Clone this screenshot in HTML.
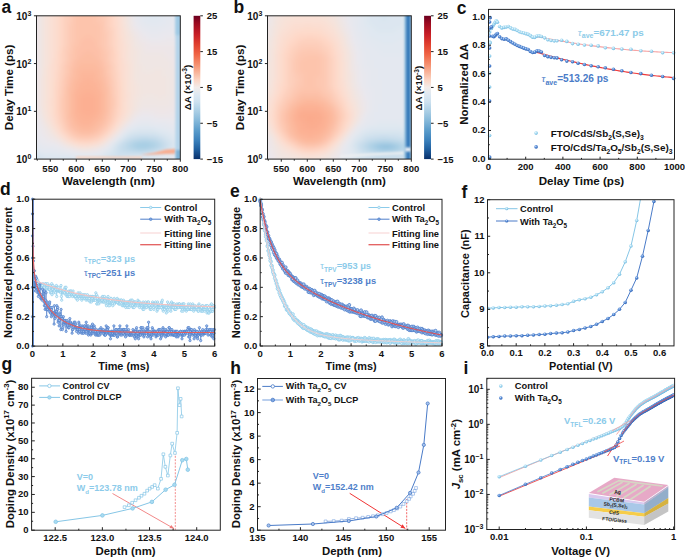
<!DOCTYPE html><html><head><meta charset="utf-8"><style>html,body{margin:0;padding:0;background:#fff;width:685px;height:557px;overflow:hidden}text{font-family:"Liberation Sans",sans-serif}</style></head><body><svg width="685" height="557" viewBox="0 0 685 557" style="display:block;font-family:'Liberation Sans',sans-serif">
<rect width="685" height="557" fill="#fff"/>
<defs>
<radialGradient id="gL" cx="0.4" cy="0.35" r="0.65"><stop offset="0" stop-color="#eef9ff"/><stop offset="0.45" stop-color="#a9dcf2"/><stop offset="1" stop-color="#6fb8df"/></radialGradient>
<radialGradient id="gD" cx="0.4" cy="0.35" r="0.65"><stop offset="0" stop-color="#c8dcf6"/><stop offset="0.45" stop-color="#5b8fd8"/><stop offset="1" stop-color="#2f62b4"/></radialGradient>
</defs>
<defs><filter id="bl4" x="-50%" y="-50%" width="200%" height="200%"><feGaussianBlur stdDeviation="4"/></filter><filter id="bl2" x="-50%" y="-50%" width="200%" height="200%"><feGaussianBlur stdDeviation="1.8"/></filter><filter id="bl1" x="-50%" y="-50%" width="200%" height="200%"><feGaussianBlur stdDeviation="0.9"/></filter></defs>
<defs><clipPath id="clipA"><rect x="36.5" y="15.8" width="143.80" height="143.30"/></clipPath><filter id="clipAf" x="-10%" y="-10%" width="120%" height="120%"><feGaussianBlur stdDeviation="2.4"/></filter></defs>
<g clip-path="url(#clipA)"><g filter="url(#clipAf)" shape-rendering="crispEdges">
<path d="M28 8h8.6v4.6H28z" fill="#ebe7eb"/>
<path d="M36 8h4.6v4.6H36z" fill="#ede6e8"/>
<path d="M40 8h4.6v4.6H40z" fill="#f1e5e1"/>
<path d="M44 8h4.6v4.6H44z" fill="#f5e3dc"/>
<path d="M48 8h4.6v4.6H48z" fill="#f9e1d7"/>
<path d="M52 8h4.6v4.6H52z" fill="#fbded2"/>
<path d="M56 8h4.6v4.6H56z" fill="#fddbcc"/>
<path d="M60 8h4.6v4.6H60z" fill="#fed6c5"/>
<path d="M64 8h4.6v4.6H64z" fill="#fdd0bd"/>
<path d="M68 8h4.6v4.6H68z" fill="#fdcdb9"/>
<path d="M72 8h8.6v4.6H72z" fill="#fdc7b1"/>
<path d="M80 8h16.6v4.6H80z" fill="#fdc4ac"/>
<path d="M96 8h4.6v4.6H96z" fill="#fdc7b1"/>
<path d="M100 8h4.6v4.6H100z" fill="#fdcab5"/>
<path d="M104 8h4.6v4.6H104z" fill="#fdcdb9"/>
<path d="M108 8h4.6v4.6H108z" fill="#fed3c1"/>
<path d="M112 8h4.6v4.6H112z" fill="#fed9c9"/>
<path d="M116 8h4.6v4.6H116z" fill="#fbded2"/>
<path d="M120 8h4.6v4.6H120z" fill="#f9e1d7"/>
<path d="M124 8h4.6v4.6H124z" fill="#f3e4df"/>
<path d="M128 8h4.6v4.6H128z" fill="#ede6e8"/>
<path d="M132 8h4.6v4.6H132z" fill="#e9e8ee"/>
<path d="M136 8h4.6v4.6H136z" fill="#e5e8ef"/>
<path d="M140 8h4.6v4.6H140z" fill="#e4e8f0"/>
<path d="M144 8h4.6v4.6H144z" fill="#e2e8f0"/>
<path d="M148 8h12.6v4.6H148z" fill="#e0e8f1"/>
<path d="M160 8h8.6v4.6H160z" fill="#e2e8f0"/>
<path d="M168 8h4.6v4.6H168z" fill="#e4e8f0"/>
<path d="M172 8h4.6v4.6H172z" fill="#e5e8ef"/>
<path d="M176 8h12.6v4.6H176z" fill="#e7e8ef"/>
<path d="M28 12h8.6v4.6H28z" fill="#ebe7eb"/>
<path d="M36 12h4.6v4.6H36z" fill="#ede6e8"/>
<path d="M40 12h4.6v4.6H40z" fill="#f1e5e1"/>
<path d="M44 12h4.6v4.6H44z" fill="#f5e3dc"/>
<path d="M48 12h4.6v4.6H48z" fill="#f9e1d7"/>
<path d="M52 12h4.6v4.6H52z" fill="#fbded2"/>
<path d="M56 12h4.6v4.6H56z" fill="#fddbcc"/>
<path d="M60 12h4.6v4.6H60z" fill="#fed6c5"/>
<path d="M64 12h4.6v4.6H64z" fill="#fdd0bd"/>
<path d="M68 12h4.6v4.6H68z" fill="#fdcdb9"/>
<path d="M72 12h8.6v4.6H72z" fill="#fdc7b1"/>
<path d="M80 12h16.6v4.6H80z" fill="#fdc4ac"/>
<path d="M96 12h4.6v4.6H96z" fill="#fdc7b1"/>
<path d="M100 12h4.6v4.6H100z" fill="#fdcab5"/>
<path d="M104 12h4.6v4.6H104z" fill="#fdcdb9"/>
<path d="M108 12h4.6v4.6H108z" fill="#fed3c1"/>
<path d="M112 12h4.6v4.6H112z" fill="#fed9c9"/>
<path d="M116 12h4.6v4.6H116z" fill="#fbded2"/>
<path d="M120 12h4.6v4.6H120z" fill="#f9e1d7"/>
<path d="M124 12h4.6v4.6H124z" fill="#f3e4df"/>
<path d="M128 12h4.6v4.6H128z" fill="#ede6e8"/>
<path d="M132 12h4.6v4.6H132z" fill="#e9e8ee"/>
<path d="M136 12h4.6v4.6H136z" fill="#e5e8ef"/>
<path d="M140 12h4.6v4.6H140z" fill="#e4e8f0"/>
<path d="M144 12h4.6v4.6H144z" fill="#e2e8f0"/>
<path d="M148 12h12.6v4.6H148z" fill="#e0e8f1"/>
<path d="M160 12h8.6v4.6H160z" fill="#e2e8f0"/>
<path d="M168 12h4.6v4.6H168z" fill="#e4e8f0"/>
<path d="M172 12h4.6v4.6H172z" fill="#e5e8ef"/>
<path d="M176 12h12.6v4.6H176z" fill="#e7e8ef"/>
<path d="M28 16h8.6v4.6H28z" fill="#ebe7eb"/>
<path d="M36 16h4.6v4.6H36z" fill="#ede6e8"/>
<path d="M40 16h4.6v4.6H40z" fill="#f1e5e1"/>
<path d="M44 16h4.6v4.6H44z" fill="#f5e3dc"/>
<path d="M48 16h4.6v4.6H48z" fill="#f9e1d7"/>
<path d="M52 16h4.6v4.6H52z" fill="#fbded2"/>
<path d="M56 16h4.6v4.6H56z" fill="#fddbcc"/>
<path d="M60 16h4.6v4.6H60z" fill="#fed6c5"/>
<path d="M64 16h4.6v4.6H64z" fill="#fdd0bd"/>
<path d="M68 16h4.6v4.6H68z" fill="#fdcdb9"/>
<path d="M72 16h4.6v4.6H72z" fill="#fdc7b1"/>
<path d="M76 16h20.6v4.6H76z" fill="#fdc4ac"/>
<path d="M96 16h4.6v4.6H96z" fill="#fdc7b1"/>
<path d="M100 16h4.6v4.6H100z" fill="#fdcab5"/>
<path d="M104 16h4.6v4.6H104z" fill="#fdcdb9"/>
<path d="M108 16h4.6v4.6H108z" fill="#fed3c1"/>
<path d="M112 16h4.6v4.6H112z" fill="#fed9c9"/>
<path d="M116 16h4.6v4.6H116z" fill="#fbded2"/>
<path d="M120 16h4.6v4.6H120z" fill="#f9e1d7"/>
<path d="M124 16h4.6v4.6H124z" fill="#f3e4df"/>
<path d="M128 16h4.6v4.6H128z" fill="#efe6e4"/>
<path d="M132 16h4.6v4.6H132z" fill="#e9e8ee"/>
<path d="M136 16h4.6v4.6H136z" fill="#e5e8ef"/>
<path d="M140 16h4.6v4.6H140z" fill="#e4e8f0"/>
<path d="M144 16h4.6v4.6H144z" fill="#e2e8f0"/>
<path d="M148 16h12.6v4.6H148z" fill="#e0e8f1"/>
<path d="M160 16h4.6v4.6H160z" fill="#e2e8f0"/>
<path d="M164 16h8.6v4.6H164z" fill="#e4e8f0"/>
<path d="M172 16h4.6v4.6H172z" fill="#e5e8ef"/>
<path d="M176 16h12.6v4.6H176z" fill="#e7e8ef"/>
<path d="M28 20h8.6v4.6H28z" fill="#ebe7eb"/>
<path d="M36 20h4.6v4.6H36z" fill="#ede6e8"/>
<path d="M40 20h4.6v4.6H40z" fill="#f1e5e1"/>
<path d="M44 20h4.6v4.6H44z" fill="#f5e3dc"/>
<path d="M48 20h4.6v4.6H48z" fill="#f9e1d7"/>
<path d="M52 20h4.6v4.6H52z" fill="#fbded2"/>
<path d="M56 20h4.6v4.6H56z" fill="#fddbcc"/>
<path d="M60 20h4.6v4.6H60z" fill="#fed6c5"/>
<path d="M64 20h4.6v4.6H64z" fill="#fdd0bd"/>
<path d="M68 20h4.6v4.6H68z" fill="#fdcdb9"/>
<path d="M72 20h4.6v4.6H72z" fill="#fdc7b1"/>
<path d="M76 20h20.6v4.6H76z" fill="#fdc4ac"/>
<path d="M96 20h8.6v4.6H96z" fill="#fdc7b1"/>
<path d="M104 20h4.6v4.6H104z" fill="#fdcdb9"/>
<path d="M108 20h4.6v4.6H108z" fill="#fed3c1"/>
<path d="M112 20h4.6v4.6H112z" fill="#fed9c9"/>
<path d="M116 20h4.6v4.6H116z" fill="#fcdccf"/>
<path d="M120 20h4.6v4.6H120z" fill="#f9e1d7"/>
<path d="M124 20h4.6v4.6H124z" fill="#f3e4df"/>
<path d="M128 20h4.6v4.6H128z" fill="#efe6e4"/>
<path d="M132 20h4.6v4.6H132z" fill="#ebe7eb"/>
<path d="M136 20h4.6v4.6H136z" fill="#e7e8ef"/>
<path d="M140 20h4.6v4.6H140z" fill="#e4e8f0"/>
<path d="M144 20h16.6v4.6H144z" fill="#e2e8f0"/>
<path d="M160 20h8.6v4.6H160z" fill="#e4e8f0"/>
<path d="M168 20h4.6v4.6H168z" fill="#e5e8ef"/>
<path d="M172 20h8.6v4.6H172z" fill="#e7e8ef"/>
<path d="M180 20h8.6v4.6H180z" fill="#e9e8ee"/>
<path d="M28 24h8.6v4.6H28z" fill="#ebe7eb"/>
<path d="M36 24h4.6v4.6H36z" fill="#ede6e8"/>
<path d="M40 24h4.6v4.6H40z" fill="#f1e5e1"/>
<path d="M44 24h4.6v4.6H44z" fill="#f5e3dc"/>
<path d="M48 24h4.6v4.6H48z" fill="#f9e1d7"/>
<path d="M52 24h4.6v4.6H52z" fill="#fbded2"/>
<path d="M56 24h4.6v4.6H56z" fill="#fddbcc"/>
<path d="M60 24h4.6v4.6H60z" fill="#fed6c5"/>
<path d="M64 24h4.6v4.6H64z" fill="#fdd0bd"/>
<path d="M68 24h4.6v4.6H68z" fill="#fdcab5"/>
<path d="M72 24h4.6v4.6H72z" fill="#fdc7b1"/>
<path d="M76 24h24.6v4.6H76z" fill="#fdc4ac"/>
<path d="M100 24h4.6v4.6H100z" fill="#fdc7b1"/>
<path d="M104 24h4.6v4.6H104z" fill="#fdcdb9"/>
<path d="M108 24h4.6v4.6H108z" fill="#fed3c1"/>
<path d="M112 24h4.6v4.6H112z" fill="#fed9c9"/>
<path d="M116 24h4.6v4.6H116z" fill="#fcdccf"/>
<path d="M120 24h4.6v4.6H120z" fill="#f9e1d7"/>
<path d="M124 24h4.6v4.6H124z" fill="#f5e3dc"/>
<path d="M128 24h4.6v4.6H128z" fill="#efe6e4"/>
<path d="M132 24h4.6v4.6H132z" fill="#ebe7eb"/>
<path d="M136 24h4.6v4.6H136z" fill="#e9e8ee"/>
<path d="M140 24h8.6v4.6H140z" fill="#e5e8ef"/>
<path d="M148 24h16.6v4.6H148z" fill="#e4e8f0"/>
<path d="M164 24h4.6v4.6H164z" fill="#e5e8ef"/>
<path d="M168 24h8.6v4.6H168z" fill="#e7e8ef"/>
<path d="M176 24h12.6v4.6H176z" fill="#e9e8ee"/>
<path d="M28 28h8.6v4.6H28z" fill="#ebe7eb"/>
<path d="M36 28h4.6v4.6H36z" fill="#ede6e8"/>
<path d="M40 28h4.6v4.6H40z" fill="#f1e5e1"/>
<path d="M44 28h4.6v4.6H44z" fill="#f5e3dc"/>
<path d="M48 28h4.6v4.6H48z" fill="#f9e1d7"/>
<path d="M52 28h4.6v4.6H52z" fill="#fbded2"/>
<path d="M56 28h4.6v4.6H56z" fill="#fddbcc"/>
<path d="M60 28h4.6v4.6H60z" fill="#fed6c5"/>
<path d="M64 28h4.6v4.6H64z" fill="#fdd0bd"/>
<path d="M68 28h4.6v4.6H68z" fill="#fdcab5"/>
<path d="M72 28h4.6v4.6H72z" fill="#fdc7b1"/>
<path d="M76 28h24.6v4.6H76z" fill="#fdc4ac"/>
<path d="M100 28h4.6v4.6H100z" fill="#fdc7b1"/>
<path d="M104 28h4.6v4.6H104z" fill="#fdcdb9"/>
<path d="M108 28h4.6v4.6H108z" fill="#fdd0bd"/>
<path d="M112 28h4.6v4.6H112z" fill="#fed6c5"/>
<path d="M116 28h4.6v4.6H116z" fill="#fcdccf"/>
<path d="M120 28h4.6v4.6H120z" fill="#fae0d4"/>
<path d="M124 28h4.6v4.6H124z" fill="#f5e3dc"/>
<path d="M128 28h4.6v4.6H128z" fill="#f1e5e1"/>
<path d="M132 28h4.6v4.6H132z" fill="#ede6e8"/>
<path d="M136 28h4.6v4.6H136z" fill="#ebe7eb"/>
<path d="M140 28h8.6v4.6H140z" fill="#e7e8ef"/>
<path d="M148 28h12.6v4.6H148z" fill="#e5e8ef"/>
<path d="M160 28h12.6v4.6H160z" fill="#e7e8ef"/>
<path d="M172 28h16.6v4.6H172z" fill="#e9e8ee"/>
<path d="M28 32h8.6v4.6H28z" fill="#ebe7eb"/>
<path d="M36 32h4.6v4.6H36z" fill="#ede6e8"/>
<path d="M40 32h4.6v4.6H40z" fill="#f1e5e1"/>
<path d="M44 32h4.6v4.6H44z" fill="#f5e3dc"/>
<path d="M48 32h4.6v4.6H48z" fill="#f9e1d7"/>
<path d="M52 32h4.6v4.6H52z" fill="#fbded2"/>
<path d="M56 32h4.6v4.6H56z" fill="#fddbcc"/>
<path d="M60 32h4.6v4.6H60z" fill="#fed6c5"/>
<path d="M64 32h4.6v4.6H64z" fill="#fdd0bd"/>
<path d="M68 32h4.6v4.6H68z" fill="#fdcab5"/>
<path d="M72 32h4.6v4.6H72z" fill="#fdc7b1"/>
<path d="M76 32h24.6v4.6H76z" fill="#fdc4ac"/>
<path d="M100 32h4.6v4.6H100z" fill="#fdc7b1"/>
<path d="M104 32h4.6v4.6H104z" fill="#fdcab5"/>
<path d="M108 32h4.6v4.6H108z" fill="#fdd0bd"/>
<path d="M112 32h4.6v4.6H112z" fill="#fed6c5"/>
<path d="M116 32h4.6v4.6H116z" fill="#fcdccf"/>
<path d="M120 32h4.6v4.6H120z" fill="#fae0d4"/>
<path d="M124 32h4.6v4.6H124z" fill="#f7e2d9"/>
<path d="M128 32h4.6v4.6H128z" fill="#f3e4df"/>
<path d="M132 32h4.6v4.6H132z" fill="#efe6e4"/>
<path d="M136 32h4.6v4.6H136z" fill="#ede6e8"/>
<path d="M140 32h4.6v4.6H140z" fill="#ebe7eb"/>
<path d="M144 32h4.6v4.6H144z" fill="#e9e8ee"/>
<path d="M148 32h12.6v4.6H148z" fill="#e7e8ef"/>
<path d="M160 32h16.6v4.6H160z" fill="#e9e8ee"/>
<path d="M176 32h12.6v4.6H176z" fill="#ebe7eb"/>
<path d="M28 36h8.6v4.6H28z" fill="#ebe7eb"/>
<path d="M36 36h4.6v4.6H36z" fill="#ede6e8"/>
<path d="M40 36h4.6v4.6H40z" fill="#f1e5e1"/>
<path d="M44 36h4.6v4.6H44z" fill="#f5e3dc"/>
<path d="M48 36h4.6v4.6H48z" fill="#f9e1d7"/>
<path d="M52 36h4.6v4.6H52z" fill="#fbded2"/>
<path d="M56 36h4.6v4.6H56z" fill="#fddbcc"/>
<path d="M60 36h4.6v4.6H60z" fill="#fed6c5"/>
<path d="M64 36h4.6v4.6H64z" fill="#fdd0bd"/>
<path d="M68 36h4.6v4.6H68z" fill="#fdcab5"/>
<path d="M72 36h4.6v4.6H72z" fill="#fdc7b1"/>
<path d="M76 36h8.6v4.6H76z" fill="#fdc4ac"/>
<path d="M84 36h8.6v4.6H84z" fill="#fdc0a8"/>
<path d="M92 36h8.6v4.6H92z" fill="#fdc4ac"/>
<path d="M100 36h4.6v4.6H100z" fill="#fdc7b1"/>
<path d="M104 36h4.6v4.6H104z" fill="#fdcab5"/>
<path d="M108 36h4.6v4.6H108z" fill="#fdd0bd"/>
<path d="M112 36h4.6v4.6H112z" fill="#fed6c5"/>
<path d="M116 36h4.6v4.6H116z" fill="#fddbcc"/>
<path d="M120 36h4.6v4.6H120z" fill="#fae0d4"/>
<path d="M124 36h4.6v4.6H124z" fill="#f7e2d9"/>
<path d="M128 36h4.6v4.6H128z" fill="#f3e4df"/>
<path d="M132 36h4.6v4.6H132z" fill="#f1e5e1"/>
<path d="M136 36h4.6v4.6H136z" fill="#ede6e8"/>
<path d="M140 36h8.6v4.6H140z" fill="#ebe7eb"/>
<path d="M148 36h16.6v4.6H148z" fill="#e9e8ee"/>
<path d="M164 36h24.6v4.6H164z" fill="#ebe7eb"/>
<path d="M28 40h8.6v4.6H28z" fill="#ebe7eb"/>
<path d="M36 40h4.6v4.6H36z" fill="#ede6e8"/>
<path d="M40 40h4.6v4.6H40z" fill="#f1e5e1"/>
<path d="M44 40h4.6v4.6H44z" fill="#f5e3dc"/>
<path d="M48 40h4.6v4.6H48z" fill="#f9e1d7"/>
<path d="M52 40h4.6v4.6H52z" fill="#fbded2"/>
<path d="M56 40h4.6v4.6H56z" fill="#fddbcc"/>
<path d="M60 40h4.6v4.6H60z" fill="#fed6c5"/>
<path d="M64 40h4.6v4.6H64z" fill="#fdd0bd"/>
<path d="M68 40h4.6v4.6H68z" fill="#fdcab5"/>
<path d="M72 40h4.6v4.6H72z" fill="#fdc7b1"/>
<path d="M76 40h4.6v4.6H76z" fill="#fdc4ac"/>
<path d="M80 40h16.6v4.6H80z" fill="#fdc0a8"/>
<path d="M96 40h4.6v4.6H96z" fill="#fdc4ac"/>
<path d="M100 40h4.6v4.6H100z" fill="#fdc7b1"/>
<path d="M104 40h4.6v4.6H104z" fill="#fdcab5"/>
<path d="M108 40h4.6v4.6H108z" fill="#fdd0bd"/>
<path d="M112 40h4.6v4.6H112z" fill="#fed6c5"/>
<path d="M116 40h4.6v4.6H116z" fill="#fddbcc"/>
<path d="M120 40h4.6v4.6H120z" fill="#fbded2"/>
<path d="M124 40h4.6v4.6H124z" fill="#f7e2d9"/>
<path d="M128 40h4.6v4.6H128z" fill="#f5e3dc"/>
<path d="M132 40h4.6v4.6H132z" fill="#f1e5e1"/>
<path d="M136 40h4.6v4.6H136z" fill="#efe6e4"/>
<path d="M140 40h8.6v4.6H140z" fill="#ede6e8"/>
<path d="M148 40h40.6v4.6H148z" fill="#ebe7eb"/>
<path d="M28 44h8.6v4.6H28z" fill="#ebe7eb"/>
<path d="M36 44h4.6v4.6H36z" fill="#ede6e8"/>
<path d="M40 44h4.6v4.6H40z" fill="#f1e5e1"/>
<path d="M44 44h4.6v4.6H44z" fill="#f5e3dc"/>
<path d="M48 44h4.6v4.6H48z" fill="#f9e1d7"/>
<path d="M52 44h4.6v4.6H52z" fill="#fbded2"/>
<path d="M56 44h4.6v4.6H56z" fill="#fddbcc"/>
<path d="M60 44h4.6v4.6H60z" fill="#fed6c5"/>
<path d="M64 44h4.6v4.6H64z" fill="#fdd0bd"/>
<path d="M68 44h4.6v4.6H68z" fill="#fdcab5"/>
<path d="M72 44h8.6v4.6H72z" fill="#fdc4ac"/>
<path d="M80 44h16.6v4.6H80z" fill="#fdc0a8"/>
<path d="M96 44h4.6v4.6H96z" fill="#fdc4ac"/>
<path d="M100 44h4.6v4.6H100z" fill="#fdc7b1"/>
<path d="M104 44h4.6v4.6H104z" fill="#fdcab5"/>
<path d="M108 44h4.6v4.6H108z" fill="#fdd0bd"/>
<path d="M112 44h4.6v4.6H112z" fill="#fed6c5"/>
<path d="M116 44h4.6v4.6H116z" fill="#fddbcc"/>
<path d="M120 44h4.6v4.6H120z" fill="#fbded2"/>
<path d="M124 44h4.6v4.6H124z" fill="#f9e1d7"/>
<path d="M128 44h4.6v4.6H128z" fill="#f5e3dc"/>
<path d="M132 44h4.6v4.6H132z" fill="#f1e5e1"/>
<path d="M136 44h8.6v4.6H136z" fill="#efe6e4"/>
<path d="M144 44h44.6v4.6H144z" fill="#ede6e8"/>
<path d="M28 48h8.6v4.6H28z" fill="#ebe7eb"/>
<path d="M36 48h4.6v4.6H36z" fill="#ede6e8"/>
<path d="M40 48h4.6v4.6H40z" fill="#f1e5e1"/>
<path d="M44 48h4.6v4.6H44z" fill="#f5e3dc"/>
<path d="M48 48h4.6v4.6H48z" fill="#f9e1d7"/>
<path d="M52 48h4.6v4.6H52z" fill="#fbded2"/>
<path d="M56 48h4.6v4.6H56z" fill="#fddbcc"/>
<path d="M60 48h4.6v4.6H60z" fill="#fed3c1"/>
<path d="M64 48h4.6v4.6H64z" fill="#fdcdb9"/>
<path d="M68 48h4.6v4.6H68z" fill="#fdcab5"/>
<path d="M72 48h4.6v4.6H72z" fill="#fdc4ac"/>
<path d="M76 48h24.6v4.6H76z" fill="#fdc0a8"/>
<path d="M100 48h4.6v4.6H100z" fill="#fdc4ac"/>
<path d="M104 48h4.6v4.6H104z" fill="#fdcab5"/>
<path d="M108 48h4.6v4.6H108z" fill="#fdcdb9"/>
<path d="M112 48h4.6v4.6H112z" fill="#fed3c1"/>
<path d="M116 48h4.6v4.6H116z" fill="#fddbcc"/>
<path d="M120 48h4.6v4.6H120z" fill="#fbded2"/>
<path d="M124 48h4.6v4.6H124z" fill="#f9e1d7"/>
<path d="M128 48h4.6v4.6H128z" fill="#f5e3dc"/>
<path d="M132 48h4.6v4.6H132z" fill="#f3e4df"/>
<path d="M136 48h4.6v4.6H136z" fill="#f1e5e1"/>
<path d="M140 48h4.6v4.6H140z" fill="#efe6e4"/>
<path d="M144 48h44.6v4.6H144z" fill="#ede6e8"/>
<path d="M28 52h8.6v4.6H28z" fill="#ebe7eb"/>
<path d="M36 52h4.6v4.6H36z" fill="#ede6e8"/>
<path d="M40 52h4.6v4.6H40z" fill="#f1e5e1"/>
<path d="M44 52h4.6v4.6H44z" fill="#f5e3dc"/>
<path d="M48 52h4.6v4.6H48z" fill="#f9e1d7"/>
<path d="M52 52h4.6v4.6H52z" fill="#fbded2"/>
<path d="M56 52h4.6v4.6H56z" fill="#fed9c9"/>
<path d="M60 52h4.6v4.6H60z" fill="#fed3c1"/>
<path d="M64 52h4.6v4.6H64z" fill="#fdcdb9"/>
<path d="M68 52h4.6v4.6H68z" fill="#fdc7b1"/>
<path d="M72 52h4.6v4.6H72z" fill="#fdc4ac"/>
<path d="M76 52h8.6v4.6H76z" fill="#fdc0a8"/>
<path d="M84 52h8.6v4.6H84z" fill="#fcbda3"/>
<path d="M92 52h8.6v4.6H92z" fill="#fdc0a8"/>
<path d="M100 52h4.6v4.6H100z" fill="#fdc4ac"/>
<path d="M104 52h4.6v4.6H104z" fill="#fdc7b1"/>
<path d="M108 52h4.6v4.6H108z" fill="#fdcdb9"/>
<path d="M112 52h4.6v4.6H112z" fill="#fed3c1"/>
<path d="M116 52h4.6v4.6H116z" fill="#fed9c9"/>
<path d="M120 52h4.6v4.6H120z" fill="#fbded2"/>
<path d="M124 52h4.6v4.6H124z" fill="#f9e1d7"/>
<path d="M128 52h4.6v4.6H128z" fill="#f5e3dc"/>
<path d="M132 52h4.6v4.6H132z" fill="#f3e4df"/>
<path d="M136 52h4.6v4.6H136z" fill="#f1e5e1"/>
<path d="M140 52h24.6v4.6H140z" fill="#efe6e4"/>
<path d="M164 52h24.6v4.6H164z" fill="#ede6e8"/>
<path d="M28 56h8.6v4.6H28z" fill="#ebe7eb"/>
<path d="M36 56h4.6v4.6H36z" fill="#ede6e8"/>
<path d="M40 56h4.6v4.6H40z" fill="#f1e5e1"/>
<path d="M44 56h4.6v4.6H44z" fill="#f5e3dc"/>
<path d="M48 56h4.6v4.6H48z" fill="#f9e1d7"/>
<path d="M52 56h4.6v4.6H52z" fill="#fbded2"/>
<path d="M56 56h4.6v4.6H56z" fill="#fed9c9"/>
<path d="M60 56h4.6v4.6H60z" fill="#fed3c1"/>
<path d="M64 56h4.6v4.6H64z" fill="#fdcdb9"/>
<path d="M68 56h4.6v4.6H68z" fill="#fdc7b1"/>
<path d="M72 56h4.6v4.6H72z" fill="#fdc4ac"/>
<path d="M76 56h4.6v4.6H76z" fill="#fdc0a8"/>
<path d="M80 56h16.6v4.6H80z" fill="#fcbda3"/>
<path d="M96 56h4.6v4.6H96z" fill="#fdc0a8"/>
<path d="M100 56h4.6v4.6H100z" fill="#fdc4ac"/>
<path d="M104 56h4.6v4.6H104z" fill="#fdc7b1"/>
<path d="M108 56h4.6v4.6H108z" fill="#fdcdb9"/>
<path d="M112 56h4.6v4.6H112z" fill="#fed3c1"/>
<path d="M116 56h4.6v4.6H116z" fill="#fed9c9"/>
<path d="M120 56h4.6v4.6H120z" fill="#fbded2"/>
<path d="M124 56h4.6v4.6H124z" fill="#f9e1d7"/>
<path d="M128 56h4.6v4.6H128z" fill="#f5e3dc"/>
<path d="M132 56h4.6v4.6H132z" fill="#f3e4df"/>
<path d="M136 56h4.6v4.6H136z" fill="#f1e5e1"/>
<path d="M140 56h28.6v4.6H140z" fill="#efe6e4"/>
<path d="M168 56h20.6v4.6H168z" fill="#ede6e8"/>
<path d="M28 60h8.6v4.6H28z" fill="#ebe7eb"/>
<path d="M36 60h4.6v4.6H36z" fill="#ede6e8"/>
<path d="M40 60h4.6v4.6H40z" fill="#f1e5e1"/>
<path d="M44 60h4.6v4.6H44z" fill="#f5e3dc"/>
<path d="M48 60h4.6v4.6H48z" fill="#f9e1d7"/>
<path d="M52 60h4.6v4.6H52z" fill="#fcdccf"/>
<path d="M56 60h4.6v4.6H56z" fill="#fed9c9"/>
<path d="M60 60h4.6v4.6H60z" fill="#fed3c1"/>
<path d="M64 60h4.6v4.6H64z" fill="#fdcdb9"/>
<path d="M68 60h4.6v4.6H68z" fill="#fdc7b1"/>
<path d="M72 60h4.6v4.6H72z" fill="#fdc0a8"/>
<path d="M76 60h24.6v4.6H76z" fill="#fcbda3"/>
<path d="M100 60h4.6v4.6H100z" fill="#fdc0a8"/>
<path d="M104 60h4.6v4.6H104z" fill="#fdc7b1"/>
<path d="M108 60h4.6v4.6H108z" fill="#fdcdb9"/>
<path d="M112 60h4.6v4.6H112z" fill="#fed3c1"/>
<path d="M116 60h4.6v4.6H116z" fill="#fed9c9"/>
<path d="M120 60h4.6v4.6H120z" fill="#fcdccf"/>
<path d="M124 60h4.6v4.6H124z" fill="#f9e1d7"/>
<path d="M128 60h4.6v4.6H128z" fill="#f7e2d9"/>
<path d="M132 60h4.6v4.6H132z" fill="#f3e4df"/>
<path d="M136 60h4.6v4.6H136z" fill="#f1e5e1"/>
<path d="M140 60h32.6v4.6H140z" fill="#efe6e4"/>
<path d="M172 60h16.6v4.6H172z" fill="#ede6e8"/>
<path d="M28 64h8.6v4.6H28z" fill="#ebe7eb"/>
<path d="M36 64h4.6v4.6H36z" fill="#ede6e8"/>
<path d="M40 64h4.6v4.6H40z" fill="#f1e5e1"/>
<path d="M44 64h4.6v4.6H44z" fill="#f5e3dc"/>
<path d="M48 64h4.6v4.6H48z" fill="#fae0d4"/>
<path d="M52 64h4.6v4.6H52z" fill="#fcdccf"/>
<path d="M56 64h4.6v4.6H56z" fill="#fed9c9"/>
<path d="M60 64h4.6v4.6H60z" fill="#fdd0bd"/>
<path d="M64 64h4.6v4.6H64z" fill="#fdcab5"/>
<path d="M68 64h4.6v4.6H68z" fill="#fdc4ac"/>
<path d="M72 64h4.6v4.6H72z" fill="#fdc0a8"/>
<path d="M76 64h4.6v4.6H76z" fill="#fcbda3"/>
<path d="M80 64h16.6v4.6H80z" fill="#fcba9f"/>
<path d="M96 64h4.6v4.6H96z" fill="#fcbda3"/>
<path d="M100 64h4.6v4.6H100z" fill="#fdc0a8"/>
<path d="M104 64h4.6v4.6H104z" fill="#fdc4ac"/>
<path d="M108 64h4.6v4.6H108z" fill="#fdcab5"/>
<path d="M112 64h4.6v4.6H112z" fill="#fdd0bd"/>
<path d="M116 64h4.6v4.6H116z" fill="#fed9c9"/>
<path d="M120 64h4.6v4.6H120z" fill="#fcdccf"/>
<path d="M124 64h4.6v4.6H124z" fill="#fae0d4"/>
<path d="M128 64h4.6v4.6H128z" fill="#f7e2d9"/>
<path d="M132 64h4.6v4.6H132z" fill="#f3e4df"/>
<path d="M136 64h8.6v4.6H136z" fill="#f1e5e1"/>
<path d="M144 64h28.6v4.6H144z" fill="#efe6e4"/>
<path d="M172 64h16.6v4.6H172z" fill="#ede6e8"/>
<path d="M28 68h8.6v4.6H28z" fill="#ebe7eb"/>
<path d="M36 68h4.6v4.6H36z" fill="#ede6e8"/>
<path d="M40 68h4.6v4.6H40z" fill="#f1e5e1"/>
<path d="M44 68h4.6v4.6H44z" fill="#f7e2d9"/>
<path d="M48 68h4.6v4.6H48z" fill="#fae0d4"/>
<path d="M52 68h4.6v4.6H52z" fill="#fcdccf"/>
<path d="M56 68h4.6v4.6H56z" fill="#fed9c9"/>
<path d="M60 68h4.6v4.6H60z" fill="#fdd0bd"/>
<path d="M64 68h4.6v4.6H64z" fill="#fdcab5"/>
<path d="M68 68h4.6v4.6H68z" fill="#fdc4ac"/>
<path d="M72 68h4.6v4.6H72z" fill="#fcbda3"/>
<path d="M76 68h24.6v4.6H76z" fill="#fcba9f"/>
<path d="M100 68h4.6v4.6H100z" fill="#fcbda3"/>
<path d="M104 68h4.6v4.6H104z" fill="#fdc4ac"/>
<path d="M108 68h4.6v4.6H108z" fill="#fdcab5"/>
<path d="M112 68h4.6v4.6H112z" fill="#fdd0bd"/>
<path d="M116 68h4.6v4.6H116z" fill="#fed9c9"/>
<path d="M120 68h4.6v4.6H120z" fill="#fcdccf"/>
<path d="M124 68h4.6v4.6H124z" fill="#fae0d4"/>
<path d="M128 68h4.6v4.6H128z" fill="#f7e2d9"/>
<path d="M132 68h4.6v4.6H132z" fill="#f3e4df"/>
<path d="M136 68h8.6v4.6H136z" fill="#f1e5e1"/>
<path d="M144 68h8.6v4.6H144z" fill="#efe6e4"/>
<path d="M152 68h12.6v4.6H152z" fill="#f1e5e1"/>
<path d="M164 68h12.6v4.6H164z" fill="#efe6e4"/>
<path d="M176 68h12.6v4.6H176z" fill="#ede6e8"/>
<path d="M28 72h8.6v4.6H28z" fill="#ebe7eb"/>
<path d="M36 72h4.6v4.6H36z" fill="#ede6e8"/>
<path d="M40 72h4.6v4.6H40z" fill="#f1e5e1"/>
<path d="M44 72h4.6v4.6H44z" fill="#f7e2d9"/>
<path d="M48 72h4.6v4.6H48z" fill="#fae0d4"/>
<path d="M52 72h4.6v4.6H52z" fill="#fcdccf"/>
<path d="M56 72h4.6v4.6H56z" fill="#fed6c5"/>
<path d="M60 72h4.6v4.6H60z" fill="#fdd0bd"/>
<path d="M64 72h4.6v4.6H64z" fill="#fdcab5"/>
<path d="M68 72h4.6v4.6H68z" fill="#fdc4ac"/>
<path d="M72 72h4.6v4.6H72z" fill="#fcbda3"/>
<path d="M76 72h4.6v4.6H76z" fill="#fcba9f"/>
<path d="M80 72h16.6v4.6H80z" fill="#fcb69a"/>
<path d="M96 72h4.6v4.6H96z" fill="#fcba9f"/>
<path d="M100 72h4.6v4.6H100z" fill="#fcbda3"/>
<path d="M104 72h4.6v4.6H104z" fill="#fdc4ac"/>
<path d="M108 72h4.6v4.6H108z" fill="#fdcab5"/>
<path d="M112 72h4.6v4.6H112z" fill="#fdd0bd"/>
<path d="M116 72h4.6v4.6H116z" fill="#fed6c5"/>
<path d="M120 72h4.6v4.6H120z" fill="#fcdccf"/>
<path d="M124 72h4.6v4.6H124z" fill="#fae0d4"/>
<path d="M128 72h4.6v4.6H128z" fill="#f7e2d9"/>
<path d="M132 72h4.6v4.6H132z" fill="#f3e4df"/>
<path d="M136 72h28.6v4.6H136z" fill="#f1e5e1"/>
<path d="M164 72h12.6v4.6H164z" fill="#efe6e4"/>
<path d="M176 72h12.6v4.6H176z" fill="#ede6e8"/>
<path d="M28 76h12.6v4.6H28z" fill="#ede6e8"/>
<path d="M40 76h4.6v4.6H40z" fill="#f3e4df"/>
<path d="M44 76h4.6v4.6H44z" fill="#f7e2d9"/>
<path d="M48 76h4.6v4.6H48z" fill="#fae0d4"/>
<path d="M52 76h4.6v4.6H52z" fill="#fcdccf"/>
<path d="M56 76h4.6v4.6H56z" fill="#fed6c5"/>
<path d="M60 76h4.6v4.6H60z" fill="#fdd0bd"/>
<path d="M64 76h4.6v4.6H64z" fill="#fdc7b1"/>
<path d="M68 76h4.6v4.6H68z" fill="#fdc0a8"/>
<path d="M72 76h4.6v4.6H72z" fill="#fcbda3"/>
<path d="M76 76h4.6v4.6H76z" fill="#fcba9f"/>
<path d="M80 76h16.6v4.6H80z" fill="#fcb69a"/>
<path d="M96 76h4.6v4.6H96z" fill="#fcba9f"/>
<path d="M100 76h4.6v4.6H100z" fill="#fcbda3"/>
<path d="M104 76h4.6v4.6H104z" fill="#fdc0a8"/>
<path d="M108 76h4.6v4.6H108z" fill="#fdc7b1"/>
<path d="M112 76h4.6v4.6H112z" fill="#fdd0bd"/>
<path d="M116 76h4.6v4.6H116z" fill="#fed6c5"/>
<path d="M120 76h4.6v4.6H120z" fill="#fcdccf"/>
<path d="M124 76h4.6v4.6H124z" fill="#fae0d4"/>
<path d="M128 76h4.6v4.6H128z" fill="#f7e2d9"/>
<path d="M132 76h4.6v4.6H132z" fill="#f3e4df"/>
<path d="M136 76h32.6v4.6H136z" fill="#f1e5e1"/>
<path d="M168 76h8.6v4.6H168z" fill="#efe6e4"/>
<path d="M176 76h12.6v4.6H176z" fill="#ede6e8"/>
<path d="M28 80h12.6v4.6H28z" fill="#ede6e8"/>
<path d="M40 80h4.6v4.6H40z" fill="#f3e4df"/>
<path d="M44 80h4.6v4.6H44z" fill="#f7e2d9"/>
<path d="M48 80h4.6v4.6H48z" fill="#fae0d4"/>
<path d="M52 80h4.6v4.6H52z" fill="#fddbcc"/>
<path d="M56 80h4.6v4.6H56z" fill="#fed6c5"/>
<path d="M60 80h4.6v4.6H60z" fill="#fdcdb9"/>
<path d="M64 80h4.6v4.6H64z" fill="#fdc7b1"/>
<path d="M68 80h4.6v4.6H68z" fill="#fdc0a8"/>
<path d="M72 80h4.6v4.6H72z" fill="#fcba9f"/>
<path d="M76 80h8.6v4.6H76z" fill="#fcb69a"/>
<path d="M84 80h8.6v4.6H84z" fill="#fcb396"/>
<path d="M92 80h8.6v4.6H92z" fill="#fcb69a"/>
<path d="M100 80h4.6v4.6H100z" fill="#fcba9f"/>
<path d="M104 80h4.6v4.6H104z" fill="#fdc0a8"/>
<path d="M108 80h4.6v4.6H108z" fill="#fdc7b1"/>
<path d="M112 80h4.6v4.6H112z" fill="#fdcdb9"/>
<path d="M116 80h4.6v4.6H116z" fill="#fed6c5"/>
<path d="M120 80h4.6v4.6H120z" fill="#fddbcc"/>
<path d="M124 80h4.6v4.6H124z" fill="#fae0d4"/>
<path d="M128 80h4.6v4.6H128z" fill="#f7e2d9"/>
<path d="M132 80h4.6v4.6H132z" fill="#f5e3dc"/>
<path d="M136 80h32.6v4.6H136z" fill="#f1e5e1"/>
<path d="M168 80h8.6v4.6H168z" fill="#efe6e4"/>
<path d="M176 80h12.6v4.6H176z" fill="#ede6e8"/>
<path d="M28 84h12.6v4.6H28z" fill="#ede6e8"/>
<path d="M40 84h4.6v4.6H40z" fill="#f3e4df"/>
<path d="M44 84h4.6v4.6H44z" fill="#f7e2d9"/>
<path d="M48 84h4.6v4.6H48z" fill="#fae0d4"/>
<path d="M52 84h4.6v4.6H52z" fill="#fddbcc"/>
<path d="M56 84h4.6v4.6H56z" fill="#fed6c5"/>
<path d="M60 84h4.6v4.6H60z" fill="#fdcdb9"/>
<path d="M64 84h4.6v4.6H64z" fill="#fdc7b1"/>
<path d="M68 84h4.6v4.6H68z" fill="#fcbda3"/>
<path d="M72 84h4.6v4.6H72z" fill="#fcba9f"/>
<path d="M76 84h4.6v4.6H76z" fill="#fcb69a"/>
<path d="M80 84h16.6v4.6H80z" fill="#fcb396"/>
<path d="M96 84h4.6v4.6H96z" fill="#fcb69a"/>
<path d="M100 84h4.6v4.6H100z" fill="#fcba9f"/>
<path d="M104 84h4.6v4.6H104z" fill="#fcbda3"/>
<path d="M108 84h4.6v4.6H108z" fill="#fdc7b1"/>
<path d="M112 84h4.6v4.6H112z" fill="#fdcdb9"/>
<path d="M116 84h4.6v4.6H116z" fill="#fed6c5"/>
<path d="M120 84h4.6v4.6H120z" fill="#fddbcc"/>
<path d="M124 84h4.6v4.6H124z" fill="#fae0d4"/>
<path d="M128 84h4.6v4.6H128z" fill="#f7e2d9"/>
<path d="M132 84h4.6v4.6H132z" fill="#f5e3dc"/>
<path d="M136 84h4.6v4.6H136z" fill="#f3e4df"/>
<path d="M140 84h28.6v4.6H140z" fill="#f1e5e1"/>
<path d="M168 84h8.6v4.6H168z" fill="#efe6e4"/>
<path d="M176 84h12.6v4.6H176z" fill="#ede6e8"/>
<path d="M28 88h12.6v4.6H28z" fill="#ede6e8"/>
<path d="M40 88h4.6v4.6H40z" fill="#f3e4df"/>
<path d="M44 88h4.6v4.6H44z" fill="#f7e2d9"/>
<path d="M48 88h4.6v4.6H48z" fill="#fae0d4"/>
<path d="M52 88h4.6v4.6H52z" fill="#fddbcc"/>
<path d="M56 88h4.6v4.6H56z" fill="#fed3c1"/>
<path d="M60 88h4.6v4.6H60z" fill="#fdcdb9"/>
<path d="M64 88h4.6v4.6H64z" fill="#fdc4ac"/>
<path d="M68 88h4.6v4.6H68z" fill="#fcbda3"/>
<path d="M72 88h4.6v4.6H72z" fill="#fcba9f"/>
<path d="M76 88h24.6v4.6H76z" fill="#fcb396"/>
<path d="M100 88h4.6v4.6H100z" fill="#fcba9f"/>
<path d="M104 88h4.6v4.6H104z" fill="#fcbda3"/>
<path d="M108 88h4.6v4.6H108z" fill="#fdc4ac"/>
<path d="M112 88h4.6v4.6H112z" fill="#fdcdb9"/>
<path d="M116 88h4.6v4.6H116z" fill="#fed3c1"/>
<path d="M120 88h4.6v4.6H120z" fill="#fddbcc"/>
<path d="M124 88h4.6v4.6H124z" fill="#fae0d4"/>
<path d="M128 88h4.6v4.6H128z" fill="#f7e2d9"/>
<path d="M132 88h4.6v4.6H132z" fill="#f5e3dc"/>
<path d="M136 88h4.6v4.6H136z" fill="#f3e4df"/>
<path d="M140 88h28.6v4.6H140z" fill="#f1e5e1"/>
<path d="M168 88h8.6v4.6H168z" fill="#efe6e4"/>
<path d="M176 88h12.6v4.6H176z" fill="#ede6e8"/>
<path d="M28 92h12.6v4.6H28z" fill="#ede6e8"/>
<path d="M40 92h4.6v4.6H40z" fill="#f3e4df"/>
<path d="M44 92h4.6v4.6H44z" fill="#f7e2d9"/>
<path d="M48 92h4.6v4.6H48z" fill="#fae0d4"/>
<path d="M52 92h4.6v4.6H52z" fill="#fddbcc"/>
<path d="M56 92h4.6v4.6H56z" fill="#fed3c1"/>
<path d="M60 92h4.6v4.6H60z" fill="#fdcdb9"/>
<path d="M64 92h4.6v4.6H64z" fill="#fdc4ac"/>
<path d="M68 92h4.6v4.6H68z" fill="#fcbda3"/>
<path d="M72 92h4.6v4.6H72z" fill="#fcb69a"/>
<path d="M76 92h8.6v4.6H76z" fill="#fcb396"/>
<path d="M84 92h8.6v4.6H84z" fill="#fcaf92"/>
<path d="M92 92h8.6v4.6H92z" fill="#fcb396"/>
<path d="M100 92h4.6v4.6H100z" fill="#fcb69a"/>
<path d="M104 92h4.6v4.6H104z" fill="#fcbda3"/>
<path d="M108 92h4.6v4.6H108z" fill="#fdc4ac"/>
<path d="M112 92h4.6v4.6H112z" fill="#fdcdb9"/>
<path d="M116 92h4.6v4.6H116z" fill="#fed3c1"/>
<path d="M120 92h4.6v4.6H120z" fill="#fddbcc"/>
<path d="M124 92h4.6v4.6H124z" fill="#fbded2"/>
<path d="M128 92h4.6v4.6H128z" fill="#f7e2d9"/>
<path d="M132 92h4.6v4.6H132z" fill="#f5e3dc"/>
<path d="M136 92h4.6v4.6H136z" fill="#f3e4df"/>
<path d="M140 92h28.6v4.6H140z" fill="#f1e5e1"/>
<path d="M168 92h8.6v4.6H168z" fill="#efe6e4"/>
<path d="M176 92h12.6v4.6H176z" fill="#ede6e8"/>
<path d="M28 96h12.6v4.6H28z" fill="#ede6e8"/>
<path d="M40 96h4.6v4.6H40z" fill="#f3e4df"/>
<path d="M44 96h4.6v4.6H44z" fill="#f7e2d9"/>
<path d="M48 96h4.6v4.6H48z" fill="#fae0d4"/>
<path d="M52 96h4.6v4.6H52z" fill="#fddbcc"/>
<path d="M56 96h4.6v4.6H56z" fill="#fed3c1"/>
<path d="M60 96h4.6v4.6H60z" fill="#fdcab5"/>
<path d="M64 96h4.6v4.6H64z" fill="#fdc4ac"/>
<path d="M68 96h4.6v4.6H68z" fill="#fcbda3"/>
<path d="M72 96h4.6v4.6H72z" fill="#fcb69a"/>
<path d="M76 96h4.6v4.6H76z" fill="#fcb396"/>
<path d="M80 96h16.6v4.6H80z" fill="#fcaf92"/>
<path d="M96 96h4.6v4.6H96z" fill="#fcb396"/>
<path d="M100 96h4.6v4.6H100z" fill="#fcb69a"/>
<path d="M104 96h4.6v4.6H104z" fill="#fcbda3"/>
<path d="M108 96h4.6v4.6H108z" fill="#fdc4ac"/>
<path d="M112 96h4.6v4.6H112z" fill="#fdcab5"/>
<path d="M116 96h4.6v4.6H116z" fill="#fed3c1"/>
<path d="M120 96h4.6v4.6H120z" fill="#fddbcc"/>
<path d="M124 96h4.6v4.6H124z" fill="#fbded2"/>
<path d="M128 96h4.6v4.6H128z" fill="#f7e2d9"/>
<path d="M132 96h4.6v4.6H132z" fill="#f5e3dc"/>
<path d="M136 96h8.6v4.6H136z" fill="#f1e5e1"/>
<path d="M144 96h12.6v4.6H144z" fill="#efe6e4"/>
<path d="M156 96h8.6v4.6H156z" fill="#f1e5e1"/>
<path d="M164 96h12.6v4.6H164z" fill="#efe6e4"/>
<path d="M176 96h12.6v4.6H176z" fill="#ede6e8"/>
<path d="M28 100h8.6v4.6H28z" fill="#ebe7eb"/>
<path d="M36 100h4.6v4.6H36z" fill="#ede6e8"/>
<path d="M40 100h4.6v4.6H40z" fill="#f3e4df"/>
<path d="M44 100h4.6v4.6H44z" fill="#f7e2d9"/>
<path d="M48 100h4.6v4.6H48z" fill="#fbded2"/>
<path d="M52 100h4.6v4.6H52z" fill="#fddbcc"/>
<path d="M56 100h4.6v4.6H56z" fill="#fed3c1"/>
<path d="M60 100h4.6v4.6H60z" fill="#fdcab5"/>
<path d="M64 100h4.6v4.6H64z" fill="#fdc4ac"/>
<path d="M68 100h4.6v4.6H68z" fill="#fcbda3"/>
<path d="M72 100h4.6v4.6H72z" fill="#fcb69a"/>
<path d="M76 100h4.6v4.6H76z" fill="#fcb396"/>
<path d="M80 100h16.6v4.6H80z" fill="#fcaf92"/>
<path d="M96 100h4.6v4.6H96z" fill="#fcb396"/>
<path d="M100 100h4.6v4.6H100z" fill="#fcb69a"/>
<path d="M104 100h4.6v4.6H104z" fill="#fcbda3"/>
<path d="M108 100h4.6v4.6H108z" fill="#fdc4ac"/>
<path d="M112 100h4.6v4.6H112z" fill="#fdcab5"/>
<path d="M116 100h4.6v4.6H116z" fill="#fed3c1"/>
<path d="M120 100h4.6v4.6H120z" fill="#fddbcc"/>
<path d="M124 100h4.6v4.6H124z" fill="#fae0d4"/>
<path d="M128 100h4.6v4.6H128z" fill="#f7e2d9"/>
<path d="M132 100h4.6v4.6H132z" fill="#f3e4df"/>
<path d="M136 100h4.6v4.6H136z" fill="#f1e5e1"/>
<path d="M140 100h32.6v4.6H140z" fill="#efe6e4"/>
<path d="M172 100h16.6v4.6H172z" fill="#ede6e8"/>
<path d="M28 104h8.6v4.6H28z" fill="#ebe7eb"/>
<path d="M36 104h4.6v4.6H36z" fill="#ede6e8"/>
<path d="M40 104h4.6v4.6H40z" fill="#f3e4df"/>
<path d="M44 104h4.6v4.6H44z" fill="#f7e2d9"/>
<path d="M48 104h4.6v4.6H48z" fill="#fae0d4"/>
<path d="M52 104h4.6v4.6H52z" fill="#fddbcc"/>
<path d="M56 104h4.6v4.6H56z" fill="#fed3c1"/>
<path d="M60 104h4.6v4.6H60z" fill="#fdcab5"/>
<path d="M64 104h4.6v4.6H64z" fill="#fdc4ac"/>
<path d="M68 104h4.6v4.6H68z" fill="#fcbda3"/>
<path d="M72 104h4.6v4.6H72z" fill="#fcb69a"/>
<path d="M76 104h4.6v4.6H76z" fill="#fcb396"/>
<path d="M80 104h16.6v4.6H80z" fill="#fcaf92"/>
<path d="M96 104h4.6v4.6H96z" fill="#fcb396"/>
<path d="M100 104h4.6v4.6H100z" fill="#fcb69a"/>
<path d="M104 104h4.6v4.6H104z" fill="#fcbda3"/>
<path d="M108 104h4.6v4.6H108z" fill="#fdc4ac"/>
<path d="M112 104h4.6v4.6H112z" fill="#fdcab5"/>
<path d="M116 104h4.6v4.6H116z" fill="#fed3c1"/>
<path d="M120 104h4.6v4.6H120z" fill="#fddbcc"/>
<path d="M124 104h4.6v4.6H124z" fill="#fae0d4"/>
<path d="M128 104h4.6v4.6H128z" fill="#f7e2d9"/>
<path d="M132 104h4.6v4.6H132z" fill="#f3e4df"/>
<path d="M136 104h4.6v4.6H136z" fill="#f1e5e1"/>
<path d="M140 104h32.6v4.6H140z" fill="#efe6e4"/>
<path d="M172 104h16.6v4.6H172z" fill="#ede6e8"/>
<path d="M28 108h8.6v4.6H28z" fill="#ebe7eb"/>
<path d="M36 108h4.6v4.6H36z" fill="#ede6e8"/>
<path d="M40 108h4.6v4.6H40z" fill="#f1e5e1"/>
<path d="M44 108h4.6v4.6H44z" fill="#f7e2d9"/>
<path d="M48 108h4.6v4.6H48z" fill="#fae0d4"/>
<path d="M52 108h4.6v4.6H52z" fill="#fddbcc"/>
<path d="M56 108h4.6v4.6H56z" fill="#fed3c1"/>
<path d="M60 108h4.6v4.6H60z" fill="#fdcab5"/>
<path d="M64 108h4.6v4.6H64z" fill="#fdc4ac"/>
<path d="M68 108h4.6v4.6H68z" fill="#fcbda3"/>
<path d="M72 108h4.6v4.6H72z" fill="#fcb69a"/>
<path d="M76 108h4.6v4.6H76z" fill="#fcb396"/>
<path d="M80 108h16.6v4.6H80z" fill="#fcaf92"/>
<path d="M96 108h4.6v4.6H96z" fill="#fcb396"/>
<path d="M100 108h4.6v4.6H100z" fill="#fcb69a"/>
<path d="M104 108h4.6v4.6H104z" fill="#fcbda3"/>
<path d="M108 108h4.6v4.6H108z" fill="#fdc4ac"/>
<path d="M112 108h4.6v4.6H112z" fill="#fdcdb9"/>
<path d="M116 108h4.6v4.6H116z" fill="#fed6c5"/>
<path d="M120 108h4.6v4.6H120z" fill="#fddbcc"/>
<path d="M124 108h4.6v4.6H124z" fill="#fae0d4"/>
<path d="M128 108h4.6v4.6H128z" fill="#f7e2d9"/>
<path d="M132 108h4.6v4.6H132z" fill="#f3e4df"/>
<path d="M136 108h4.6v4.6H136z" fill="#efe6e4"/>
<path d="M140 108h20.6v4.6H140z" fill="#ede6e8"/>
<path d="M160 108h4.6v4.6H160z" fill="#efe6e4"/>
<path d="M164 108h24.6v4.6H164z" fill="#ede6e8"/>
<path d="M28 112h8.6v4.6H28z" fill="#e9e8ee"/>
<path d="M36 112h4.6v4.6H36z" fill="#ebe7eb"/>
<path d="M40 112h4.6v4.6H40z" fill="#f1e5e1"/>
<path d="M44 112h4.6v4.6H44z" fill="#f5e3dc"/>
<path d="M48 112h4.6v4.6H48z" fill="#fae0d4"/>
<path d="M52 112h4.6v4.6H52z" fill="#fddbcc"/>
<path d="M56 112h4.6v4.6H56z" fill="#fed3c1"/>
<path d="M60 112h4.6v4.6H60z" fill="#fdcdb9"/>
<path d="M64 112h4.6v4.6H64z" fill="#fdc4ac"/>
<path d="M68 112h4.6v4.6H68z" fill="#fcbda3"/>
<path d="M72 112h4.6v4.6H72z" fill="#fcb69a"/>
<path d="M76 112h8.6v4.6H76z" fill="#fcb396"/>
<path d="M84 112h8.6v4.6H84z" fill="#fcaf92"/>
<path d="M92 112h8.6v4.6H92z" fill="#fcb396"/>
<path d="M100 112h4.6v4.6H100z" fill="#fcba9f"/>
<path d="M104 112h4.6v4.6H104z" fill="#fcbda3"/>
<path d="M108 112h4.6v4.6H108z" fill="#fdc7b1"/>
<path d="M112 112h4.6v4.6H112z" fill="#fdcdb9"/>
<path d="M116 112h4.6v4.6H116z" fill="#fed6c5"/>
<path d="M120 112h4.6v4.6H120z" fill="#fcdccf"/>
<path d="M124 112h4.6v4.6H124z" fill="#f9e1d7"/>
<path d="M128 112h4.6v4.6H128z" fill="#f5e3dc"/>
<path d="M132 112h4.6v4.6H132z" fill="#efe6e4"/>
<path d="M136 112h4.6v4.6H136z" fill="#ede6e8"/>
<path d="M140 112h12.6v4.6H140z" fill="#ebe7eb"/>
<path d="M152 112h20.6v4.6H152z" fill="#ede6e8"/>
<path d="M172 112h16.6v4.6H172z" fill="#ebe7eb"/>
<path d="M28 116h8.6v4.6H28z" fill="#e9e8ee"/>
<path d="M36 116h4.6v4.6H36z" fill="#ebe7eb"/>
<path d="M40 116h4.6v4.6H40z" fill="#efe6e4"/>
<path d="M44 116h4.6v4.6H44z" fill="#f5e3dc"/>
<path d="M48 116h4.6v4.6H48z" fill="#f9e1d7"/>
<path d="M52 116h4.6v4.6H52z" fill="#fcdccf"/>
<path d="M56 116h4.6v4.6H56z" fill="#fed6c5"/>
<path d="M60 116h4.6v4.6H60z" fill="#fdcdb9"/>
<path d="M64 116h4.6v4.6H64z" fill="#fdc4ac"/>
<path d="M68 116h4.6v4.6H68z" fill="#fcbda3"/>
<path d="M72 116h4.6v4.6H72z" fill="#fcba9f"/>
<path d="M76 116h20.6v4.6H76z" fill="#fcb396"/>
<path d="M96 116h4.6v4.6H96z" fill="#fcb69a"/>
<path d="M100 116h4.6v4.6H100z" fill="#fcba9f"/>
<path d="M104 116h4.6v4.6H104z" fill="#fdc0a8"/>
<path d="M108 116h4.6v4.6H108z" fill="#fdc7b1"/>
<path d="M112 116h4.6v4.6H112z" fill="#fdd0bd"/>
<path d="M116 116h4.6v4.6H116z" fill="#fed9c9"/>
<path d="M120 116h4.6v4.6H120z" fill="#fbded2"/>
<path d="M124 116h4.6v4.6H124z" fill="#f7e2d9"/>
<path d="M128 116h4.6v4.6H128z" fill="#f1e5e1"/>
<path d="M132 116h4.6v4.6H132z" fill="#ede6e8"/>
<path d="M136 116h20.6v4.6H136z" fill="#e9e8ee"/>
<path d="M156 116h32.6v4.6H156z" fill="#ebe7eb"/>
<path d="M28 120h12.6v4.6H28z" fill="#e9e8ee"/>
<path d="M40 120h4.6v4.6H40z" fill="#ede6e8"/>
<path d="M44 120h4.6v4.6H44z" fill="#f3e4df"/>
<path d="M48 120h4.6v4.6H48z" fill="#f7e2d9"/>
<path d="M52 120h4.6v4.6H52z" fill="#fbded2"/>
<path d="M56 120h4.6v4.6H56z" fill="#fed6c5"/>
<path d="M60 120h4.6v4.6H60z" fill="#fdd0bd"/>
<path d="M64 120h4.6v4.6H64z" fill="#fdc7b1"/>
<path d="M68 120h4.6v4.6H68z" fill="#fdc0a8"/>
<path d="M72 120h4.6v4.6H72z" fill="#fcba9f"/>
<path d="M76 120h4.6v4.6H76z" fill="#fcb69a"/>
<path d="M80 120h12.6v4.6H80z" fill="#fcb396"/>
<path d="M92 120h4.6v4.6H92z" fill="#fcb69a"/>
<path d="M96 120h4.6v4.6H96z" fill="#fcba9f"/>
<path d="M100 120h4.6v4.6H100z" fill="#fcbda3"/>
<path d="M104 120h4.6v4.6H104z" fill="#fdc4ac"/>
<path d="M108 120h4.6v4.6H108z" fill="#fdcab5"/>
<path d="M112 120h4.6v4.6H112z" fill="#fed3c1"/>
<path d="M116 120h4.6v4.6H116z" fill="#fcdccf"/>
<path d="M120 120h4.6v4.6H120z" fill="#f9e1d7"/>
<path d="M124 120h4.6v4.6H124z" fill="#f3e4df"/>
<path d="M128 120h4.6v4.6H128z" fill="#ede6e8"/>
<path d="M132 120h4.6v4.6H132z" fill="#e9e8ee"/>
<path d="M136 120h4.6v4.6H136z" fill="#e7e8ef"/>
<path d="M140 120h12.6v4.6H140z" fill="#e5e8ef"/>
<path d="M152 120h16.6v4.6H152z" fill="#e7e8ef"/>
<path d="M168 120h20.6v4.6H168z" fill="#e9e8ee"/>
<path d="M28 124h12.6v4.6H28z" fill="#e9e8ee"/>
<path d="M40 124h4.6v4.6H40z" fill="#ede6e8"/>
<path d="M44 124h4.6v4.6H44z" fill="#efe6e4"/>
<path d="M48 124h4.6v4.6H48z" fill="#f5e3dc"/>
<path d="M52 124h4.6v4.6H52z" fill="#fae0d4"/>
<path d="M56 124h4.6v4.6H56z" fill="#fddbcc"/>
<path d="M60 124h4.6v4.6H60z" fill="#fed3c1"/>
<path d="M64 124h4.6v4.6H64z" fill="#fdcab5"/>
<path d="M68 124h4.6v4.6H68z" fill="#fdc0a8"/>
<path d="M72 124h4.6v4.6H72z" fill="#fcbda3"/>
<path d="M76 124h4.6v4.6H76z" fill="#fcba9f"/>
<path d="M80 124h12.6v4.6H80z" fill="#fcb69a"/>
<path d="M92 124h4.6v4.6H92z" fill="#fcba9f"/>
<path d="M96 124h4.6v4.6H96z" fill="#fcbda3"/>
<path d="M100 124h4.6v4.6H100z" fill="#fdc0a8"/>
<path d="M104 124h4.6v4.6H104z" fill="#fdc7b1"/>
<path d="M108 124h4.6v4.6H108z" fill="#fdd0bd"/>
<path d="M112 124h4.6v4.6H112z" fill="#fed9c9"/>
<path d="M116 124h4.6v4.6H116z" fill="#fae0d4"/>
<path d="M120 124h4.6v4.6H120z" fill="#f3e4df"/>
<path d="M124 124h4.6v4.6H124z" fill="#ede6e8"/>
<path d="M128 124h4.6v4.6H128z" fill="#e7e8ef"/>
<path d="M132 124h4.6v4.6H132z" fill="#e4e8f0"/>
<path d="M136 124h16.6v4.6H136z" fill="#e2e8f0"/>
<path d="M152 124h12.6v4.6H152z" fill="#e4e8f0"/>
<path d="M164 124h8.6v4.6H164z" fill="#e5e8ef"/>
<path d="M172 124h16.6v4.6H172z" fill="#e7e8ef"/>
<path d="M28 128h12.6v4.6H28z" fill="#e9e8ee"/>
<path d="M40 128h4.6v4.6H40z" fill="#ebe7eb"/>
<path d="M44 128h4.6v4.6H44z" fill="#ede6e8"/>
<path d="M48 128h4.6v4.6H48z" fill="#f1e5e1"/>
<path d="M52 128h4.6v4.6H52z" fill="#f7e2d9"/>
<path d="M56 128h4.6v4.6H56z" fill="#fbded2"/>
<path d="M60 128h4.6v4.6H60z" fill="#fed6c5"/>
<path d="M64 128h4.6v4.6H64z" fill="#fdcdb9"/>
<path d="M68 128h4.6v4.6H68z" fill="#fdc7b1"/>
<path d="M72 128h4.6v4.6H72z" fill="#fdc0a8"/>
<path d="M76 128h4.6v4.6H76z" fill="#fcbda3"/>
<path d="M80 128h12.6v4.6H80z" fill="#fcba9f"/>
<path d="M92 128h4.6v4.6H92z" fill="#fcbda3"/>
<path d="M96 128h4.6v4.6H96z" fill="#fdc0a8"/>
<path d="M100 128h4.6v4.6H100z" fill="#fdc7b1"/>
<path d="M104 128h4.6v4.6H104z" fill="#fdcdb9"/>
<path d="M108 128h4.6v4.6H108z" fill="#fed6c5"/>
<path d="M112 128h4.6v4.6H112z" fill="#fbded2"/>
<path d="M116 128h4.6v4.6H116z" fill="#f5e3dc"/>
<path d="M120 128h4.6v4.6H120z" fill="#ede6e8"/>
<path d="M124 128h4.6v4.6H124z" fill="#e5e8ef"/>
<path d="M128 128h4.6v4.6H128z" fill="#e2e8f0"/>
<path d="M132 128h4.6v4.6H132z" fill="#e0e8f1"/>
<path d="M136 128h20.6v4.6H136z" fill="#dce6f0"/>
<path d="M156 128h8.6v4.6H156z" fill="#e0e8f1"/>
<path d="M164 128h4.6v4.6H164z" fill="#e2e8f0"/>
<path d="M168 128h8.6v4.6H168z" fill="#e4e8f0"/>
<path d="M176 128h12.6v4.6H176z" fill="#e5e8ef"/>
<path d="M28 132h8.6v4.6H28z" fill="#e7e8ef"/>
<path d="M36 132h4.6v4.6H36z" fill="#e9e8ee"/>
<path d="M40 132h4.6v4.6H40z" fill="#ebe7eb"/>
<path d="M44 132h4.6v4.6H44z" fill="#ede6e8"/>
<path d="M48 132h4.6v4.6H48z" fill="#efe6e4"/>
<path d="M52 132h4.6v4.6H52z" fill="#f3e4df"/>
<path d="M56 132h4.6v4.6H56z" fill="#f9e1d7"/>
<path d="M60 132h4.6v4.6H60z" fill="#fcdccf"/>
<path d="M64 132h4.6v4.6H64z" fill="#fed6c5"/>
<path d="M68 132h4.6v4.6H68z" fill="#fdcdb9"/>
<path d="M72 132h4.6v4.6H72z" fill="#fdc7b1"/>
<path d="M76 132h4.6v4.6H76z" fill="#fdc4ac"/>
<path d="M80 132h12.6v4.6H80z" fill="#fdc0a8"/>
<path d="M92 132h4.6v4.6H92z" fill="#fdc4ac"/>
<path d="M96 132h4.6v4.6H96z" fill="#fdc7b1"/>
<path d="M100 132h4.6v4.6H100z" fill="#fdcdb9"/>
<path d="M104 132h4.6v4.6H104z" fill="#fed6c5"/>
<path d="M108 132h4.6v4.6H108z" fill="#fbded2"/>
<path d="M112 132h4.6v4.6H112z" fill="#f5e3dc"/>
<path d="M116 132h4.6v4.6H116z" fill="#ede6e8"/>
<path d="M120 132h4.6v4.6H120z" fill="#e5e8ef"/>
<path d="M124 132h4.6v4.6H124z" fill="#e0e8f1"/>
<path d="M128 132h4.6v4.6H128z" fill="#d7e4ef"/>
<path d="M132 132h24.6v4.6H132z" fill="#d3e2ee"/>
<path d="M156 132h4.6v4.6H156z" fill="#d7e4ef"/>
<path d="M160 132h8.6v4.6H160z" fill="#dce6f0"/>
<path d="M168 132h4.6v4.6H168z" fill="#e0e8f1"/>
<path d="M172 132h4.6v4.6H172z" fill="#e2e8f0"/>
<path d="M176 132h12.6v4.6H176z" fill="#e4e8f0"/>
<path d="M28 136h12.6v4.6H28z" fill="#e7e8ef"/>
<path d="M40 136h4.6v4.6H40z" fill="#e9e8ee"/>
<path d="M44 136h4.6v4.6H44z" fill="#ebe7eb"/>
<path d="M48 136h4.6v4.6H48z" fill="#ede6e8"/>
<path d="M52 136h4.6v4.6H52z" fill="#efe6e4"/>
<path d="M56 136h4.6v4.6H56z" fill="#f3e4df"/>
<path d="M60 136h4.6v4.6H60z" fill="#f9e1d7"/>
<path d="M64 136h4.6v4.6H64z" fill="#fcdccf"/>
<path d="M68 136h4.6v4.6H68z" fill="#fed6c5"/>
<path d="M72 136h4.6v4.6H72z" fill="#fdd0bd"/>
<path d="M76 136h16.6v4.6H76z" fill="#fdcab5"/>
<path d="M92 136h4.6v4.6H92z" fill="#fdcdb9"/>
<path d="M96 136h4.6v4.6H96z" fill="#fdd0bd"/>
<path d="M100 136h4.6v4.6H100z" fill="#fed9c9"/>
<path d="M104 136h4.6v4.6H104z" fill="#fbded2"/>
<path d="M108 136h4.6v4.6H108z" fill="#f5e3dc"/>
<path d="M112 136h4.6v4.6H112z" fill="#ede6e8"/>
<path d="M116 136h4.6v4.6H116z" fill="#e5e8ef"/>
<path d="M120 136h4.6v4.6H120z" fill="#e0e8f1"/>
<path d="M124 136h4.6v4.6H124z" fill="#d3e2ee"/>
<path d="M128 136h4.6v4.6H128z" fill="#cee0ed"/>
<path d="M132 136h4.6v4.6H132z" fill="#cadeec"/>
<path d="M136 136h4.6v4.6H136z" fill="#c6dceb"/>
<path d="M140 136h8.6v4.6H140z" fill="#c1daea"/>
<path d="M148 136h8.6v4.6H148z" fill="#c6dceb"/>
<path d="M156 136h4.6v4.6H156z" fill="#cadeec"/>
<path d="M160 136h4.6v4.6H160z" fill="#cee0ed"/>
<path d="M164 136h4.6v4.6H164z" fill="#d7e4ef"/>
<path d="M168 136h4.6v4.6H168z" fill="#dce6f0"/>
<path d="M172 136h4.6v4.6H172z" fill="#e0e8f1"/>
<path d="M176 136h12.6v4.6H176z" fill="#e2e8f0"/>
<path d="M28 140h8.6v4.6H28z" fill="#e5e8ef"/>
<path d="M36 140h4.6v4.6H36z" fill="#e7e8ef"/>
<path d="M40 140h8.6v4.6H40z" fill="#e9e8ee"/>
<path d="M48 140h8.6v4.6H48z" fill="#ebe7eb"/>
<path d="M56 140h4.6v4.6H56z" fill="#ede6e8"/>
<path d="M60 140h4.6v4.6H60z" fill="#f1e5e1"/>
<path d="M64 140h4.6v4.6H64z" fill="#f7e2d9"/>
<path d="M68 140h4.6v4.6H68z" fill="#fae0d4"/>
<path d="M72 140h4.6v4.6H72z" fill="#fddbcc"/>
<path d="M76 140h4.6v4.6H76z" fill="#fed9c9"/>
<path d="M80 140h12.6v4.6H80z" fill="#fed6c5"/>
<path d="M92 140h4.6v4.6H92z" fill="#fed9c9"/>
<path d="M96 140h4.6v4.6H96z" fill="#fcdccf"/>
<path d="M100 140h4.6v4.6H100z" fill="#fae0d4"/>
<path d="M104 140h4.6v4.6H104z" fill="#f3e4df"/>
<path d="M108 140h4.6v4.6H108z" fill="#ebe7eb"/>
<path d="M112 140h4.6v4.6H112z" fill="#e5e8ef"/>
<path d="M116 140h4.6v4.6H116z" fill="#dce6f0"/>
<path d="M120 140h4.6v4.6H120z" fill="#cee0ed"/>
<path d="M124 140h4.6v4.6H124z" fill="#c6dceb"/>
<path d="M128 140h4.6v4.6H128z" fill="#bdd8e9"/>
<path d="M132 140h4.6v4.6H132z" fill="#b4d4e7"/>
<path d="M136 140h8.6v4.6H136z" fill="#b0d2e6"/>
<path d="M144 140h4.6v4.6H144z" fill="#acd0e5"/>
<path d="M148 140h4.6v4.6H148z" fill="#b0d2e6"/>
<path d="M152 140h4.6v4.6H152z" fill="#b4d4e7"/>
<path d="M156 140h4.6v4.6H156z" fill="#bdd8e9"/>
<path d="M160 140h4.6v4.6H160z" fill="#c6dceb"/>
<path d="M164 140h4.6v4.6H164z" fill="#cee0ed"/>
<path d="M168 140h4.6v4.6H168z" fill="#d3e2ee"/>
<path d="M172 140h4.6v4.6H172z" fill="#dce6f0"/>
<path d="M176 140h4.6v4.6H176z" fill="#e0e8f1"/>
<path d="M180 140h8.6v4.6H180z" fill="#e2e8f0"/>
<path d="M28 144h12.6v4.6H28z" fill="#e4e8f0"/>
<path d="M40 144h4.6v4.6H40z" fill="#e5e8ef"/>
<path d="M44 144h12.6v4.6H44z" fill="#e7e8ef"/>
<path d="M56 144h4.6v4.6H56z" fill="#e9e8ee"/>
<path d="M60 144h4.6v4.6H60z" fill="#ebe7eb"/>
<path d="M64 144h4.6v4.6H64z" fill="#efe6e4"/>
<path d="M68 144h4.6v4.6H68z" fill="#f1e5e1"/>
<path d="M72 144h4.6v4.6H72z" fill="#f5e3dc"/>
<path d="M76 144h4.6v4.6H76z" fill="#f9e1d7"/>
<path d="M80 144h8.6v4.6H80z" fill="#fae0d4"/>
<path d="M88 144h4.6v4.6H88z" fill="#f9e1d7"/>
<path d="M92 144h4.6v4.6H92z" fill="#f7e2d9"/>
<path d="M96 144h4.6v4.6H96z" fill="#f5e3dc"/>
<path d="M100 144h4.6v4.6H100z" fill="#efe6e4"/>
<path d="M104 144h4.6v4.6H104z" fill="#ebe7eb"/>
<path d="M108 144h4.6v4.6H108z" fill="#e4e8f0"/>
<path d="M112 144h4.6v4.6H112z" fill="#dce6f0"/>
<path d="M116 144h4.6v4.6H116z" fill="#cee0ed"/>
<path d="M120 144h4.6v4.6H120z" fill="#c6dceb"/>
<path d="M124 144h4.6v4.6H124z" fill="#bdd8e9"/>
<path d="M128 144h4.6v4.6H128z" fill="#b4d4e7"/>
<path d="M132 144h4.6v4.6H132z" fill="#acd0e5"/>
<path d="M136 144h12.6v4.6H136z" fill="#a3cce3"/>
<path d="M148 144h4.6v4.6H148z" fill="#a8cee4"/>
<path d="M152 144h4.6v4.6H152z" fill="#acd0e5"/>
<path d="M156 144h4.6v4.6H156z" fill="#b4d4e7"/>
<path d="M160 144h4.6v4.6H160z" fill="#bdd8e9"/>
<path d="M164 144h4.6v4.6H164z" fill="#cadeec"/>
<path d="M168 144h4.6v4.6H168z" fill="#d3e2ee"/>
<path d="M172 144h4.6v4.6H172z" fill="#dce6f0"/>
<path d="M176 144h4.6v4.6H176z" fill="#e0e8f1"/>
<path d="M180 144h8.6v4.6H180z" fill="#e2e8f0"/>
<path d="M28 148h8.6v4.6H28z" fill="#e0e8f1"/>
<path d="M36 148h4.6v4.6H36z" fill="#e2e8f0"/>
<path d="M40 148h16.6v4.6H40z" fill="#e4e8f0"/>
<path d="M56 148h8.6v4.6H56z" fill="#e5e8ef"/>
<path d="M64 148h4.6v4.6H64z" fill="#e7e8ef"/>
<path d="M68 148h4.6v4.6H68z" fill="#e9e8ee"/>
<path d="M72 148h4.6v4.6H72z" fill="#ebe7eb"/>
<path d="M76 148h4.6v4.6H76z" fill="#ede6e8"/>
<path d="M80 148h12.6v4.6H80z" fill="#efe6e4"/>
<path d="M92 148h4.6v4.6H92z" fill="#ede6e8"/>
<path d="M96 148h4.6v4.6H96z" fill="#ebe7eb"/>
<path d="M100 148h4.6v4.6H100z" fill="#e7e8ef"/>
<path d="M104 148h4.6v4.6H104z" fill="#e4e8f0"/>
<path d="M108 148h4.6v4.6H108z" fill="#e0e8f1"/>
<path d="M112 148h4.6v4.6H112z" fill="#d7e4ef"/>
<path d="M116 148h4.6v4.6H116z" fill="#cee0ed"/>
<path d="M120 148h4.6v4.6H120z" fill="#c6dceb"/>
<path d="M124 148h4.6v4.6H124z" fill="#c1daea"/>
<path d="M128 148h4.6v4.6H128z" fill="#bdd8e9"/>
<path d="M132 148h4.6v4.6H132z" fill="#b9d6e8"/>
<path d="M136 148h12.6v4.6H136z" fill="#b4d4e7"/>
<path d="M148 148h4.6v4.6H148z" fill="#b9d6e8"/>
<path d="M152 148h4.6v4.6H152z" fill="#bdd8e9"/>
<path d="M156 148h4.6v4.6H156z" fill="#c6dceb"/>
<path d="M160 148h4.6v4.6H160z" fill="#cadeec"/>
<path d="M164 148h4.6v4.6H164z" fill="#d3e2ee"/>
<path d="M168 148h4.6v4.6H168z" fill="#dce6f0"/>
<path d="M172 148h4.6v4.6H172z" fill="#e0e8f1"/>
<path d="M176 148h4.6v4.6H176z" fill="#e2e8f0"/>
<path d="M180 148h8.6v4.6H180z" fill="#e4e8f0"/>
<path d="M28 152h8.6v4.6H28z" fill="#d7e4ef"/>
<path d="M36 152h4.6v4.6H36z" fill="#dce6f0"/>
<path d="M40 152h16.6v4.6H40z" fill="#e0e8f1"/>
<path d="M56 152h12.6v4.6H56z" fill="#e2e8f0"/>
<path d="M68 152h8.6v4.6H68z" fill="#e4e8f0"/>
<path d="M76 152h16.6v4.6H76z" fill="#e5e8ef"/>
<path d="M92 152h8.6v4.6H92z" fill="#e4e8f0"/>
<path d="M100 152h4.6v4.6H100z" fill="#e2e8f0"/>
<path d="M104 152h4.6v4.6H104z" fill="#dce6f0"/>
<path d="M108 152h4.6v4.6H108z" fill="#d7e4ef"/>
<path d="M112 152h4.6v4.6H112z" fill="#d3e2ee"/>
<path d="M116 152h28.6v4.6H116z" fill="#cee0ed"/>
<path d="M144 152h8.6v4.6H144z" fill="#d3e2ee"/>
<path d="M152 152h4.6v4.6H152z" fill="#d7e4ef"/>
<path d="M156 152h4.6v4.6H156z" fill="#dce6f0"/>
<path d="M160 152h8.6v4.6H160z" fill="#e0e8f1"/>
<path d="M168 152h4.6v4.6H168z" fill="#e2e8f0"/>
<path d="M172 152h4.6v4.6H172z" fill="#e4e8f0"/>
<path d="M176 152h12.6v4.6H176z" fill="#e5e8ef"/>
<path d="M28 156h12.6v4.6H28z" fill="#d3e2ee"/>
<path d="M40 156h4.6v4.6H40z" fill="#d7e4ef"/>
<path d="M44 156h28.6v4.6H44z" fill="#dce6f0"/>
<path d="M72 156h24.6v4.6H72z" fill="#e0e8f1"/>
<path d="M96 156h8.6v4.6H96z" fill="#dce6f0"/>
<path d="M104 156h4.6v4.6H104z" fill="#d7e4ef"/>
<path d="M108 156h8.6v4.6H108z" fill="#d3e2ee"/>
<path d="M116 156h4.6v4.6H116z" fill="#cee0ed"/>
<path d="M120 156h8.6v4.6H120z" fill="#d3e2ee"/>
<path d="M128 156h4.6v4.6H128z" fill="#d7e4ef"/>
<path d="M132 156h4.6v4.6H132z" fill="#dce6f0"/>
<path d="M136 156h8.6v4.6H136z" fill="#e0e8f1"/>
<path d="M144 156h12.6v4.6H144z" fill="#e2e8f0"/>
<path d="M156 156h8.6v4.6H156z" fill="#e4e8f0"/>
<path d="M164 156h8.6v4.6H164z" fill="#e5e8ef"/>
<path d="M172 156h16.6v4.6H172z" fill="#e7e8ef"/>
<path d="M28 160h12.6v4.6H28z" fill="#d3e2ee"/>
<path d="M40 160h4.6v4.6H40z" fill="#d7e4ef"/>
<path d="M44 160h32.6v4.6H44z" fill="#dce6f0"/>
<path d="M76 160h16.6v4.6H76z" fill="#e0e8f1"/>
<path d="M92 160h8.6v4.6H92z" fill="#dce6f0"/>
<path d="M100 160h8.6v4.6H100z" fill="#d7e4ef"/>
<path d="M108 160h8.6v4.6H108z" fill="#d3e2ee"/>
<path d="M116 160h4.6v4.6H116z" fill="#cee0ed"/>
<path d="M120 160h8.6v4.6H120z" fill="#d3e2ee"/>
<path d="M128 160h4.6v4.6H128z" fill="#d7e4ef"/>
<path d="M132 160h4.6v4.6H132z" fill="#dce6f0"/>
<path d="M136 160h4.6v4.6H136z" fill="#e0e8f1"/>
<path d="M140 160h8.6v4.6H140z" fill="#e2e8f0"/>
<path d="M148 160h12.6v4.6H148z" fill="#e4e8f0"/>
<path d="M160 160h8.6v4.6H160z" fill="#e5e8ef"/>
<path d="M168 160h20.6v4.6H168z" fill="#e7e8ef"/>
<path d="M28 164h12.6v4.6H28z" fill="#d3e2ee"/>
<path d="M40 164h4.6v4.6H40z" fill="#d7e4ef"/>
<path d="M44 164h32.6v4.6H44z" fill="#dce6f0"/>
<path d="M76 164h16.6v4.6H76z" fill="#e0e8f1"/>
<path d="M92 164h8.6v4.6H92z" fill="#dce6f0"/>
<path d="M100 164h8.6v4.6H100z" fill="#d7e4ef"/>
<path d="M108 164h8.6v4.6H108z" fill="#d3e2ee"/>
<path d="M116 164h4.6v4.6H116z" fill="#cee0ed"/>
<path d="M120 164h8.6v4.6H120z" fill="#d3e2ee"/>
<path d="M128 164h4.6v4.6H128z" fill="#d7e4ef"/>
<path d="M132 164h4.6v4.6H132z" fill="#dce6f0"/>
<path d="M136 164h4.6v4.6H136z" fill="#e0e8f1"/>
<path d="M140 164h8.6v4.6H140z" fill="#e2e8f0"/>
<path d="M148 164h12.6v4.6H148z" fill="#e4e8f0"/>
<path d="M160 164h8.6v4.6H160z" fill="#e5e8ef"/>
<path d="M168 164h20.6v4.6H168z" fill="#e7e8ef"/>
</g>
<path d="M140,155 L155,152.4 L166,149.6 L176,148.8 L176,153.8 L166,154 L150,154.8 Z" fill="#f8ae92" filter="url(#bl1)"/>
<rect x="76" y="156.6" width="66" height="2.0" fill="#fbd0bb" filter="url(#bl1)"/>
<rect x="175.4" y="10" width="6" height="160" fill="#b4d4ea" filter="url(#bl1)"/>
<rect x="176" y="10" width="5" height="25" fill="#9cc8e3" filter="url(#bl2)"/>
<rect x="176" y="150" width="5" height="12" fill="#7fb2d6" filter="url(#bl1)"/>
</g>
<rect x="36.50" y="15.80" width="143.80" height="143.30" fill="none" stroke="#222" stroke-width="1"/>
<line x1="50.28" y1="159.10" x2="50.28" y2="161.70" stroke="#222" stroke-width="1" />
<line x1="76.29" y1="159.10" x2="76.29" y2="161.70" stroke="#222" stroke-width="1" />
<line x1="102.29" y1="159.10" x2="102.29" y2="161.70" stroke="#222" stroke-width="1" />
<line x1="128.29" y1="159.10" x2="128.29" y2="161.70" stroke="#222" stroke-width="1" />
<line x1="154.30" y1="159.10" x2="154.30" y2="161.70" stroke="#222" stroke-width="1" />
<line x1="180.30" y1="159.10" x2="180.30" y2="161.70" stroke="#222" stroke-width="1" />
<line x1="37.28" y1="159.10" x2="37.28" y2="160.70" stroke="#222" stroke-width="1" />
<line x1="63.28" y1="159.10" x2="63.28" y2="160.70" stroke="#222" stroke-width="1" />
<line x1="89.29" y1="159.10" x2="89.29" y2="160.70" stroke="#222" stroke-width="1" />
<line x1="115.29" y1="159.10" x2="115.29" y2="160.70" stroke="#222" stroke-width="1" />
<line x1="141.29" y1="159.10" x2="141.29" y2="160.70" stroke="#222" stroke-width="1" />
<line x1="167.30" y1="159.10" x2="167.30" y2="160.70" stroke="#222" stroke-width="1" />
<text x="50.28" y="172.20" text-anchor="middle" style="font-size:9.5px;font-weight:bold;fill:#111;" >550</text>
<text x="76.29" y="172.20" text-anchor="middle" style="font-size:9.5px;font-weight:bold;fill:#111;" >600</text>
<text x="102.29" y="172.20" text-anchor="middle" style="font-size:9.5px;font-weight:bold;fill:#111;" >650</text>
<text x="128.29" y="172.20" text-anchor="middle" style="font-size:9.5px;font-weight:bold;fill:#111;" >700</text>
<text x="154.30" y="172.20" text-anchor="middle" style="font-size:9.5px;font-weight:bold;fill:#111;" >750</text>
<text x="180.30" y="172.20" text-anchor="middle" style="font-size:9.5px;font-weight:bold;fill:#111;" >800</text>
<line x1="36.50" y1="159.10" x2="33.90" y2="159.10" stroke="#222" stroke-width="1" />
<text x="31.30" y="163.20" text-anchor="end" style="font-size:10px;font-weight:bold;fill:#111">10<tspan dy="-4.1" font-size="7">0</tspan></text>
<line x1="36.50" y1="111.33" x2="33.90" y2="111.33" stroke="#222" stroke-width="1" />
<text x="31.30" y="115.43" text-anchor="end" style="font-size:10px;font-weight:bold;fill:#111">10<tspan dy="-4.1" font-size="7">1</tspan></text>
<line x1="36.50" y1="63.57" x2="33.90" y2="63.57" stroke="#222" stroke-width="1" />
<text x="31.30" y="67.67" text-anchor="end" style="font-size:10px;font-weight:bold;fill:#111">10<tspan dy="-4.1" font-size="7">2</tspan></text>
<line x1="36.50" y1="15.80" x2="33.90" y2="15.80" stroke="#222" stroke-width="1" />
<text x="31.30" y="19.90" text-anchor="end" style="font-size:10px;font-weight:bold;fill:#111">10<tspan dy="-4.1" font-size="7">3</tspan></text>
<text x="1.50" y="13.10" text-anchor="start" style="font-size:17.5px;font-weight:bold;fill:#111;" >a</text>
<text x="108.40" y="184.80" text-anchor="middle" style="font-size:11.6px;font-weight:bold;fill:#111;" >Wavelength (nm)</text>
<text transform="translate(12.80,87.40) rotate(-90)" text-anchor="middle" style="font-size:11.6px;font-weight:bold;fill:#111;" >Delay Time (ps)</text>
<defs><linearGradient id="cbA" x1="0" y1="0" x2="0" y2="1"><stop offset="0.00" stop-color="#6a001f"/><stop offset="0.05" stop-color="#9a0a20"/><stop offset="0.13" stop-color="#c81e26"/><stop offset="0.20" stop-color="#e0402e"/><stop offset="0.27" stop-color="#f06444"/><stop offset="0.34" stop-color="#f59070"/><stop offset="0.41" stop-color="#f9bea6"/><stop offset="0.45" stop-color="#fbd6c6"/><stop offset="0.50" stop-color="#f2ecea"/><stop offset="0.55" stop-color="#dde8f2"/><stop offset="0.60" stop-color="#cde1ef"/><stop offset="0.67" stop-color="#a8cde4"/><stop offset="0.73" stop-color="#86b9da"/><stop offset="0.80" stop-color="#5a9ccb"/><stop offset="0.87" stop-color="#3a80bb"/><stop offset="0.93" stop-color="#2060a0"/><stop offset="1.00" stop-color="#08306b"/></linearGradient></defs>
<rect x="193.6" y="15.8" width="6.700000000000017" height="143.29999999999998" fill="url(#cbA)"/>
<line x1="200.30" y1="15.80" x2="202.90" y2="15.80" stroke="#222" stroke-width="1" />
<text x="206.80" y="19.20" text-anchor="start" style="font-size:9.5px;font-weight:bold;fill:#111;" >25</text>
<line x1="200.30" y1="51.62" x2="202.90" y2="51.62" stroke="#222" stroke-width="1" />
<text x="206.80" y="55.02" text-anchor="start" style="font-size:9.5px;font-weight:bold;fill:#111;" >15</text>
<line x1="200.30" y1="87.45" x2="202.90" y2="87.45" stroke="#222" stroke-width="1" />
<text x="206.80" y="90.85" text-anchor="start" style="font-size:9.5px;font-weight:bold;fill:#111;" >5</text>
<line x1="200.30" y1="123.28" x2="202.90" y2="123.28" stroke="#222" stroke-width="1" />
<text x="206.80" y="126.68" text-anchor="start" style="font-size:9.5px;font-weight:bold;fill:#111;" >−5</text>
<line x1="200.30" y1="159.10" x2="202.90" y2="159.10" stroke="#222" stroke-width="1" />
<text x="206.80" y="162.50" text-anchor="start" style="font-size:9.5px;font-weight:bold;fill:#111;" >−15</text>
<text transform="translate(191.00,87.50) rotate(-90)" text-anchor="middle" style="font-size:9.8px;font-weight:bold;fill:#111;" >ΔA (×10<tspan dy="-3.72" font-size="6.66">-3</tspan><tspan dy="3.72">)</tspan></text>
<defs><clipPath id="clipB"><rect x="267.5" y="15.8" width="143.80" height="143.30"/></clipPath><filter id="clipBf" x="-10%" y="-10%" width="120%" height="120%"><feGaussianBlur stdDeviation="2.4"/></filter></defs>
<g clip-path="url(#clipB)"><g filter="url(#clipBf)" shape-rendering="crispEdges">
<path d="M260 8h12.6v4.6H260z" fill="#ede6e8"/>
<path d="M272 8h4.6v4.6H272z" fill="#f1e5e1"/>
<path d="M276 8h4.6v4.6H276z" fill="#f3e4df"/>
<path d="M280 8h4.6v4.6H280z" fill="#f5e3dc"/>
<path d="M284 8h12.6v4.6H284z" fill="#f7e2d9"/>
<path d="M296 8h24.6v4.6H296z" fill="#f9e1d7"/>
<path d="M320 8h8.6v4.6H320z" fill="#f7e2d9"/>
<path d="M328 8h4.6v4.6H328z" fill="#f5e3dc"/>
<path d="M332 8h4.6v4.6H332z" fill="#f3e4df"/>
<path d="M336 8h4.6v4.6H336z" fill="#efe6e4"/>
<path d="M340 8h4.6v4.6H340z" fill="#ede6e8"/>
<path d="M344 8h4.6v4.6H344z" fill="#ebe7eb"/>
<path d="M348 8h4.6v4.6H348z" fill="#e7e8ef"/>
<path d="M352 8h4.6v4.6H352z" fill="#e5e8ef"/>
<path d="M356 8h8.6v4.6H356z" fill="#e2e8f0"/>
<path d="M364 8h4.6v4.6H364z" fill="#e0e8f1"/>
<path d="M368 8h12.6v4.6H368z" fill="#dce6f0"/>
<path d="M380 8h8.6v4.6H380z" fill="#d7e4ef"/>
<path d="M388 8h16.6v4.6H388z" fill="#dce6f0"/>
<path d="M404 8h16.6v4.6H404z" fill="#e0e8f1"/>
<path d="M260 12h12.6v4.6H260z" fill="#ede6e8"/>
<path d="M272 12h4.6v4.6H272z" fill="#f1e5e1"/>
<path d="M276 12h4.6v4.6H276z" fill="#f3e4df"/>
<path d="M280 12h4.6v4.6H280z" fill="#f5e3dc"/>
<path d="M284 12h12.6v4.6H284z" fill="#f7e2d9"/>
<path d="M296 12h24.6v4.6H296z" fill="#f9e1d7"/>
<path d="M320 12h8.6v4.6H320z" fill="#f7e2d9"/>
<path d="M328 12h4.6v4.6H328z" fill="#f5e3dc"/>
<path d="M332 12h4.6v4.6H332z" fill="#f3e4df"/>
<path d="M336 12h4.6v4.6H336z" fill="#efe6e4"/>
<path d="M340 12h4.6v4.6H340z" fill="#ede6e8"/>
<path d="M344 12h4.6v4.6H344z" fill="#ebe7eb"/>
<path d="M348 12h4.6v4.6H348z" fill="#e7e8ef"/>
<path d="M352 12h4.6v4.6H352z" fill="#e5e8ef"/>
<path d="M356 12h8.6v4.6H356z" fill="#e2e8f0"/>
<path d="M364 12h4.6v4.6H364z" fill="#e0e8f1"/>
<path d="M368 12h12.6v4.6H368z" fill="#dce6f0"/>
<path d="M380 12h8.6v4.6H380z" fill="#d7e4ef"/>
<path d="M388 12h16.6v4.6H388z" fill="#dce6f0"/>
<path d="M404 12h16.6v4.6H404z" fill="#e0e8f1"/>
<path d="M260 16h12.6v4.6H260z" fill="#ede6e8"/>
<path d="M272 16h4.6v4.6H272z" fill="#f1e5e1"/>
<path d="M276 16h4.6v4.6H276z" fill="#f3e4df"/>
<path d="M280 16h4.6v4.6H280z" fill="#f5e3dc"/>
<path d="M284 16h8.6v4.6H284z" fill="#f7e2d9"/>
<path d="M292 16h28.6v4.6H292z" fill="#f9e1d7"/>
<path d="M320 16h8.6v4.6H320z" fill="#f7e2d9"/>
<path d="M328 16h4.6v4.6H328z" fill="#f5e3dc"/>
<path d="M332 16h4.6v4.6H332z" fill="#f3e4df"/>
<path d="M336 16h4.6v4.6H336z" fill="#f1e5e1"/>
<path d="M340 16h4.6v4.6H340z" fill="#ede6e8"/>
<path d="M344 16h4.6v4.6H344z" fill="#ebe7eb"/>
<path d="M348 16h4.6v4.6H348z" fill="#e7e8ef"/>
<path d="M352 16h4.6v4.6H352z" fill="#e5e8ef"/>
<path d="M356 16h4.6v4.6H356z" fill="#e4e8f0"/>
<path d="M360 16h4.6v4.6H360z" fill="#e2e8f0"/>
<path d="M364 16h4.6v4.6H364z" fill="#e0e8f1"/>
<path d="M368 16h12.6v4.6H368z" fill="#dce6f0"/>
<path d="M380 16h8.6v4.6H380z" fill="#d7e4ef"/>
<path d="M388 16h16.6v4.6H388z" fill="#dce6f0"/>
<path d="M404 16h16.6v4.6H404z" fill="#e0e8f1"/>
<path d="M260 20h12.6v4.6H260z" fill="#ede6e8"/>
<path d="M272 20h4.6v4.6H272z" fill="#f1e5e1"/>
<path d="M276 20h4.6v4.6H276z" fill="#f5e3dc"/>
<path d="M280 20h4.6v4.6H280z" fill="#f7e2d9"/>
<path d="M284 20h8.6v4.6H284z" fill="#f9e1d7"/>
<path d="M292 20h32.6v4.6H292z" fill="#fae0d4"/>
<path d="M324 20h4.6v4.6H324z" fill="#f9e1d7"/>
<path d="M328 20h4.6v4.6H328z" fill="#f7e2d9"/>
<path d="M332 20h4.6v4.6H332z" fill="#f5e3dc"/>
<path d="M336 20h4.6v4.6H336z" fill="#f1e5e1"/>
<path d="M340 20h4.6v4.6H340z" fill="#efe6e4"/>
<path d="M344 20h4.6v4.6H344z" fill="#ebe7eb"/>
<path d="M348 20h4.6v4.6H348z" fill="#e9e8ee"/>
<path d="M352 20h4.6v4.6H352z" fill="#e5e8ef"/>
<path d="M356 20h4.6v4.6H356z" fill="#e4e8f0"/>
<path d="M360 20h4.6v4.6H360z" fill="#e2e8f0"/>
<path d="M364 20h4.6v4.6H364z" fill="#e0e8f1"/>
<path d="M368 20h36.6v4.6H368z" fill="#dce6f0"/>
<path d="M404 20h16.6v4.6H404z" fill="#e0e8f1"/>
<path d="M260 24h8.6v4.6H260z" fill="#ede6e8"/>
<path d="M268 24h4.6v4.6H268z" fill="#efe6e4"/>
<path d="M272 24h4.6v4.6H272z" fill="#f1e5e1"/>
<path d="M276 24h4.6v4.6H276z" fill="#f5e3dc"/>
<path d="M280 24h4.6v4.6H280z" fill="#f7e2d9"/>
<path d="M284 24h4.6v4.6H284z" fill="#f9e1d7"/>
<path d="M288 24h4.6v4.6H288z" fill="#fae0d4"/>
<path d="M292 24h12.6v4.6H292z" fill="#fbded2"/>
<path d="M304 24h8.6v4.6H304z" fill="#fcdccf"/>
<path d="M312 24h12.6v4.6H312z" fill="#fbded2"/>
<path d="M324 24h4.6v4.6H324z" fill="#fae0d4"/>
<path d="M328 24h4.6v4.6H328z" fill="#f9e1d7"/>
<path d="M332 24h4.6v4.6H332z" fill="#f7e2d9"/>
<path d="M336 24h4.6v4.6H336z" fill="#f3e4df"/>
<path d="M340 24h4.6v4.6H340z" fill="#efe6e4"/>
<path d="M344 24h4.6v4.6H344z" fill="#ede6e8"/>
<path d="M348 24h4.6v4.6H348z" fill="#e9e8ee"/>
<path d="M352 24h4.6v4.6H352z" fill="#e5e8ef"/>
<path d="M356 24h4.6v4.6H356z" fill="#e4e8f0"/>
<path d="M360 24h4.6v4.6H360z" fill="#e2e8f0"/>
<path d="M364 24h8.6v4.6H364z" fill="#e0e8f1"/>
<path d="M372 24h32.6v4.6H372z" fill="#dce6f0"/>
<path d="M404 24h16.6v4.6H404z" fill="#e0e8f1"/>
<path d="M260 28h8.6v4.6H260z" fill="#ede6e8"/>
<path d="M268 28h4.6v4.6H268z" fill="#efe6e4"/>
<path d="M272 28h4.6v4.6H272z" fill="#f3e4df"/>
<path d="M276 28h4.6v4.6H276z" fill="#f7e2d9"/>
<path d="M280 28h4.6v4.6H280z" fill="#f9e1d7"/>
<path d="M284 28h4.6v4.6H284z" fill="#fae0d4"/>
<path d="M288 28h4.6v4.6H288z" fill="#fbded2"/>
<path d="M292 28h8.6v4.6H292z" fill="#fcdccf"/>
<path d="M300 28h20.6v4.6H300z" fill="#fddbcc"/>
<path d="M320 28h4.6v4.6H320z" fill="#fcdccf"/>
<path d="M324 28h4.6v4.6H324z" fill="#fbded2"/>
<path d="M328 28h4.6v4.6H328z" fill="#fae0d4"/>
<path d="M332 28h4.6v4.6H332z" fill="#f9e1d7"/>
<path d="M336 28h4.6v4.6H336z" fill="#f5e3dc"/>
<path d="M340 28h4.6v4.6H340z" fill="#f1e5e1"/>
<path d="M344 28h4.6v4.6H344z" fill="#ede6e8"/>
<path d="M348 28h4.6v4.6H348z" fill="#ebe7eb"/>
<path d="M352 28h4.6v4.6H352z" fill="#e7e8ef"/>
<path d="M356 28h4.6v4.6H356z" fill="#e4e8f0"/>
<path d="M360 28h8.6v4.6H360z" fill="#e2e8f0"/>
<path d="M368 28h8.6v4.6H368z" fill="#e0e8f1"/>
<path d="M376 28h20.6v4.6H376z" fill="#dce6f0"/>
<path d="M396 28h24.6v4.6H396z" fill="#e0e8f1"/>
<path d="M260 32h12.6v4.6H260z" fill="#efe6e4"/>
<path d="M272 32h4.6v4.6H272z" fill="#f3e4df"/>
<path d="M276 32h4.6v4.6H276z" fill="#f7e2d9"/>
<path d="M280 32h4.6v4.6H280z" fill="#fae0d4"/>
<path d="M284 32h4.6v4.6H284z" fill="#fbded2"/>
<path d="M288 32h4.6v4.6H288z" fill="#fcdccf"/>
<path d="M292 32h4.6v4.6H292z" fill="#fddbcc"/>
<path d="M296 32h24.6v4.6H296z" fill="#fed9c9"/>
<path d="M320 32h4.6v4.6H320z" fill="#fddbcc"/>
<path d="M324 32h4.6v4.6H324z" fill="#fcdccf"/>
<path d="M328 32h4.6v4.6H328z" fill="#fbded2"/>
<path d="M332 32h4.6v4.6H332z" fill="#fae0d4"/>
<path d="M336 32h4.6v4.6H336z" fill="#f7e2d9"/>
<path d="M340 32h4.6v4.6H340z" fill="#f3e4df"/>
<path d="M344 32h4.6v4.6H344z" fill="#efe6e4"/>
<path d="M348 32h4.6v4.6H348z" fill="#ebe7eb"/>
<path d="M352 32h4.6v4.6H352z" fill="#e7e8ef"/>
<path d="M356 32h4.6v4.6H356z" fill="#e5e8ef"/>
<path d="M360 32h4.6v4.6H360z" fill="#e4e8f0"/>
<path d="M364 32h4.6v4.6H364z" fill="#e2e8f0"/>
<path d="M368 32h44.6v4.6H368z" fill="#e0e8f1"/>
<path d="M412 32h8.6v4.6H412z" fill="#e2e8f0"/>
<path d="M260 36h12.6v4.6H260z" fill="#efe6e4"/>
<path d="M272 36h4.6v4.6H272z" fill="#f5e3dc"/>
<path d="M276 36h4.6v4.6H276z" fill="#f9e1d7"/>
<path d="M280 36h4.6v4.6H280z" fill="#fbded2"/>
<path d="M284 36h4.6v4.6H284z" fill="#fcdccf"/>
<path d="M288 36h4.6v4.6H288z" fill="#fddbcc"/>
<path d="M292 36h4.6v4.6H292z" fill="#fed9c9"/>
<path d="M296 36h8.6v4.6H296z" fill="#fed6c5"/>
<path d="M304 36h12.6v4.6H304z" fill="#fed3c1"/>
<path d="M316 36h8.6v4.6H316z" fill="#fed6c5"/>
<path d="M324 36h4.6v4.6H324z" fill="#fed9c9"/>
<path d="M328 36h4.6v4.6H328z" fill="#fcdccf"/>
<path d="M332 36h4.6v4.6H332z" fill="#fbded2"/>
<path d="M336 36h4.6v4.6H336z" fill="#f9e1d7"/>
<path d="M340 36h4.6v4.6H340z" fill="#f5e3dc"/>
<path d="M344 36h4.6v4.6H344z" fill="#f1e5e1"/>
<path d="M348 36h4.6v4.6H348z" fill="#ede6e8"/>
<path d="M352 36h4.6v4.6H352z" fill="#e9e8ee"/>
<path d="M356 36h4.6v4.6H356z" fill="#e5e8ef"/>
<path d="M360 36h4.6v4.6H360z" fill="#e4e8f0"/>
<path d="M364 36h8.6v4.6H364z" fill="#e2e8f0"/>
<path d="M372 36h32.6v4.6H372z" fill="#e0e8f1"/>
<path d="M404 36h16.6v4.6H404z" fill="#e2e8f0"/>
<path d="M260 40h8.6v4.6H260z" fill="#efe6e4"/>
<path d="M268 40h4.6v4.6H268z" fill="#f1e5e1"/>
<path d="M272 40h4.6v4.6H272z" fill="#f5e3dc"/>
<path d="M276 40h4.6v4.6H276z" fill="#f9e1d7"/>
<path d="M280 40h4.6v4.6H280z" fill="#fbded2"/>
<path d="M284 40h4.6v4.6H284z" fill="#fddbcc"/>
<path d="M288 40h4.6v4.6H288z" fill="#fed9c9"/>
<path d="M292 40h4.6v4.6H292z" fill="#fed6c5"/>
<path d="M296 40h4.6v4.6H296z" fill="#fed3c1"/>
<path d="M300 40h20.6v4.6H300z" fill="#fdd0bd"/>
<path d="M320 40h4.6v4.6H320z" fill="#fed3c1"/>
<path d="M324 40h4.6v4.6H324z" fill="#fed6c5"/>
<path d="M328 40h4.6v4.6H328z" fill="#fed9c9"/>
<path d="M332 40h4.6v4.6H332z" fill="#fcdccf"/>
<path d="M336 40h4.6v4.6H336z" fill="#fae0d4"/>
<path d="M340 40h4.6v4.6H340z" fill="#f7e2d9"/>
<path d="M344 40h4.6v4.6H344z" fill="#f1e5e1"/>
<path d="M348 40h4.6v4.6H348z" fill="#ede6e8"/>
<path d="M352 40h4.6v4.6H352z" fill="#e9e8ee"/>
<path d="M356 40h4.6v4.6H356z" fill="#e7e8ef"/>
<path d="M360 40h4.6v4.6H360z" fill="#e5e8ef"/>
<path d="M364 40h4.6v4.6H364z" fill="#e4e8f0"/>
<path d="M368 40h12.6v4.6H368z" fill="#e2e8f0"/>
<path d="M380 40h16.6v4.6H380z" fill="#e0e8f1"/>
<path d="M396 40h24.6v4.6H396z" fill="#e2e8f0"/>
<path d="M260 44h8.6v4.6H260z" fill="#efe6e4"/>
<path d="M268 44h4.6v4.6H268z" fill="#f1e5e1"/>
<path d="M272 44h4.6v4.6H272z" fill="#f5e3dc"/>
<path d="M276 44h4.6v4.6H276z" fill="#fae0d4"/>
<path d="M280 44h4.6v4.6H280z" fill="#fcdccf"/>
<path d="M284 44h4.6v4.6H284z" fill="#fddbcc"/>
<path d="M288 44h4.6v4.6H288z" fill="#fed6c5"/>
<path d="M292 44h4.6v4.6H292z" fill="#fed3c1"/>
<path d="M296 44h4.6v4.6H296z" fill="#fdd0bd"/>
<path d="M300 44h20.6v4.6H300z" fill="#fdcdb9"/>
<path d="M320 44h4.6v4.6H320z" fill="#fdd0bd"/>
<path d="M324 44h4.6v4.6H324z" fill="#fed3c1"/>
<path d="M328 44h4.6v4.6H328z" fill="#fed6c5"/>
<path d="M332 44h4.6v4.6H332z" fill="#fddbcc"/>
<path d="M336 44h4.6v4.6H336z" fill="#fbded2"/>
<path d="M340 44h4.6v4.6H340z" fill="#f7e2d9"/>
<path d="M344 44h4.6v4.6H344z" fill="#f3e4df"/>
<path d="M348 44h4.6v4.6H348z" fill="#efe6e4"/>
<path d="M352 44h4.6v4.6H352z" fill="#ebe7eb"/>
<path d="M356 44h4.6v4.6H356z" fill="#e7e8ef"/>
<path d="M360 44h4.6v4.6H360z" fill="#e5e8ef"/>
<path d="M364 44h8.6v4.6H364z" fill="#e4e8f0"/>
<path d="M372 44h48.6v4.6H372z" fill="#e2e8f0"/>
<path d="M260 48h12.6v4.6H260z" fill="#f1e5e1"/>
<path d="M272 48h4.6v4.6H272z" fill="#f7e2d9"/>
<path d="M276 48h4.6v4.6H276z" fill="#fae0d4"/>
<path d="M280 48h4.6v4.6H280z" fill="#fcdccf"/>
<path d="M284 48h4.6v4.6H284z" fill="#fed9c9"/>
<path d="M288 48h4.6v4.6H288z" fill="#fed3c1"/>
<path d="M292 48h4.6v4.6H292z" fill="#fdd0bd"/>
<path d="M296 48h4.6v4.6H296z" fill="#fdcdb9"/>
<path d="M300 48h8.6v4.6H300z" fill="#fdcab5"/>
<path d="M308 48h4.6v4.6H308z" fill="#fdc7b1"/>
<path d="M312 48h8.6v4.6H312z" fill="#fdcab5"/>
<path d="M320 48h4.6v4.6H320z" fill="#fdcdb9"/>
<path d="M324 48h4.6v4.6H324z" fill="#fdd0bd"/>
<path d="M328 48h4.6v4.6H328z" fill="#fed3c1"/>
<path d="M332 48h4.6v4.6H332z" fill="#fed9c9"/>
<path d="M336 48h4.6v4.6H336z" fill="#fbded2"/>
<path d="M340 48h4.6v4.6H340z" fill="#f9e1d7"/>
<path d="M344 48h4.6v4.6H344z" fill="#f5e3dc"/>
<path d="M348 48h4.6v4.6H348z" fill="#efe6e4"/>
<path d="M352 48h4.6v4.6H352z" fill="#ebe7eb"/>
<path d="M356 48h4.6v4.6H356z" fill="#e9e8ee"/>
<path d="M360 48h8.6v4.6H360z" fill="#e5e8ef"/>
<path d="M368 48h8.6v4.6H368z" fill="#e4e8f0"/>
<path d="M376 48h44.6v4.6H376z" fill="#e2e8f0"/>
<path d="M260 52h12.6v4.6H260z" fill="#f1e5e1"/>
<path d="M272 52h4.6v4.6H272z" fill="#f7e2d9"/>
<path d="M276 52h4.6v4.6H276z" fill="#fbded2"/>
<path d="M280 52h4.6v4.6H280z" fill="#fddbcc"/>
<path d="M284 52h4.6v4.6H284z" fill="#fed6c5"/>
<path d="M288 52h4.6v4.6H288z" fill="#fed3c1"/>
<path d="M292 52h4.6v4.6H292z" fill="#fdcdb9"/>
<path d="M296 52h4.6v4.6H296z" fill="#fdcab5"/>
<path d="M300 52h20.6v4.6H300z" fill="#fdc7b1"/>
<path d="M320 52h4.6v4.6H320z" fill="#fdcab5"/>
<path d="M324 52h4.6v4.6H324z" fill="#fdcdb9"/>
<path d="M328 52h4.6v4.6H328z" fill="#fed3c1"/>
<path d="M332 52h4.6v4.6H332z" fill="#fed9c9"/>
<path d="M336 52h4.6v4.6H336z" fill="#fcdccf"/>
<path d="M340 52h4.6v4.6H340z" fill="#fae0d4"/>
<path d="M344 52h4.6v4.6H344z" fill="#f5e3dc"/>
<path d="M348 52h4.6v4.6H348z" fill="#f1e5e1"/>
<path d="M352 52h4.6v4.6H352z" fill="#ede6e8"/>
<path d="M356 52h4.6v4.6H356z" fill="#e9e8ee"/>
<path d="M360 52h4.6v4.6H360z" fill="#e7e8ef"/>
<path d="M364 52h4.6v4.6H364z" fill="#e5e8ef"/>
<path d="M368 52h12.6v4.6H368z" fill="#e4e8f0"/>
<path d="M380 52h24.6v4.6H380z" fill="#e2e8f0"/>
<path d="M404 52h16.6v4.6H404z" fill="#e4e8f0"/>
<path d="M260 56h12.6v4.6H260z" fill="#f1e5e1"/>
<path d="M272 56h4.6v4.6H272z" fill="#f7e2d9"/>
<path d="M276 56h4.6v4.6H276z" fill="#fbded2"/>
<path d="M280 56h4.6v4.6H280z" fill="#fddbcc"/>
<path d="M284 56h4.6v4.6H284z" fill="#fed6c5"/>
<path d="M288 56h4.6v4.6H288z" fill="#fdd0bd"/>
<path d="M292 56h4.6v4.6H292z" fill="#fdcdb9"/>
<path d="M296 56h8.6v4.6H296z" fill="#fdc7b1"/>
<path d="M304 56h16.6v4.6H304z" fill="#fdc4ac"/>
<path d="M320 56h4.6v4.6H320z" fill="#fdc7b1"/>
<path d="M324 56h4.6v4.6H324z" fill="#fdcab5"/>
<path d="M328 56h4.6v4.6H328z" fill="#fdd0bd"/>
<path d="M332 56h4.6v4.6H332z" fill="#fed6c5"/>
<path d="M336 56h4.6v4.6H336z" fill="#fcdccf"/>
<path d="M340 56h4.6v4.6H340z" fill="#fae0d4"/>
<path d="M344 56h4.6v4.6H344z" fill="#f5e3dc"/>
<path d="M348 56h4.6v4.6H348z" fill="#f1e5e1"/>
<path d="M352 56h4.6v4.6H352z" fill="#ede6e8"/>
<path d="M356 56h4.6v4.6H356z" fill="#e9e8ee"/>
<path d="M360 56h4.6v4.6H360z" fill="#e7e8ef"/>
<path d="M364 56h4.6v4.6H364z" fill="#e5e8ef"/>
<path d="M368 56h52.6v4.6H368z" fill="#e4e8f0"/>
<path d="M260 60h8.6v4.6H260z" fill="#f1e5e1"/>
<path d="M268 60h4.6v4.6H268z" fill="#f3e4df"/>
<path d="M272 60h4.6v4.6H272z" fill="#f7e2d9"/>
<path d="M276 60h4.6v4.6H276z" fill="#fbded2"/>
<path d="M280 60h4.6v4.6H280z" fill="#fddbcc"/>
<path d="M284 60h4.6v4.6H284z" fill="#fed6c5"/>
<path d="M288 60h4.6v4.6H288z" fill="#fdd0bd"/>
<path d="M292 60h4.6v4.6H292z" fill="#fdcab5"/>
<path d="M296 60h4.6v4.6H296z" fill="#fdc7b1"/>
<path d="M300 60h20.6v4.6H300z" fill="#fdc4ac"/>
<path d="M320 60h4.6v4.6H320z" fill="#fdc7b1"/>
<path d="M324 60h4.6v4.6H324z" fill="#fdcab5"/>
<path d="M328 60h4.6v4.6H328z" fill="#fdd0bd"/>
<path d="M332 60h4.6v4.6H332z" fill="#fed6c5"/>
<path d="M336 60h4.6v4.6H336z" fill="#fddbcc"/>
<path d="M340 60h4.6v4.6H340z" fill="#fae0d4"/>
<path d="M344 60h4.6v4.6H344z" fill="#f7e2d9"/>
<path d="M348 60h4.6v4.6H348z" fill="#f1e5e1"/>
<path d="M352 60h4.6v4.6H352z" fill="#ede6e8"/>
<path d="M356 60h4.6v4.6H356z" fill="#e9e8ee"/>
<path d="M360 60h4.6v4.6H360z" fill="#e7e8ef"/>
<path d="M364 60h8.6v4.6H364z" fill="#e5e8ef"/>
<path d="M372 60h48.6v4.6H372z" fill="#e4e8f0"/>
<path d="M260 64h8.6v4.6H260z" fill="#f1e5e1"/>
<path d="M268 64h4.6v4.6H268z" fill="#f3e4df"/>
<path d="M272 64h4.6v4.6H272z" fill="#f7e2d9"/>
<path d="M276 64h4.6v4.6H276z" fill="#fbded2"/>
<path d="M280 64h4.6v4.6H280z" fill="#fddbcc"/>
<path d="M284 64h4.6v4.6H284z" fill="#fed6c5"/>
<path d="M288 64h4.6v4.6H288z" fill="#fdd0bd"/>
<path d="M292 64h4.6v4.6H292z" fill="#fdcab5"/>
<path d="M296 64h4.6v4.6H296z" fill="#fdc7b1"/>
<path d="M300 64h20.6v4.6H300z" fill="#fdc4ac"/>
<path d="M320 64h4.6v4.6H320z" fill="#fdc7b1"/>
<path d="M324 64h4.6v4.6H324z" fill="#fdcab5"/>
<path d="M328 64h4.6v4.6H328z" fill="#fdd0bd"/>
<path d="M332 64h4.6v4.6H332z" fill="#fed6c5"/>
<path d="M336 64h4.6v4.6H336z" fill="#fddbcc"/>
<path d="M340 64h4.6v4.6H340z" fill="#fae0d4"/>
<path d="M344 64h4.6v4.6H344z" fill="#f7e2d9"/>
<path d="M348 64h4.6v4.6H348z" fill="#f1e5e1"/>
<path d="M352 64h4.6v4.6H352z" fill="#ede6e8"/>
<path d="M356 64h4.6v4.6H356z" fill="#ebe7eb"/>
<path d="M360 64h4.6v4.6H360z" fill="#e7e8ef"/>
<path d="M364 64h8.6v4.6H364z" fill="#e5e8ef"/>
<path d="M372 64h48.6v4.6H372z" fill="#e4e8f0"/>
<path d="M260 68h8.6v4.6H260z" fill="#f1e5e1"/>
<path d="M268 68h4.6v4.6H268z" fill="#f3e4df"/>
<path d="M272 68h4.6v4.6H272z" fill="#f7e2d9"/>
<path d="M276 68h4.6v4.6H276z" fill="#fbded2"/>
<path d="M280 68h4.6v4.6H280z" fill="#fddbcc"/>
<path d="M284 68h4.6v4.6H284z" fill="#fed6c5"/>
<path d="M288 68h4.6v4.6H288z" fill="#fdd0bd"/>
<path d="M292 68h4.6v4.6H292z" fill="#fdcab5"/>
<path d="M296 68h4.6v4.6H296z" fill="#fdc7b1"/>
<path d="M300 68h20.6v4.6H300z" fill="#fdc4ac"/>
<path d="M320 68h4.6v4.6H320z" fill="#fdc7b1"/>
<path d="M324 68h4.6v4.6H324z" fill="#fdcab5"/>
<path d="M328 68h4.6v4.6H328z" fill="#fdd0bd"/>
<path d="M332 68h4.6v4.6H332z" fill="#fed6c5"/>
<path d="M336 68h4.6v4.6H336z" fill="#fddbcc"/>
<path d="M340 68h4.6v4.6H340z" fill="#fae0d4"/>
<path d="M344 68h4.6v4.6H344z" fill="#f7e2d9"/>
<path d="M348 68h4.6v4.6H348z" fill="#f1e5e1"/>
<path d="M352 68h4.6v4.6H352z" fill="#ede6e8"/>
<path d="M356 68h4.6v4.6H356z" fill="#ebe7eb"/>
<path d="M360 68h8.6v4.6H360z" fill="#e7e8ef"/>
<path d="M368 68h8.6v4.6H368z" fill="#e5e8ef"/>
<path d="M376 68h44.6v4.6H376z" fill="#e4e8f0"/>
<path d="M260 72h8.6v4.6H260z" fill="#f1e5e1"/>
<path d="M268 72h4.6v4.6H268z" fill="#f3e4df"/>
<path d="M272 72h4.6v4.6H272z" fill="#f7e2d9"/>
<path d="M276 72h4.6v4.6H276z" fill="#fbded2"/>
<path d="M280 72h4.6v4.6H280z" fill="#fddbcc"/>
<path d="M284 72h4.6v4.6H284z" fill="#fed6c5"/>
<path d="M288 72h4.6v4.6H288z" fill="#fdd0bd"/>
<path d="M292 72h4.6v4.6H292z" fill="#fdcdb9"/>
<path d="M296 72h8.6v4.6H296z" fill="#fdc7b1"/>
<path d="M304 72h16.6v4.6H304z" fill="#fdc4ac"/>
<path d="M320 72h4.6v4.6H320z" fill="#fdc7b1"/>
<path d="M324 72h4.6v4.6H324z" fill="#fdcab5"/>
<path d="M328 72h4.6v4.6H328z" fill="#fdd0bd"/>
<path d="M332 72h4.6v4.6H332z" fill="#fed6c5"/>
<path d="M336 72h4.6v4.6H336z" fill="#fddbcc"/>
<path d="M340 72h4.6v4.6H340z" fill="#fae0d4"/>
<path d="M344 72h4.6v4.6H344z" fill="#f7e2d9"/>
<path d="M348 72h4.6v4.6H348z" fill="#f3e4df"/>
<path d="M352 72h4.6v4.6H352z" fill="#efe6e4"/>
<path d="M356 72h4.6v4.6H356z" fill="#ebe7eb"/>
<path d="M360 72h4.6v4.6H360z" fill="#e9e8ee"/>
<path d="M364 72h4.6v4.6H364z" fill="#e7e8ef"/>
<path d="M368 72h8.6v4.6H368z" fill="#e5e8ef"/>
<path d="M376 72h44.6v4.6H376z" fill="#e4e8f0"/>
<path d="M260 76h8.6v4.6H260z" fill="#f1e5e1"/>
<path d="M268 76h4.6v4.6H268z" fill="#f3e4df"/>
<path d="M272 76h4.6v4.6H272z" fill="#f7e2d9"/>
<path d="M276 76h4.6v4.6H276z" fill="#fbded2"/>
<path d="M280 76h4.6v4.6H280z" fill="#fddbcc"/>
<path d="M284 76h4.6v4.6H284z" fill="#fed6c5"/>
<path d="M288 76h4.6v4.6H288z" fill="#fdd0bd"/>
<path d="M292 76h4.6v4.6H292z" fill="#fdcdb9"/>
<path d="M296 76h4.6v4.6H296z" fill="#fdcab5"/>
<path d="M300 76h4.6v4.6H300z" fill="#fdc7b1"/>
<path d="M304 76h12.6v4.6H304z" fill="#fdc4ac"/>
<path d="M316 76h8.6v4.6H316z" fill="#fdc7b1"/>
<path d="M324 76h4.6v4.6H324z" fill="#fdcab5"/>
<path d="M328 76h4.6v4.6H328z" fill="#fdd0bd"/>
<path d="M332 76h4.6v4.6H332z" fill="#fed6c5"/>
<path d="M336 76h4.6v4.6H336z" fill="#fddbcc"/>
<path d="M340 76h4.6v4.6H340z" fill="#fae0d4"/>
<path d="M344 76h4.6v4.6H344z" fill="#f7e2d9"/>
<path d="M348 76h4.6v4.6H348z" fill="#f3e4df"/>
<path d="M352 76h4.6v4.6H352z" fill="#efe6e4"/>
<path d="M356 76h4.6v4.6H356z" fill="#ebe7eb"/>
<path d="M360 76h4.6v4.6H360z" fill="#e9e8ee"/>
<path d="M364 76h4.6v4.6H364z" fill="#e7e8ef"/>
<path d="M368 76h8.6v4.6H368z" fill="#e5e8ef"/>
<path d="M376 76h44.6v4.6H376z" fill="#e4e8f0"/>
<path d="M260 80h8.6v4.6H260z" fill="#f1e5e1"/>
<path d="M268 80h4.6v4.6H268z" fill="#f3e4df"/>
<path d="M272 80h4.6v4.6H272z" fill="#f9e1d7"/>
<path d="M276 80h4.6v4.6H276z" fill="#fbded2"/>
<path d="M280 80h4.6v4.6H280z" fill="#fddbcc"/>
<path d="M284 80h4.6v4.6H284z" fill="#fed6c5"/>
<path d="M288 80h4.6v4.6H288z" fill="#fdd0bd"/>
<path d="M292 80h4.6v4.6H292z" fill="#fdcdb9"/>
<path d="M296 80h4.6v4.6H296z" fill="#fdcab5"/>
<path d="M300 80h4.6v4.6H300z" fill="#fdc7b1"/>
<path d="M304 80h12.6v4.6H304z" fill="#fdc4ac"/>
<path d="M316 80h8.6v4.6H316z" fill="#fdc7b1"/>
<path d="M324 80h4.6v4.6H324z" fill="#fdcab5"/>
<path d="M328 80h4.6v4.6H328z" fill="#fdd0bd"/>
<path d="M332 80h4.6v4.6H332z" fill="#fed6c5"/>
<path d="M336 80h4.6v4.6H336z" fill="#fddbcc"/>
<path d="M340 80h4.6v4.6H340z" fill="#fbded2"/>
<path d="M344 80h4.6v4.6H344z" fill="#f7e2d9"/>
<path d="M348 80h4.6v4.6H348z" fill="#f3e4df"/>
<path d="M352 80h4.6v4.6H352z" fill="#efe6e4"/>
<path d="M356 80h4.6v4.6H356z" fill="#ebe7eb"/>
<path d="M360 80h4.6v4.6H360z" fill="#e9e8ee"/>
<path d="M364 80h4.6v4.6H364z" fill="#e7e8ef"/>
<path d="M368 80h12.6v4.6H368z" fill="#e5e8ef"/>
<path d="M380 80h40.6v4.6H380z" fill="#e4e8f0"/>
<path d="M260 84h12.6v4.6H260z" fill="#f3e4df"/>
<path d="M272 84h4.6v4.6H272z" fill="#f9e1d7"/>
<path d="M276 84h4.6v4.6H276z" fill="#fcdccf"/>
<path d="M280 84h4.6v4.6H280z" fill="#fed9c9"/>
<path d="M284 84h4.6v4.6H284z" fill="#fed6c5"/>
<path d="M288 84h4.6v4.6H288z" fill="#fdd0bd"/>
<path d="M292 84h4.6v4.6H292z" fill="#fdcdb9"/>
<path d="M296 84h8.6v4.6H296z" fill="#fdc7b1"/>
<path d="M304 84h12.6v4.6H304z" fill="#fdc4ac"/>
<path d="M316 84h8.6v4.6H316z" fill="#fdc7b1"/>
<path d="M324 84h4.6v4.6H324z" fill="#fdcab5"/>
<path d="M328 84h4.6v4.6H328z" fill="#fdd0bd"/>
<path d="M332 84h4.6v4.6H332z" fill="#fed6c5"/>
<path d="M336 84h4.6v4.6H336z" fill="#fddbcc"/>
<path d="M340 84h4.6v4.6H340z" fill="#fbded2"/>
<path d="M344 84h4.6v4.6H344z" fill="#f9e1d7"/>
<path d="M348 84h4.6v4.6H348z" fill="#f3e4df"/>
<path d="M352 84h4.6v4.6H352z" fill="#efe6e4"/>
<path d="M356 84h4.6v4.6H356z" fill="#ede6e8"/>
<path d="M360 84h4.6v4.6H360z" fill="#e9e8ee"/>
<path d="M364 84h4.6v4.6H364z" fill="#e7e8ef"/>
<path d="M368 84h12.6v4.6H368z" fill="#e5e8ef"/>
<path d="M380 84h40.6v4.6H380z" fill="#e4e8f0"/>
<path d="M260 88h8.6v4.6H260z" fill="#f3e4df"/>
<path d="M268 88h4.6v4.6H268z" fill="#f5e3dc"/>
<path d="M272 88h4.6v4.6H272z" fill="#f9e1d7"/>
<path d="M276 88h4.6v4.6H276z" fill="#fcdccf"/>
<path d="M280 88h4.6v4.6H280z" fill="#fed9c9"/>
<path d="M284 88h4.6v4.6H284z" fill="#fed3c1"/>
<path d="M288 88h4.6v4.6H288z" fill="#fdcdb9"/>
<path d="M292 88h4.6v4.6H292z" fill="#fdcab5"/>
<path d="M296 88h4.6v4.6H296z" fill="#fdc7b1"/>
<path d="M300 88h20.6v4.6H300z" fill="#fdc4ac"/>
<path d="M320 88h4.6v4.6H320z" fill="#fdc7b1"/>
<path d="M324 88h4.6v4.6H324z" fill="#fdcab5"/>
<path d="M328 88h4.6v4.6H328z" fill="#fdcdb9"/>
<path d="M332 88h4.6v4.6H332z" fill="#fed3c1"/>
<path d="M336 88h4.6v4.6H336z" fill="#fed9c9"/>
<path d="M340 88h4.6v4.6H340z" fill="#fcdccf"/>
<path d="M344 88h4.6v4.6H344z" fill="#f9e1d7"/>
<path d="M348 88h4.6v4.6H348z" fill="#f5e3dc"/>
<path d="M352 88h4.6v4.6H352z" fill="#f1e5e1"/>
<path d="M356 88h4.6v4.6H356z" fill="#ede6e8"/>
<path d="M360 88h4.6v4.6H360z" fill="#ebe7eb"/>
<path d="M364 88h8.6v4.6H364z" fill="#e7e8ef"/>
<path d="M372 88h8.6v4.6H372z" fill="#e5e8ef"/>
<path d="M380 88h40.6v4.6H380z" fill="#e4e8f0"/>
<path d="M260 92h12.6v4.6H260z" fill="#f5e3dc"/>
<path d="M272 92h4.6v4.6H272z" fill="#fae0d4"/>
<path d="M276 92h4.6v4.6H276z" fill="#fddbcc"/>
<path d="M280 92h4.6v4.6H280z" fill="#fed6c5"/>
<path d="M284 92h4.6v4.6H284z" fill="#fdd0bd"/>
<path d="M288 92h4.6v4.6H288z" fill="#fdcdb9"/>
<path d="M292 92h4.6v4.6H292z" fill="#fdc7b1"/>
<path d="M296 92h4.6v4.6H296z" fill="#fdc4ac"/>
<path d="M300 92h20.6v4.6H300z" fill="#fdc0a8"/>
<path d="M320 92h4.6v4.6H320z" fill="#fdc4ac"/>
<path d="M324 92h4.6v4.6H324z" fill="#fdc7b1"/>
<path d="M328 92h4.6v4.6H328z" fill="#fdcab5"/>
<path d="M332 92h4.6v4.6H332z" fill="#fdd0bd"/>
<path d="M336 92h4.6v4.6H336z" fill="#fed6c5"/>
<path d="M340 92h4.6v4.6H340z" fill="#fcdccf"/>
<path d="M344 92h4.6v4.6H344z" fill="#fae0d4"/>
<path d="M348 92h4.6v4.6H348z" fill="#f7e2d9"/>
<path d="M352 92h4.6v4.6H352z" fill="#f1e5e1"/>
<path d="M356 92h4.6v4.6H356z" fill="#efe6e4"/>
<path d="M360 92h4.6v4.6H360z" fill="#ebe7eb"/>
<path d="M364 92h4.6v4.6H364z" fill="#e9e8ee"/>
<path d="M368 92h4.6v4.6H368z" fill="#e7e8ef"/>
<path d="M372 92h8.6v4.6H372z" fill="#e5e8ef"/>
<path d="M380 92h40.6v4.6H380z" fill="#e4e8f0"/>
<path d="M260 96h8.6v4.6H260z" fill="#f5e3dc"/>
<path d="M268 96h4.6v4.6H268z" fill="#f7e2d9"/>
<path d="M272 96h4.6v4.6H272z" fill="#fbded2"/>
<path d="M276 96h4.6v4.6H276z" fill="#fed9c9"/>
<path d="M280 96h4.6v4.6H280z" fill="#fed3c1"/>
<path d="M284 96h4.6v4.6H284z" fill="#fdcdb9"/>
<path d="M288 96h4.6v4.6H288z" fill="#fdcab5"/>
<path d="M292 96h4.6v4.6H292z" fill="#fdc4ac"/>
<path d="M296 96h4.6v4.6H296z" fill="#fdc0a8"/>
<path d="M300 96h20.6v4.6H300z" fill="#fcbda3"/>
<path d="M320 96h4.6v4.6H320z" fill="#fdc0a8"/>
<path d="M324 96h4.6v4.6H324z" fill="#fdc4ac"/>
<path d="M328 96h4.6v4.6H328z" fill="#fdc7b1"/>
<path d="M332 96h4.6v4.6H332z" fill="#fdcdb9"/>
<path d="M336 96h4.6v4.6H336z" fill="#fed3c1"/>
<path d="M340 96h4.6v4.6H340z" fill="#fed9c9"/>
<path d="M344 96h4.6v4.6H344z" fill="#fbded2"/>
<path d="M348 96h4.6v4.6H348z" fill="#f7e2d9"/>
<path d="M352 96h4.6v4.6H352z" fill="#f3e4df"/>
<path d="M356 96h4.6v4.6H356z" fill="#efe6e4"/>
<path d="M360 96h4.6v4.6H360z" fill="#ede6e8"/>
<path d="M364 96h4.6v4.6H364z" fill="#e9e8ee"/>
<path d="M368 96h4.6v4.6H368z" fill="#e7e8ef"/>
<path d="M372 96h8.6v4.6H372z" fill="#e5e8ef"/>
<path d="M380 96h40.6v4.6H380z" fill="#e4e8f0"/>
<path d="M260 100h8.6v4.6H260z" fill="#f7e2d9"/>
<path d="M268 100h4.6v4.6H268z" fill="#f9e1d7"/>
<path d="M272 100h4.6v4.6H272z" fill="#fcdccf"/>
<path d="M276 100h4.6v4.6H276z" fill="#fed6c5"/>
<path d="M280 100h4.6v4.6H280z" fill="#fdd0bd"/>
<path d="M284 100h4.6v4.6H284z" fill="#fdcab5"/>
<path d="M288 100h4.6v4.6H288z" fill="#fdc4ac"/>
<path d="M292 100h4.6v4.6H292z" fill="#fdc0a8"/>
<path d="M296 100h4.6v4.6H296z" fill="#fcbda3"/>
<path d="M300 100h4.6v4.6H300z" fill="#fcba9f"/>
<path d="M304 100h12.6v4.6H304z" fill="#fcb69a"/>
<path d="M316 100h8.6v4.6H316z" fill="#fcba9f"/>
<path d="M324 100h4.6v4.6H324z" fill="#fcbda3"/>
<path d="M328 100h4.6v4.6H328z" fill="#fdc4ac"/>
<path d="M332 100h4.6v4.6H332z" fill="#fdcab5"/>
<path d="M336 100h4.6v4.6H336z" fill="#fdd0bd"/>
<path d="M340 100h4.6v4.6H340z" fill="#fed6c5"/>
<path d="M344 100h4.6v4.6H344z" fill="#fcdccf"/>
<path d="M348 100h4.6v4.6H348z" fill="#f9e1d7"/>
<path d="M352 100h4.6v4.6H352z" fill="#f5e3dc"/>
<path d="M356 100h4.6v4.6H356z" fill="#f1e5e1"/>
<path d="M360 100h4.6v4.6H360z" fill="#ede6e8"/>
<path d="M364 100h4.6v4.6H364z" fill="#ebe7eb"/>
<path d="M368 100h4.6v4.6H368z" fill="#e7e8ef"/>
<path d="M372 100h8.6v4.6H372z" fill="#e5e8ef"/>
<path d="M380 100h40.6v4.6H380z" fill="#e4e8f0"/>
<path d="M260 104h12.6v4.6H260z" fill="#f9e1d7"/>
<path d="M272 104h4.6v4.6H272z" fill="#fddbcc"/>
<path d="M276 104h4.6v4.6H276z" fill="#fed3c1"/>
<path d="M280 104h4.6v4.6H280z" fill="#fdcdb9"/>
<path d="M284 104h4.6v4.6H284z" fill="#fdc7b1"/>
<path d="M288 104h4.6v4.6H288z" fill="#fdc0a8"/>
<path d="M292 104h4.6v4.6H292z" fill="#fcbda3"/>
<path d="M296 104h4.6v4.6H296z" fill="#fcb69a"/>
<path d="M300 104h20.6v4.6H300z" fill="#fcb396"/>
<path d="M320 104h4.6v4.6H320z" fill="#fcb69a"/>
<path d="M324 104h4.6v4.6H324z" fill="#fcba9f"/>
<path d="M328 104h4.6v4.6H328z" fill="#fcbda3"/>
<path d="M332 104h4.6v4.6H332z" fill="#fdc4ac"/>
<path d="M336 104h4.6v4.6H336z" fill="#fdcdb9"/>
<path d="M340 104h4.6v4.6H340z" fill="#fed3c1"/>
<path d="M344 104h4.6v4.6H344z" fill="#fddbcc"/>
<path d="M348 104h4.6v4.6H348z" fill="#fae0d4"/>
<path d="M352 104h4.6v4.6H352z" fill="#f7e2d9"/>
<path d="M356 104h4.6v4.6H356z" fill="#f1e5e1"/>
<path d="M360 104h4.6v4.6H360z" fill="#ede6e8"/>
<path d="M364 104h4.6v4.6H364z" fill="#ebe7eb"/>
<path d="M368 104h4.6v4.6H368z" fill="#e7e8ef"/>
<path d="M372 104h4.6v4.6H372z" fill="#e5e8ef"/>
<path d="M376 104h44.6v4.6H376z" fill="#e4e8f0"/>
<path d="M260 108h8.6v4.6H260z" fill="#f9e1d7"/>
<path d="M268 108h4.6v4.6H268z" fill="#fae0d4"/>
<path d="M272 108h4.6v4.6H272z" fill="#fddbcc"/>
<path d="M276 108h4.6v4.6H276z" fill="#fdd0bd"/>
<path d="M280 108h4.6v4.6H280z" fill="#fdcab5"/>
<path d="M284 108h4.6v4.6H284z" fill="#fdc4ac"/>
<path d="M288 108h4.6v4.6H288z" fill="#fcbda3"/>
<path d="M292 108h4.6v4.6H292z" fill="#fcb69a"/>
<path d="M296 108h4.6v4.6H296z" fill="#fcb396"/>
<path d="M300 108h20.6v4.6H300z" fill="#fcaf92"/>
<path d="M320 108h4.6v4.6H320z" fill="#fcb396"/>
<path d="M324 108h4.6v4.6H324z" fill="#fcb69a"/>
<path d="M328 108h4.6v4.6H328z" fill="#fcba9f"/>
<path d="M332 108h4.6v4.6H332z" fill="#fdc0a8"/>
<path d="M336 108h4.6v4.6H336z" fill="#fdc7b1"/>
<path d="M340 108h4.6v4.6H340z" fill="#fdd0bd"/>
<path d="M344 108h4.6v4.6H344z" fill="#fed9c9"/>
<path d="M348 108h4.6v4.6H348z" fill="#fbded2"/>
<path d="M352 108h4.6v4.6H352z" fill="#f7e2d9"/>
<path d="M356 108h4.6v4.6H356z" fill="#f3e4df"/>
<path d="M360 108h4.6v4.6H360z" fill="#efe6e4"/>
<path d="M364 108h4.6v4.6H364z" fill="#ebe7eb"/>
<path d="M368 108h4.6v4.6H368z" fill="#e7e8ef"/>
<path d="M372 108h4.6v4.6H372z" fill="#e5e8ef"/>
<path d="M376 108h44.6v4.6H376z" fill="#e4e8f0"/>
<path d="M260 112h8.6v4.6H260z" fill="#f9e1d7"/>
<path d="M268 112h4.6v4.6H268z" fill="#fae0d4"/>
<path d="M272 112h4.6v4.6H272z" fill="#fed9c9"/>
<path d="M276 112h4.6v4.6H276z" fill="#fdd0bd"/>
<path d="M280 112h4.6v4.6H280z" fill="#fdc7b1"/>
<path d="M284 112h4.6v4.6H284z" fill="#fdc0a8"/>
<path d="M288 112h4.6v4.6H288z" fill="#fcba9f"/>
<path d="M292 112h4.6v4.6H292z" fill="#fcb69a"/>
<path d="M296 112h4.6v4.6H296z" fill="#fcaf92"/>
<path d="M300 112h20.6v4.6H300z" fill="#fbac8e"/>
<path d="M320 112h4.6v4.6H320z" fill="#fcaf92"/>
<path d="M324 112h4.6v4.6H324z" fill="#fcb396"/>
<path d="M328 112h4.6v4.6H328z" fill="#fcb69a"/>
<path d="M332 112h4.6v4.6H332z" fill="#fcbda3"/>
<path d="M336 112h4.6v4.6H336z" fill="#fdc7b1"/>
<path d="M340 112h4.6v4.6H340z" fill="#fdcdb9"/>
<path d="M344 112h4.6v4.6H344z" fill="#fed6c5"/>
<path d="M348 112h4.6v4.6H348z" fill="#fcdccf"/>
<path d="M352 112h4.6v4.6H352z" fill="#f9e1d7"/>
<path d="M356 112h4.6v4.6H356z" fill="#f3e4df"/>
<path d="M360 112h4.6v4.6H360z" fill="#ede6e8"/>
<path d="M364 112h4.6v4.6H364z" fill="#e9e8ee"/>
<path d="M368 112h4.6v4.6H368z" fill="#e5e8ef"/>
<path d="M372 112h48.6v4.6H372z" fill="#e4e8f0"/>
<path d="M260 116h8.6v4.6H260z" fill="#f9e1d7"/>
<path d="M268 116h4.6v4.6H268z" fill="#fae0d4"/>
<path d="M272 116h4.6v4.6H272z" fill="#fed9c9"/>
<path d="M276 116h4.6v4.6H276z" fill="#fdd0bd"/>
<path d="M280 116h4.6v4.6H280z" fill="#fdc7b1"/>
<path d="M284 116h4.6v4.6H284z" fill="#fdc0a8"/>
<path d="M288 116h4.6v4.6H288z" fill="#fcba9f"/>
<path d="M292 116h4.6v4.6H292z" fill="#fcb396"/>
<path d="M296 116h4.6v4.6H296z" fill="#fcaf92"/>
<path d="M300 116h8.6v4.6H300z" fill="#fbac8e"/>
<path d="M308 116h4.6v4.6H308z" fill="#fba88a"/>
<path d="M312 116h12.6v4.6H312z" fill="#fbac8e"/>
<path d="M324 116h4.6v4.6H324z" fill="#fcb396"/>
<path d="M328 116h4.6v4.6H328z" fill="#fcb69a"/>
<path d="M332 116h4.6v4.6H332z" fill="#fcbda3"/>
<path d="M336 116h4.6v4.6H336z" fill="#fdc4ac"/>
<path d="M340 116h4.6v4.6H340z" fill="#fdcdb9"/>
<path d="M344 116h4.6v4.6H344z" fill="#fed6c5"/>
<path d="M348 116h4.6v4.6H348z" fill="#fcdccf"/>
<path d="M352 116h4.6v4.6H352z" fill="#f7e2d9"/>
<path d="M356 116h4.6v4.6H356z" fill="#f1e5e1"/>
<path d="M360 116h4.6v4.6H360z" fill="#ebe7eb"/>
<path d="M364 116h4.6v4.6H364z" fill="#e7e8ef"/>
<path d="M368 116h4.6v4.6H368z" fill="#e5e8ef"/>
<path d="M372 116h48.6v4.6H372z" fill="#e4e8f0"/>
<path d="M260 120h8.6v4.6H260z" fill="#f7e2d9"/>
<path d="M268 120h4.6v4.6H268z" fill="#f9e1d7"/>
<path d="M272 120h4.6v4.6H272z" fill="#fddbcc"/>
<path d="M276 120h4.6v4.6H276z" fill="#fdd0bd"/>
<path d="M280 120h4.6v4.6H280z" fill="#fdc7b1"/>
<path d="M284 120h4.6v4.6H284z" fill="#fdc0a8"/>
<path d="M288 120h4.6v4.6H288z" fill="#fcba9f"/>
<path d="M292 120h4.6v4.6H292z" fill="#fcb69a"/>
<path d="M296 120h8.6v4.6H296z" fill="#fcaf92"/>
<path d="M304 120h16.6v4.6H304z" fill="#fbac8e"/>
<path d="M320 120h4.6v4.6H320z" fill="#fcaf92"/>
<path d="M324 120h4.6v4.6H324z" fill="#fcb396"/>
<path d="M328 120h4.6v4.6H328z" fill="#fcb69a"/>
<path d="M332 120h4.6v4.6H332z" fill="#fcbda3"/>
<path d="M336 120h4.6v4.6H336z" fill="#fdc7b1"/>
<path d="M340 120h4.6v4.6H340z" fill="#fdd0bd"/>
<path d="M344 120h4.6v4.6H344z" fill="#fed9c9"/>
<path d="M348 120h4.6v4.6H348z" fill="#fbded2"/>
<path d="M352 120h4.6v4.6H352z" fill="#f5e3dc"/>
<path d="M356 120h4.6v4.6H356z" fill="#efe6e4"/>
<path d="M360 120h4.6v4.6H360z" fill="#e9e8ee"/>
<path d="M364 120h4.6v4.6H364z" fill="#e5e8ef"/>
<path d="M368 120h8.6v4.6H368z" fill="#e4e8f0"/>
<path d="M376 120h32.6v4.6H376z" fill="#e2e8f0"/>
<path d="M408 120h12.6v4.6H408z" fill="#e4e8f0"/>
<path d="M260 124h8.6v4.6H260z" fill="#f5e3dc"/>
<path d="M268 124h4.6v4.6H268z" fill="#f7e2d9"/>
<path d="M272 124h4.6v4.6H272z" fill="#fcdccf"/>
<path d="M276 124h4.6v4.6H276z" fill="#fed3c1"/>
<path d="M280 124h4.6v4.6H280z" fill="#fdcab5"/>
<path d="M284 124h4.6v4.6H284z" fill="#fdc4ac"/>
<path d="M288 124h4.6v4.6H288z" fill="#fcbda3"/>
<path d="M292 124h4.6v4.6H292z" fill="#fcb69a"/>
<path d="M296 124h4.6v4.6H296z" fill="#fcb396"/>
<path d="M300 124h8.6v4.6H300z" fill="#fcaf92"/>
<path d="M308 124h8.6v4.6H308z" fill="#fbac8e"/>
<path d="M316 124h8.6v4.6H316z" fill="#fcaf92"/>
<path d="M324 124h4.6v4.6H324z" fill="#fcb396"/>
<path d="M328 124h4.6v4.6H328z" fill="#fcba9f"/>
<path d="M332 124h4.6v4.6H332z" fill="#fdc0a8"/>
<path d="M336 124h4.6v4.6H336z" fill="#fdcab5"/>
<path d="M340 124h4.6v4.6H340z" fill="#fed3c1"/>
<path d="M344 124h4.6v4.6H344z" fill="#fddbcc"/>
<path d="M348 124h4.6v4.6H348z" fill="#f9e1d7"/>
<path d="M352 124h4.6v4.6H352z" fill="#f1e5e1"/>
<path d="M356 124h4.6v4.6H356z" fill="#e9e8ee"/>
<path d="M360 124h4.6v4.6H360z" fill="#e5e8ef"/>
<path d="M364 124h4.6v4.6H364z" fill="#e4e8f0"/>
<path d="M368 124h8.6v4.6H368z" fill="#e2e8f0"/>
<path d="M376 124h24.6v4.6H376z" fill="#e0e8f1"/>
<path d="M400 124h20.6v4.6H400z" fill="#e2e8f0"/>
<path d="M260 128h8.6v4.6H260z" fill="#f1e5e1"/>
<path d="M268 128h4.6v4.6H268z" fill="#f3e4df"/>
<path d="M272 128h4.6v4.6H272z" fill="#fbded2"/>
<path d="M276 128h4.6v4.6H276z" fill="#fed6c5"/>
<path d="M280 128h4.6v4.6H280z" fill="#fdcdb9"/>
<path d="M284 128h4.6v4.6H284z" fill="#fdc4ac"/>
<path d="M288 128h4.6v4.6H288z" fill="#fcbda3"/>
<path d="M292 128h4.6v4.6H292z" fill="#fcba9f"/>
<path d="M296 128h4.6v4.6H296z" fill="#fcb396"/>
<path d="M300 128h20.6v4.6H300z" fill="#fcaf92"/>
<path d="M320 128h4.6v4.6H320z" fill="#fcb396"/>
<path d="M324 128h4.6v4.6H324z" fill="#fcb69a"/>
<path d="M328 128h4.6v4.6H328z" fill="#fcbda3"/>
<path d="M332 128h4.6v4.6H332z" fill="#fdc4ac"/>
<path d="M336 128h4.6v4.6H336z" fill="#fdcdb9"/>
<path d="M340 128h4.6v4.6H340z" fill="#fed6c5"/>
<path d="M344 128h4.6v4.6H344z" fill="#fbded2"/>
<path d="M348 128h4.6v4.6H348z" fill="#f3e4df"/>
<path d="M352 128h4.6v4.6H352z" fill="#ebe7eb"/>
<path d="M356 128h4.6v4.6H356z" fill="#e5e8ef"/>
<path d="M360 128h4.6v4.6H360z" fill="#e2e8f0"/>
<path d="M364 128h4.6v4.6H364z" fill="#e0e8f1"/>
<path d="M368 128h36.6v4.6H368z" fill="#dce6f0"/>
<path d="M404 128h16.6v4.6H404z" fill="#e0e8f1"/>
<path d="M260 132h8.6v4.6H260z" fill="#efe6e4"/>
<path d="M268 132h4.6v4.6H268z" fill="#f1e5e1"/>
<path d="M272 132h4.6v4.6H272z" fill="#f7e2d9"/>
<path d="M276 132h4.6v4.6H276z" fill="#fddbcc"/>
<path d="M280 132h4.6v4.6H280z" fill="#fed3c1"/>
<path d="M284 132h4.6v4.6H284z" fill="#fdcab5"/>
<path d="M288 132h4.6v4.6H288z" fill="#fdc0a8"/>
<path d="M292 132h4.6v4.6H292z" fill="#fcba9f"/>
<path d="M296 132h4.6v4.6H296z" fill="#fcb69a"/>
<path d="M300 132h8.6v4.6H300z" fill="#fcb396"/>
<path d="M308 132h4.6v4.6H308z" fill="#fcaf92"/>
<path d="M312 132h8.6v4.6H312z" fill="#fcb396"/>
<path d="M320 132h4.6v4.6H320z" fill="#fcb69a"/>
<path d="M324 132h4.6v4.6H324z" fill="#fcba9f"/>
<path d="M328 132h4.6v4.6H328z" fill="#fdc0a8"/>
<path d="M332 132h4.6v4.6H332z" fill="#fdcab5"/>
<path d="M336 132h4.6v4.6H336z" fill="#fed3c1"/>
<path d="M340 132h4.6v4.6H340z" fill="#fcdccf"/>
<path d="M344 132h4.6v4.6H344z" fill="#f5e3dc"/>
<path d="M348 132h4.6v4.6H348z" fill="#ede6e8"/>
<path d="M352 132h4.6v4.6H352z" fill="#e5e8ef"/>
<path d="M356 132h4.6v4.6H356z" fill="#e2e8f0"/>
<path d="M360 132h4.6v4.6H360z" fill="#dce6f0"/>
<path d="M364 132h8.6v4.6H364z" fill="#d7e4ef"/>
<path d="M372 132h28.6v4.6H372z" fill="#d3e2ee"/>
<path d="M400 132h8.6v4.6H400z" fill="#d7e4ef"/>
<path d="M408 132h12.6v4.6H408z" fill="#dce6f0"/>
<path d="M260 136h12.6v4.6H260z" fill="#ede6e8"/>
<path d="M272 136h4.6v4.6H272z" fill="#f3e4df"/>
<path d="M276 136h4.6v4.6H276z" fill="#fae0d4"/>
<path d="M280 136h4.6v4.6H280z" fill="#fed9c9"/>
<path d="M284 136h4.6v4.6H284z" fill="#fdd0bd"/>
<path d="M288 136h4.6v4.6H288z" fill="#fdc7b1"/>
<path d="M292 136h4.6v4.6H292z" fill="#fdc0a8"/>
<path d="M296 136h4.6v4.6H296z" fill="#fcba9f"/>
<path d="M300 136h8.6v4.6H300z" fill="#fcb69a"/>
<path d="M308 136h4.6v4.6H308z" fill="#fcb396"/>
<path d="M312 136h8.6v4.6H312z" fill="#fcb69a"/>
<path d="M320 136h4.6v4.6H320z" fill="#fcba9f"/>
<path d="M324 136h4.6v4.6H324z" fill="#fdc0a8"/>
<path d="M328 136h4.6v4.6H328z" fill="#fdc7b1"/>
<path d="M332 136h4.6v4.6H332z" fill="#fdd0bd"/>
<path d="M336 136h4.6v4.6H336z" fill="#fddbcc"/>
<path d="M340 136h4.6v4.6H340z" fill="#f7e2d9"/>
<path d="M344 136h4.6v4.6H344z" fill="#efe6e4"/>
<path d="M348 136h4.6v4.6H348z" fill="#e7e8ef"/>
<path d="M352 136h4.6v4.6H352z" fill="#e2e8f0"/>
<path d="M356 136h4.6v4.6H356z" fill="#dce6f0"/>
<path d="M360 136h4.6v4.6H360z" fill="#d7e4ef"/>
<path d="M364 136h8.6v4.6H364z" fill="#cee0ed"/>
<path d="M372 136h8.6v4.6H372z" fill="#cadeec"/>
<path d="M380 136h8.6v4.6H380z" fill="#c6dceb"/>
<path d="M388 136h8.6v4.6H388z" fill="#cadeec"/>
<path d="M396 136h8.6v4.6H396z" fill="#cee0ed"/>
<path d="M404 136h4.6v4.6H404z" fill="#d3e2ee"/>
<path d="M408 136h12.6v4.6H408z" fill="#d7e4ef"/>
<path d="M260 140h8.6v4.6H260z" fill="#ebe7eb"/>
<path d="M268 140h4.6v4.6H268z" fill="#ede6e8"/>
<path d="M272 140h4.6v4.6H272z" fill="#f1e5e1"/>
<path d="M276 140h4.6v4.6H276z" fill="#f7e2d9"/>
<path d="M280 140h4.6v4.6H280z" fill="#fbded2"/>
<path d="M284 140h4.6v4.6H284z" fill="#fed9c9"/>
<path d="M288 140h4.6v4.6H288z" fill="#fdd0bd"/>
<path d="M292 140h4.6v4.6H292z" fill="#fdcab5"/>
<path d="M296 140h4.6v4.6H296z" fill="#fdc4ac"/>
<path d="M300 140h4.6v4.6H300z" fill="#fcbda3"/>
<path d="M304 140h12.6v4.6H304z" fill="#fcba9f"/>
<path d="M316 140h4.6v4.6H316z" fill="#fcbda3"/>
<path d="M320 140h4.6v4.6H320z" fill="#fdc0a8"/>
<path d="M324 140h4.6v4.6H324z" fill="#fdc7b1"/>
<path d="M328 140h4.6v4.6H328z" fill="#fdd0bd"/>
<path d="M332 140h4.6v4.6H332z" fill="#fddbcc"/>
<path d="M336 140h4.6v4.6H336z" fill="#f9e1d7"/>
<path d="M340 140h4.6v4.6H340z" fill="#f1e5e1"/>
<path d="M344 140h4.6v4.6H344z" fill="#e9e8ee"/>
<path d="M348 140h4.6v4.6H348z" fill="#e4e8f0"/>
<path d="M352 140h4.6v4.6H352z" fill="#dce6f0"/>
<path d="M356 140h4.6v4.6H356z" fill="#d3e2ee"/>
<path d="M360 140h4.6v4.6H360z" fill="#cee0ed"/>
<path d="M364 140h4.6v4.6H364z" fill="#c6dceb"/>
<path d="M368 140h4.6v4.6H368z" fill="#bdd8e9"/>
<path d="M372 140h4.6v4.6H372z" fill="#b9d6e8"/>
<path d="M376 140h16.6v4.6H376z" fill="#b4d4e7"/>
<path d="M392 140h4.6v4.6H392z" fill="#b9d6e8"/>
<path d="M396 140h4.6v4.6H396z" fill="#bdd8e9"/>
<path d="M400 140h4.6v4.6H400z" fill="#c1daea"/>
<path d="M404 140h4.6v4.6H404z" fill="#c6dceb"/>
<path d="M408 140h12.6v4.6H408z" fill="#cee0ed"/>
<path d="M260 144h8.6v4.6H260z" fill="#ebe7eb"/>
<path d="M268 144h4.6v4.6H268z" fill="#ede6e8"/>
<path d="M272 144h4.6v4.6H272z" fill="#efe6e4"/>
<path d="M276 144h4.6v4.6H276z" fill="#f3e4df"/>
<path d="M280 144h4.6v4.6H280z" fill="#f7e2d9"/>
<path d="M284 144h4.6v4.6H284z" fill="#fae0d4"/>
<path d="M288 144h4.6v4.6H288z" fill="#fddbcc"/>
<path d="M292 144h4.6v4.6H292z" fill="#fed6c5"/>
<path d="M296 144h4.6v4.6H296z" fill="#fdcdb9"/>
<path d="M300 144h4.6v4.6H300z" fill="#fdcab5"/>
<path d="M304 144h4.6v4.6H304z" fill="#fdc7b1"/>
<path d="M308 144h4.6v4.6H308z" fill="#fdc4ac"/>
<path d="M312 144h8.6v4.6H312z" fill="#fdc7b1"/>
<path d="M320 144h4.6v4.6H320z" fill="#fdcdb9"/>
<path d="M324 144h4.6v4.6H324z" fill="#fed3c1"/>
<path d="M328 144h4.6v4.6H328z" fill="#fddbcc"/>
<path d="M332 144h4.6v4.6H332z" fill="#f9e1d7"/>
<path d="M336 144h4.6v4.6H336z" fill="#f3e4df"/>
<path d="M340 144h4.6v4.6H340z" fill="#ebe7eb"/>
<path d="M344 144h4.6v4.6H344z" fill="#e5e8ef"/>
<path d="M348 144h4.6v4.6H348z" fill="#e2e8f0"/>
<path d="M352 144h4.6v4.6H352z" fill="#d7e4ef"/>
<path d="M356 144h4.6v4.6H356z" fill="#cee0ed"/>
<path d="M360 144h4.6v4.6H360z" fill="#c1daea"/>
<path d="M364 144h4.6v4.6H364z" fill="#b9d6e8"/>
<path d="M368 144h4.6v4.6H368z" fill="#acd0e5"/>
<path d="M372 144h4.6v4.6H372z" fill="#a3cce3"/>
<path d="M376 144h4.6v4.6H376z" fill="#99c5e0"/>
<path d="M380 144h4.6v4.6H380z" fill="#92c1de"/>
<path d="M384 144h4.6v4.6H384z" fill="#8cbcdc"/>
<path d="M388 144h4.6v4.6H388z" fill="#92c1de"/>
<path d="M392 144h4.6v4.6H392z" fill="#99c5e0"/>
<path d="M396 144h4.6v4.6H396z" fill="#a3cce3"/>
<path d="M400 144h4.6v4.6H400z" fill="#b0d2e6"/>
<path d="M404 144h4.6v4.6H404z" fill="#b9d6e8"/>
<path d="M408 144h4.6v4.6H408z" fill="#c1daea"/>
<path d="M412 144h8.6v4.6H412z" fill="#c6dceb"/>
<path d="M260 148h12.6v4.6H260z" fill="#ebe7eb"/>
<path d="M272 148h4.6v4.6H272z" fill="#efe6e4"/>
<path d="M276 148h4.6v4.6H276z" fill="#f1e5e1"/>
<path d="M280 148h4.6v4.6H280z" fill="#f5e3dc"/>
<path d="M284 148h4.6v4.6H284z" fill="#f7e2d9"/>
<path d="M288 148h4.6v4.6H288z" fill="#f9e1d7"/>
<path d="M292 148h4.6v4.6H292z" fill="#fbded2"/>
<path d="M296 148h4.6v4.6H296z" fill="#fddbcc"/>
<path d="M300 148h4.6v4.6H300z" fill="#fed6c5"/>
<path d="M304 148h12.6v4.6H304z" fill="#fed3c1"/>
<path d="M316 148h4.6v4.6H316z" fill="#fed6c5"/>
<path d="M320 148h4.6v4.6H320z" fill="#fed9c9"/>
<path d="M324 148h4.6v4.6H324z" fill="#fcdccf"/>
<path d="M328 148h4.6v4.6H328z" fill="#f9e1d7"/>
<path d="M332 148h4.6v4.6H332z" fill="#f3e4df"/>
<path d="M336 148h4.6v4.6H336z" fill="#efe6e4"/>
<path d="M340 148h4.6v4.6H340z" fill="#e9e8ee"/>
<path d="M344 148h4.6v4.6H344z" fill="#e5e8ef"/>
<path d="M348 148h4.6v4.6H348z" fill="#e2e8f0"/>
<path d="M352 148h4.6v4.6H352z" fill="#dce6f0"/>
<path d="M356 148h4.6v4.6H356z" fill="#d3e2ee"/>
<path d="M360 148h4.6v4.6H360z" fill="#cadeec"/>
<path d="M364 148h4.6v4.6H364z" fill="#c1daea"/>
<path d="M368 148h4.6v4.6H368z" fill="#b9d6e8"/>
<path d="M372 148h4.6v4.6H372z" fill="#b0d2e6"/>
<path d="M376 148h4.6v4.6H376z" fill="#a8cee4"/>
<path d="M380 148h12.6v4.6H380z" fill="#a3cce3"/>
<path d="M392 148h4.6v4.6H392z" fill="#a8cee4"/>
<path d="M396 148h4.6v4.6H396z" fill="#b0d2e6"/>
<path d="M400 148h4.6v4.6H400z" fill="#b9d6e8"/>
<path d="M404 148h4.6v4.6H404z" fill="#c1daea"/>
<path d="M408 148h12.6v4.6H408z" fill="#cadeec"/>
<path d="M260 152h12.6v4.6H260z" fill="#ebe7eb"/>
<path d="M272 152h4.6v4.6H272z" fill="#ede6e8"/>
<path d="M276 152h8.6v4.6H276z" fill="#f1e5e1"/>
<path d="M284 152h4.6v4.6H284z" fill="#f3e4df"/>
<path d="M288 152h4.6v4.6H288z" fill="#f5e3dc"/>
<path d="M292 152h4.6v4.6H292z" fill="#f7e2d9"/>
<path d="M296 152h4.6v4.6H296z" fill="#f9e1d7"/>
<path d="M300 152h4.6v4.6H300z" fill="#fae0d4"/>
<path d="M304 152h12.6v4.6H304z" fill="#fbded2"/>
<path d="M316 152h4.6v4.6H316z" fill="#fae0d4"/>
<path d="M320 152h4.6v4.6H320z" fill="#f9e1d7"/>
<path d="M324 152h4.6v4.6H324z" fill="#f7e2d9"/>
<path d="M328 152h4.6v4.6H328z" fill="#f3e4df"/>
<path d="M332 152h4.6v4.6H332z" fill="#efe6e4"/>
<path d="M336 152h4.6v4.6H336z" fill="#ede6e8"/>
<path d="M340 152h4.6v4.6H340z" fill="#e7e8ef"/>
<path d="M344 152h4.6v4.6H344z" fill="#e4e8f0"/>
<path d="M348 152h4.6v4.6H348z" fill="#e2e8f0"/>
<path d="M352 152h4.6v4.6H352z" fill="#e0e8f1"/>
<path d="M356 152h4.6v4.6H356z" fill="#d7e4ef"/>
<path d="M360 152h4.6v4.6H360z" fill="#d3e2ee"/>
<path d="M364 152h4.6v4.6H364z" fill="#cee0ed"/>
<path d="M368 152h8.6v4.6H368z" fill="#cadeec"/>
<path d="M376 152h20.6v4.6H376z" fill="#c6dceb"/>
<path d="M396 152h4.6v4.6H396z" fill="#cadeec"/>
<path d="M400 152h8.6v4.6H400z" fill="#cee0ed"/>
<path d="M408 152h12.6v4.6H408z" fill="#d3e2ee"/>
<path d="M260 156h12.6v4.6H260z" fill="#e9e8ee"/>
<path d="M272 156h4.6v4.6H272z" fill="#ede6e8"/>
<path d="M276 156h4.6v4.6H276z" fill="#efe6e4"/>
<path d="M280 156h12.6v4.6H280z" fill="#f1e5e1"/>
<path d="M292 156h8.6v4.6H292z" fill="#f3e4df"/>
<path d="M300 156h8.6v4.6H300z" fill="#f5e3dc"/>
<path d="M308 156h4.6v4.6H308z" fill="#f7e2d9"/>
<path d="M312 156h8.6v4.6H312z" fill="#f5e3dc"/>
<path d="M320 156h4.6v4.6H320z" fill="#f3e4df"/>
<path d="M324 156h4.6v4.6H324z" fill="#f1e5e1"/>
<path d="M328 156h4.6v4.6H328z" fill="#efe6e4"/>
<path d="M332 156h4.6v4.6H332z" fill="#ede6e8"/>
<path d="M336 156h4.6v4.6H336z" fill="#ebe7eb"/>
<path d="M340 156h4.6v4.6H340z" fill="#e5e8ef"/>
<path d="M344 156h4.6v4.6H344z" fill="#e4e8f0"/>
<path d="M348 156h4.6v4.6H348z" fill="#e0e8f1"/>
<path d="M352 156h4.6v4.6H352z" fill="#dce6f0"/>
<path d="M356 156h8.6v4.6H356z" fill="#d7e4ef"/>
<path d="M364 156h8.6v4.6H364z" fill="#d3e2ee"/>
<path d="M372 156h32.6v4.6H372z" fill="#cee0ed"/>
<path d="M404 156h16.6v4.6H404z" fill="#d3e2ee"/>
<path d="M260 160h12.6v4.6H260z" fill="#e9e8ee"/>
<path d="M272 160h4.6v4.6H272z" fill="#ede6e8"/>
<path d="M276 160h8.6v4.6H276z" fill="#efe6e4"/>
<path d="M284 160h8.6v4.6H284z" fill="#f1e5e1"/>
<path d="M292 160h8.6v4.6H292z" fill="#f3e4df"/>
<path d="M300 160h16.6v4.6H300z" fill="#f5e3dc"/>
<path d="M316 160h8.6v4.6H316z" fill="#f3e4df"/>
<path d="M324 160h4.6v4.6H324z" fill="#f1e5e1"/>
<path d="M328 160h4.6v4.6H328z" fill="#efe6e4"/>
<path d="M332 160h4.6v4.6H332z" fill="#ede6e8"/>
<path d="M336 160h4.6v4.6H336z" fill="#ebe7eb"/>
<path d="M340 160h4.6v4.6H340z" fill="#e5e8ef"/>
<path d="M344 160h4.6v4.6H344z" fill="#e2e8f0"/>
<path d="M348 160h4.6v4.6H348z" fill="#e0e8f1"/>
<path d="M352 160h4.6v4.6H352z" fill="#dce6f0"/>
<path d="M356 160h8.6v4.6H356z" fill="#d7e4ef"/>
<path d="M364 160h8.6v4.6H364z" fill="#d3e2ee"/>
<path d="M372 160h32.6v4.6H372z" fill="#cee0ed"/>
<path d="M404 160h16.6v4.6H404z" fill="#d3e2ee"/>
<path d="M260 164h12.6v4.6H260z" fill="#e9e8ee"/>
<path d="M272 164h4.6v4.6H272z" fill="#ede6e8"/>
<path d="M276 164h8.6v4.6H276z" fill="#efe6e4"/>
<path d="M284 164h8.6v4.6H284z" fill="#f1e5e1"/>
<path d="M292 164h8.6v4.6H292z" fill="#f3e4df"/>
<path d="M300 164h16.6v4.6H300z" fill="#f5e3dc"/>
<path d="M316 164h8.6v4.6H316z" fill="#f3e4df"/>
<path d="M324 164h4.6v4.6H324z" fill="#f1e5e1"/>
<path d="M328 164h4.6v4.6H328z" fill="#efe6e4"/>
<path d="M332 164h4.6v4.6H332z" fill="#ede6e8"/>
<path d="M336 164h4.6v4.6H336z" fill="#ebe7eb"/>
<path d="M340 164h4.6v4.6H340z" fill="#e5e8ef"/>
<path d="M344 164h4.6v4.6H344z" fill="#e2e8f0"/>
<path d="M348 164h4.6v4.6H348z" fill="#e0e8f1"/>
<path d="M352 164h4.6v4.6H352z" fill="#dce6f0"/>
<path d="M356 164h8.6v4.6H356z" fill="#d7e4ef"/>
<path d="M364 164h8.6v4.6H364z" fill="#d3e2ee"/>
<path d="M372 164h32.6v4.6H372z" fill="#cee0ed"/>
<path d="M404 164h16.6v4.6H404z" fill="#d3e2ee"/>
</g>
<path d="M340,155.5 L370,153.6 L404,152 L404,154 L370,155.4 L340,157 Z" fill="#f2f2f2" filter="url(#bl1)"/>
<rect x="404.6" y="10" width="7" height="160" fill="#8dbbdc" filter="url(#bl1)"/>
<rect x="406.3" y="10" width="3.8" height="160" fill="#3377b8" filter="url(#bl1)"/>
<rect x="405" y="147.5" width="6" height="4" fill="#e8eef4" filter="url(#bl1)"/>
</g>
<rect x="267.50" y="15.80" width="143.80" height="143.30" fill="none" stroke="#222" stroke-width="1"/>
<line x1="281.28" y1="159.10" x2="281.28" y2="161.70" stroke="#222" stroke-width="1" />
<line x1="307.29" y1="159.10" x2="307.29" y2="161.70" stroke="#222" stroke-width="1" />
<line x1="333.29" y1="159.10" x2="333.29" y2="161.70" stroke="#222" stroke-width="1" />
<line x1="359.29" y1="159.10" x2="359.29" y2="161.70" stroke="#222" stroke-width="1" />
<line x1="385.30" y1="159.10" x2="385.30" y2="161.70" stroke="#222" stroke-width="1" />
<line x1="411.30" y1="159.10" x2="411.30" y2="161.70" stroke="#222" stroke-width="1" />
<line x1="268.28" y1="159.10" x2="268.28" y2="160.70" stroke="#222" stroke-width="1" />
<line x1="294.28" y1="159.10" x2="294.28" y2="160.70" stroke="#222" stroke-width="1" />
<line x1="320.29" y1="159.10" x2="320.29" y2="160.70" stroke="#222" stroke-width="1" />
<line x1="346.29" y1="159.10" x2="346.29" y2="160.70" stroke="#222" stroke-width="1" />
<line x1="372.29" y1="159.10" x2="372.29" y2="160.70" stroke="#222" stroke-width="1" />
<line x1="398.30" y1="159.10" x2="398.30" y2="160.70" stroke="#222" stroke-width="1" />
<text x="281.28" y="172.20" text-anchor="middle" style="font-size:9.5px;font-weight:bold;fill:#111;" >550</text>
<text x="307.29" y="172.20" text-anchor="middle" style="font-size:9.5px;font-weight:bold;fill:#111;" >600</text>
<text x="333.29" y="172.20" text-anchor="middle" style="font-size:9.5px;font-weight:bold;fill:#111;" >650</text>
<text x="359.29" y="172.20" text-anchor="middle" style="font-size:9.5px;font-weight:bold;fill:#111;" >700</text>
<text x="385.30" y="172.20" text-anchor="middle" style="font-size:9.5px;font-weight:bold;fill:#111;" >750</text>
<text x="411.30" y="172.20" text-anchor="middle" style="font-size:9.5px;font-weight:bold;fill:#111;" >800</text>
<line x1="267.50" y1="159.10" x2="264.90" y2="159.10" stroke="#222" stroke-width="1" />
<text x="262.30" y="163.20" text-anchor="end" style="font-size:10px;font-weight:bold;fill:#111">10<tspan dy="-4.1" font-size="7">0</tspan></text>
<line x1="267.50" y1="111.33" x2="264.90" y2="111.33" stroke="#222" stroke-width="1" />
<text x="262.30" y="115.43" text-anchor="end" style="font-size:10px;font-weight:bold;fill:#111">10<tspan dy="-4.1" font-size="7">1</tspan></text>
<line x1="267.50" y1="63.57" x2="264.90" y2="63.57" stroke="#222" stroke-width="1" />
<text x="262.30" y="67.67" text-anchor="end" style="font-size:10px;font-weight:bold;fill:#111">10<tspan dy="-4.1" font-size="7">2</tspan></text>
<line x1="267.50" y1="15.80" x2="264.90" y2="15.80" stroke="#222" stroke-width="1" />
<text x="262.30" y="19.90" text-anchor="end" style="font-size:10px;font-weight:bold;fill:#111">10<tspan dy="-4.1" font-size="7">3</tspan></text>
<text x="233.50" y="13.10" text-anchor="start" style="font-size:17.5px;font-weight:bold;fill:#111;" >b</text>
<text x="339.40" y="184.80" text-anchor="middle" style="font-size:11.6px;font-weight:bold;fill:#111;" >Wavelength (nm)</text>
<text transform="translate(243.80,87.40) rotate(-90)" text-anchor="middle" style="font-size:11.6px;font-weight:bold;fill:#111;" >Delay Time (ps)</text>
<defs><linearGradient id="cbB" x1="0" y1="0" x2="0" y2="1"><stop offset="0.00" stop-color="#6a001f"/><stop offset="0.05" stop-color="#9a0a20"/><stop offset="0.13" stop-color="#c81e26"/><stop offset="0.20" stop-color="#e0402e"/><stop offset="0.27" stop-color="#f06444"/><stop offset="0.34" stop-color="#f59070"/><stop offset="0.41" stop-color="#f9bea6"/><stop offset="0.45" stop-color="#fbd6c6"/><stop offset="0.50" stop-color="#f2ecea"/><stop offset="0.55" stop-color="#dde8f2"/><stop offset="0.60" stop-color="#cde1ef"/><stop offset="0.67" stop-color="#a8cde4"/><stop offset="0.73" stop-color="#86b9da"/><stop offset="0.80" stop-color="#5a9ccb"/><stop offset="0.87" stop-color="#3a80bb"/><stop offset="0.93" stop-color="#2060a0"/><stop offset="1.00" stop-color="#08306b"/></linearGradient></defs>
<rect x="424.1" y="15.8" width="6.899999999999977" height="143.29999999999998" fill="url(#cbB)"/>
<line x1="431.00" y1="15.80" x2="433.60" y2="15.80" stroke="#222" stroke-width="1" />
<text x="437.50" y="19.20" text-anchor="start" style="font-size:9.5px;font-weight:bold;fill:#111;" >25</text>
<line x1="431.00" y1="51.62" x2="433.60" y2="51.62" stroke="#222" stroke-width="1" />
<text x="437.50" y="55.02" text-anchor="start" style="font-size:9.5px;font-weight:bold;fill:#111;" >15</text>
<line x1="431.00" y1="87.45" x2="433.60" y2="87.45" stroke="#222" stroke-width="1" />
<text x="437.50" y="90.85" text-anchor="start" style="font-size:9.5px;font-weight:bold;fill:#111;" >5</text>
<line x1="431.00" y1="123.28" x2="433.60" y2="123.28" stroke="#222" stroke-width="1" />
<text x="437.50" y="126.68" text-anchor="start" style="font-size:9.5px;font-weight:bold;fill:#111;" >−5</text>
<line x1="431.00" y1="159.10" x2="433.60" y2="159.10" stroke="#222" stroke-width="1" />
<text x="437.50" y="162.50" text-anchor="start" style="font-size:9.5px;font-weight:bold;fill:#111;" >−15</text>
<text transform="translate(422.40,88.20) rotate(-90)" text-anchor="middle" style="font-size:9.6px;font-weight:bold;fill:#111;" >ΔA (×10<tspan dy="-3.65" font-size="6.53">-3</tspan><tspan dy="3.65">)</tspan></text>
<polyline points="537.0,36.47 539.0,36.88 541.0,37.27 543.0,37.66 545.0,38.05 547.0,38.43 549.0,38.81 551.0,39.18 553.0,39.55 555.0,39.91 557.0,40.27 559.0,40.62 561.0,40.97 563.0,41.31 565.0,41.65 567.0,41.98 569.0,42.31 571.0,42.63 573.0,42.95 575.0,43.26 577.0,43.57 579.0,43.87 581.0,44.17 583.0,44.47 585.0,44.76 587.0,45.04 589.0,45.32 591.0,45.59 593.0,45.86 595.0,46.13 597.0,46.38 599.0,46.64 601.0,46.89 603.0,47.13 605.0,47.37 607.0,47.61 609.0,47.84 611.0,48.06 613.0,48.28 615.0,48.50 617.0,48.71 619.0,48.91 621.0,49.11 623.0,49.31 625.0,49.50 627.0,49.69 629.0,49.87 631.0,50.04 633.0,50.21 635.0,50.38 637.0,50.54 639.0,50.70 641.0,50.85 643.0,51.00 645.0,51.14 647.0,51.27 649.0,51.41 651.0,51.53 653.0,51.66 655.0,51.77 657.0,51.88 659.0,51.99 661.0,52.09 663.0,52.19 665.0,52.28 667.0,52.37 669.0,52.46 671.0,52.53 673.0,52.61 674.5,52.66" fill="none" stroke="#f7a4a4" stroke-width="1.1"/>
<polyline points="537.0,52.41 539.0,52.98 541.0,53.54 543.0,54.10 545.0,54.65 547.0,55.19 549.0,55.73 551.0,56.26 553.0,56.79 555.0,57.31 557.0,57.82 559.0,58.33 561.0,58.83 563.0,59.33 565.0,59.82 567.0,60.30 569.0,60.78 571.0,61.25 573.0,61.72 575.0,62.18 577.0,62.63 579.0,63.08 581.0,63.52 583.0,63.96 585.0,64.39 587.0,64.82 589.0,65.24 591.0,65.65 593.0,66.06 595.0,66.46 597.0,66.86 599.0,67.25 601.0,67.63 603.0,68.01 605.0,68.38 607.0,68.75 609.0,69.11 611.0,69.46 613.0,69.81 615.0,70.15 617.0,70.49 619.0,70.82 621.0,71.14 623.0,71.46 625.0,71.77 627.0,72.08 629.0,72.38 631.0,72.68 633.0,72.97 635.0,73.25 637.0,73.53 639.0,73.80 641.0,74.07 643.0,74.32 645.0,74.58 647.0,74.83 649.0,75.07 651.0,75.30 653.0,75.53 655.0,75.76 657.0,75.98 659.0,76.19 661.0,76.40 663.0,76.60 665.0,76.79 667.0,76.98 669.0,77.16 671.0,77.34 673.0,77.51 674.5,77.64" fill="none" stroke="#f03a3a" stroke-width="1.2"/>
<circle cx="489.60" cy="158.00" r="1.8" fill="url(#gL)"/>
<circle cx="489.60" cy="135.50" r="1.8" fill="url(#gL)"/>
<circle cx="489.60" cy="87.00" r="1.8" fill="url(#gL)"/>
<circle cx="489.60" cy="73.00" r="1.8" fill="url(#gL)"/>
<circle cx="489.60" cy="56.00" r="1.8" fill="url(#gL)"/>
<circle cx="489.60" cy="42.00" r="1.8" fill="url(#gL)"/>
<circle cx="489.60" cy="32.00" r="1.8" fill="url(#gL)"/>
<circle cx="490.20" cy="42.86" r="1.8" fill="url(#gL)"/>
<circle cx="491.40" cy="28.39" r="1.8" fill="url(#gL)"/>
<circle cx="492.60" cy="26.23" r="1.8" fill="url(#gL)"/>
<circle cx="493.80" cy="24.22" r="1.8" fill="url(#gL)"/>
<circle cx="495.00" cy="22.48" r="1.8" fill="url(#gL)"/>
<circle cx="496.20" cy="20.74" r="1.8" fill="url(#gL)"/>
<circle cx="497.40" cy="22.13" r="1.8" fill="url(#gL)"/>
<circle cx="499.60" cy="26.47" r="1.8" fill="url(#gL)"/>
<circle cx="501.80" cy="27.90" r="1.8" fill="url(#gL)"/>
<circle cx="504.00" cy="27.42" r="1.8" fill="url(#gL)"/>
<circle cx="506.20" cy="26.94" r="1.8" fill="url(#gL)"/>
<circle cx="508.40" cy="26.46" r="1.8" fill="url(#gL)"/>
<circle cx="510.60" cy="27.86" r="1.8" fill="url(#gL)"/>
<circle cx="512.80" cy="28.93" r="1.8" fill="url(#gL)"/>
<circle cx="515.00" cy="29.39" r="1.8" fill="url(#gL)"/>
<circle cx="517.20" cy="30.50" r="1.8" fill="url(#gL)"/>
<circle cx="519.40" cy="31.79" r="1.8" fill="url(#gL)"/>
<circle cx="521.60" cy="32.53" r="1.8" fill="url(#gL)"/>
<circle cx="523.80" cy="33.00" r="1.8" fill="url(#gL)"/>
<circle cx="526.00" cy="33.65" r="1.8" fill="url(#gL)"/>
<circle cx="528.20" cy="34.42" r="1.8" fill="url(#gL)"/>
<circle cx="530.40" cy="35.64" r="1.8" fill="url(#gL)"/>
<circle cx="532.60" cy="37.13" r="1.8" fill="url(#gL)"/>
<circle cx="534.80" cy="37.34" r="1.8" fill="url(#gL)"/>
<circle cx="537.00" cy="36.08" r="1.8" fill="url(#gL)"/>
<circle cx="539.20" cy="35.86" r="1.8" fill="url(#gL)"/>
<circle cx="541.40" cy="36.47" r="1.8" fill="url(#gL)"/>
<circle cx="544.60" cy="37.86" r="1.8" fill="url(#gL)"/>
<circle cx="547.80" cy="39.75" r="1.8" fill="url(#gL)"/>
<circle cx="551.00" cy="40.56" r="1.8" fill="url(#gL)"/>
<circle cx="554.20" cy="40.87" r="1.8" fill="url(#gL)"/>
<circle cx="556.90" cy="40.80" r="1.8" fill="url(#gL)"/>
<circle cx="561.60" cy="40.20" r="1.8" fill="url(#gL)"/>
<circle cx="566.80" cy="41.40" r="1.8" fill="url(#gL)"/>
<circle cx="572.50" cy="43.60" r="1.8" fill="url(#gL)"/>
<circle cx="578.10" cy="44.20" r="1.8" fill="url(#gL)"/>
<circle cx="584.40" cy="45.00" r="1.8" fill="url(#gL)"/>
<circle cx="591.10" cy="45.20" r="1.8" fill="url(#gL)"/>
<circle cx="598.10" cy="45.90" r="1.8" fill="url(#gL)"/>
<circle cx="605.30" cy="47.80" r="1.8" fill="url(#gL)"/>
<circle cx="613.40" cy="48.40" r="1.8" fill="url(#gL)"/>
<circle cx="621.80" cy="49.00" r="1.8" fill="url(#gL)"/>
<circle cx="630.90" cy="49.30" r="1.8" fill="url(#gL)"/>
<circle cx="640.80" cy="50.70" r="1.8" fill="url(#gL)"/>
<circle cx="651.40" cy="51.20" r="1.8" fill="url(#gL)"/>
<circle cx="662.60" cy="52.80" r="1.8" fill="url(#gL)"/>
<circle cx="673.60" cy="52.80" r="1.8" fill="url(#gL)"/>
<circle cx="489.60" cy="157.00" r="1.8" fill="url(#gD)"/>
<circle cx="489.60" cy="101.00" r="1.8" fill="url(#gD)"/>
<circle cx="489.60" cy="66.00" r="1.8" fill="url(#gD)"/>
<circle cx="489.60" cy="48.00" r="1.8" fill="url(#gD)"/>
<circle cx="489.60" cy="36.00" r="1.8" fill="url(#gD)"/>
<circle cx="489.60" cy="28.00" r="1.8" fill="url(#gD)"/>
<circle cx="489.60" cy="22.00" r="1.8" fill="url(#gD)"/>
<circle cx="490.20" cy="17.67" r="1.8" fill="url(#gD)"/>
<circle cx="491.40" cy="26.89" r="1.8" fill="url(#gD)"/>
<circle cx="492.60" cy="36.25" r="1.8" fill="url(#gD)"/>
<circle cx="493.80" cy="36.74" r="1.8" fill="url(#gD)"/>
<circle cx="495.00" cy="35.68" r="1.8" fill="url(#gD)"/>
<circle cx="496.20" cy="34.35" r="1.8" fill="url(#gD)"/>
<circle cx="497.40" cy="33.50" r="1.8" fill="url(#gD)"/>
<circle cx="499.60" cy="36.76" r="1.8" fill="url(#gD)"/>
<circle cx="501.80" cy="38.60" r="1.8" fill="url(#gD)"/>
<circle cx="504.00" cy="39.24" r="1.8" fill="url(#gD)"/>
<circle cx="506.20" cy="38.92" r="1.8" fill="url(#gD)"/>
<circle cx="508.40" cy="40.28" r="1.8" fill="url(#gD)"/>
<circle cx="510.60" cy="41.63" r="1.8" fill="url(#gD)"/>
<circle cx="512.80" cy="42.96" r="1.8" fill="url(#gD)"/>
<circle cx="515.00" cy="44.26" r="1.8" fill="url(#gD)"/>
<circle cx="517.20" cy="45.54" r="1.8" fill="url(#gD)"/>
<circle cx="519.40" cy="46.41" r="1.8" fill="url(#gD)"/>
<circle cx="521.60" cy="47.28" r="1.8" fill="url(#gD)"/>
<circle cx="523.80" cy="48.14" r="1.8" fill="url(#gD)"/>
<circle cx="526.00" cy="48.88" r="1.8" fill="url(#gD)"/>
<circle cx="528.20" cy="49.51" r="1.8" fill="url(#gD)"/>
<circle cx="530.40" cy="51.44" r="1.8" fill="url(#gD)"/>
<circle cx="532.60" cy="52.50" r="1.8" fill="url(#gD)"/>
<circle cx="534.80" cy="52.13" r="1.8" fill="url(#gD)"/>
<circle cx="537.00" cy="50.89" r="1.8" fill="url(#gD)"/>
<circle cx="539.20" cy="51.09" r="1.8" fill="url(#gD)"/>
<circle cx="541.40" cy="51.96" r="1.8" fill="url(#gD)"/>
<circle cx="544.60" cy="55.44" r="1.8" fill="url(#gD)"/>
<circle cx="547.80" cy="56.67" r="1.8" fill="url(#gD)"/>
<circle cx="551.00" cy="57.36" r="1.8" fill="url(#gD)"/>
<circle cx="554.20" cy="57.77" r="1.8" fill="url(#gD)"/>
<circle cx="556.90" cy="57.90" r="1.8" fill="url(#gD)"/>
<circle cx="561.60" cy="59.80" r="1.8" fill="url(#gD)"/>
<circle cx="566.80" cy="61.10" r="1.8" fill="url(#gD)"/>
<circle cx="572.50" cy="61.70" r="1.8" fill="url(#gD)"/>
<circle cx="578.10" cy="63.20" r="1.8" fill="url(#gD)"/>
<circle cx="584.40" cy="64.50" r="1.8" fill="url(#gD)"/>
<circle cx="591.10" cy="65.80" r="1.8" fill="url(#gD)"/>
<circle cx="598.10" cy="66.80" r="1.8" fill="url(#gD)"/>
<circle cx="605.30" cy="67.70" r="1.8" fill="url(#gD)"/>
<circle cx="613.40" cy="69.30" r="1.8" fill="url(#gD)"/>
<circle cx="621.80" cy="70.80" r="1.8" fill="url(#gD)"/>
<circle cx="630.90" cy="72.50" r="1.8" fill="url(#gD)"/>
<circle cx="640.80" cy="73.60" r="1.8" fill="url(#gD)"/>
<circle cx="651.40" cy="75.30" r="1.8" fill="url(#gD)"/>
<circle cx="662.60" cy="76.50" r="1.8" fill="url(#gD)"/>
<circle cx="673.60" cy="78.40" r="1.8" fill="url(#gD)"/>
<rect x="488.50" y="9.40" width="186.00" height="149.80" fill="none" stroke="#222" stroke-width="1"/>
<line x1="488.50" y1="159.20" x2="488.50" y2="156.70" stroke="#222" stroke-width="1" />
<line x1="525.70" y1="159.20" x2="525.70" y2="156.70" stroke="#222" stroke-width="1" />
<line x1="562.90" y1="159.20" x2="562.90" y2="156.70" stroke="#222" stroke-width="1" />
<line x1="600.10" y1="159.20" x2="600.10" y2="156.70" stroke="#222" stroke-width="1" />
<line x1="637.30" y1="159.20" x2="637.30" y2="156.70" stroke="#222" stroke-width="1" />
<line x1="674.50" y1="159.20" x2="674.50" y2="156.70" stroke="#222" stroke-width="1" />
<line x1="507.10" y1="159.20" x2="507.10" y2="157.90" stroke="#222" stroke-width="1" />
<line x1="544.30" y1="159.20" x2="544.30" y2="157.90" stroke="#222" stroke-width="1" />
<line x1="581.50" y1="159.20" x2="581.50" y2="157.90" stroke="#222" stroke-width="1" />
<line x1="618.70" y1="159.20" x2="618.70" y2="157.90" stroke="#222" stroke-width="1" />
<line x1="655.90" y1="159.20" x2="655.90" y2="157.90" stroke="#222" stroke-width="1" />
<text x="488.50" y="170.10" text-anchor="middle" style="font-size:9.5px;font-weight:bold;fill:#111;" >0</text>
<text x="525.70" y="170.10" text-anchor="middle" style="font-size:9.5px;font-weight:bold;fill:#111;" >200</text>
<text x="562.90" y="170.10" text-anchor="middle" style="font-size:9.5px;font-weight:bold;fill:#111;" >400</text>
<text x="600.10" y="170.10" text-anchor="middle" style="font-size:9.5px;font-weight:bold;fill:#111;" >600</text>
<text x="637.30" y="170.10" text-anchor="middle" style="font-size:9.5px;font-weight:bold;fill:#111;" >800</text>
<text x="674.50" y="170.10" text-anchor="middle" style="font-size:9.5px;font-weight:bold;fill:#111;" >1000</text>
<line x1="488.50" y1="158.90" x2="491.00" y2="158.90" stroke="#222" stroke-width="1" />
<line x1="488.50" y1="130.48" x2="491.00" y2="130.48" stroke="#222" stroke-width="1" />
<line x1="488.50" y1="102.06" x2="491.00" y2="102.06" stroke="#222" stroke-width="1" />
<line x1="488.50" y1="73.64" x2="491.00" y2="73.64" stroke="#222" stroke-width="1" />
<line x1="488.50" y1="45.22" x2="491.00" y2="45.22" stroke="#222" stroke-width="1" />
<line x1="488.50" y1="16.80" x2="491.00" y2="16.80" stroke="#222" stroke-width="1" />
<line x1="488.50" y1="144.69" x2="489.80" y2="144.69" stroke="#222" stroke-width="1" />
<line x1="488.50" y1="116.27" x2="489.80" y2="116.27" stroke="#222" stroke-width="1" />
<line x1="488.50" y1="87.85" x2="489.80" y2="87.85" stroke="#222" stroke-width="1" />
<line x1="488.50" y1="59.43" x2="489.80" y2="59.43" stroke="#222" stroke-width="1" />
<line x1="488.50" y1="31.01" x2="489.80" y2="31.01" stroke="#222" stroke-width="1" />
<text x="485.50" y="161.85" text-anchor="end" style="font-size:9.5px;font-weight:bold;fill:#111;" >0.0</text>
<text x="485.50" y="133.43" text-anchor="end" style="font-size:9.5px;font-weight:bold;fill:#111;" >0.2</text>
<text x="485.50" y="105.01" text-anchor="end" style="font-size:9.5px;font-weight:bold;fill:#111;" >0.4</text>
<text x="485.50" y="76.59" text-anchor="end" style="font-size:9.5px;font-weight:bold;fill:#111;" >0.6</text>
<text x="485.50" y="48.17" text-anchor="end" style="font-size:9.5px;font-weight:bold;fill:#111;" >0.8</text>
<text x="485.50" y="19.75" text-anchor="end" style="font-size:9.5px;font-weight:bold;fill:#111;" >1.0</text>
<text x="456.80" y="14.00" text-anchor="start" style="font-size:17.5px;font-weight:bold;fill:#111;" >c</text>
<text x="581.50" y="184.80" text-anchor="middle" style="font-size:11.6px;font-weight:bold;fill:#111;" >Delay Time (ps)</text>
<text transform="translate(467.60,84.20) rotate(-90)" text-anchor="middle" style="font-size:11.4px;font-weight:bold;fill:#111;" >Normalized ΔA</text>
<text x="577.8" y="35.5" style="font-size:9.9px;font-weight:bold;fill:#8ccbe8"><tspan style="font-style:italic;font-weight:normal;font-family:'Liberation Serif',serif" font-size="11">τ</tspan><tspan dy="2.6" font-size="7">ave</tspan><tspan dy="-2.6">=671.47 ps</tspan></text>
<text x="541.5" y="82.2" style="font-size:10.1px;font-weight:bold;fill:#4a7cc8"><tspan style="font-style:italic;font-weight:normal;font-family:'Liberation Serif',serif" font-size="11">τ</tspan><tspan dy="2.6" font-size="7">ave</tspan><tspan dy="-2.6">=513.26 ps</tspan></text>
<circle cx="536.10" cy="133.10" r="1.8" fill="url(#gL)"/>
<circle cx="536.10" cy="146.90" r="1.8" fill="url(#gD)"/>
<text x="550.80" y="136.60" text-anchor="start" style="font-size:9.9px;font-weight:bold;fill:#111;" >FTO/CdS/Sb<tspan dy="3.27" font-size="6.73">2</tspan><tspan dy="-3.27">(S,Se)</tspan><tspan dy="3.27" font-size="6.73">3</tspan></text>
<text x="550.80" y="150.50" text-anchor="start" style="font-size:9.9px;font-weight:bold;fill:#111;" >FTO/CdS/Ta<tspan dy="3.27" font-size="6.73">2</tspan><tspan dy="-3.27">O</tspan><tspan dy="3.27" font-size="6.73">5</tspan><tspan dy="-3.27">/Sb</tspan><tspan dy="3.27" font-size="6.73">2</tspan><tspan dy="-3.27">(S,Se)</tspan><tspan dy="3.27" font-size="6.73">3</tspan></text>
<defs><marker id="mdL" markerUnits="userSpaceOnUse" markerWidth="4" markerHeight="4" refX="2" refY="2" overflow="visible"><circle cx="2" cy="2" r="1.15" fill="#e4f4fb" stroke="#8ccbea" stroke-width="0.7"/></marker><marker id="mdD" markerUnits="userSpaceOnUse" markerWidth="4" markerHeight="4" refX="2" refY="2" overflow="visible"><circle cx="2" cy="2" r="1.15" fill="#a9c4ec" stroke="#4a7bc8" stroke-width="0.7"/></marker></defs>
<polyline points="34.3,281.8 34.7,278.2 35.0,283.7 35.3,280.0 35.7,283.7 36.0,283.7 36.3,278.2 36.7,281.8 37.0,283.7 37.3,281.8 37.7,280.0 38.0,283.7 38.3,281.8 38.7,285.5 39.0,285.5 39.3,285.5 39.7,287.3 40.0,287.3 40.3,287.3 40.7,285.5 41.0,285.5 41.3,285.5 41.7,285.5 42.0,287.3 42.3,285.5 42.7,285.5 43.0,283.7 43.3,287.3 43.7,287.3 44.0,291.0 44.3,287.3 44.7,291.0 45.0,289.2 45.3,283.7 45.7,291.0 46.0,283.7 46.3,285.5 46.7,287.3 47.0,285.5 47.3,285.5 47.7,283.7 48.0,287.3 48.4,289.2 48.7,289.2 49.0,289.2 49.4,287.3 49.7,289.2 50.0,285.5 50.4,292.8 50.7,291.0 51.0,291.0 51.4,292.8 51.7,283.7 52.0,294.7 52.4,289.2 52.7,289.2 53.0,285.5 53.4,292.8 53.7,287.3 54.0,291.0 54.4,289.2 54.7,291.0 55.0,287.3 55.4,292.8 55.7,289.2 56.0,289.2 56.4,285.5 56.7,296.5 57.0,287.3 57.4,287.3 57.7,291.0 58.0,289.2 58.4,291.0 58.7,287.3 59.0,291.0 59.4,291.0 59.7,291.0 60.0,291.0 60.4,291.0 60.7,292.8 61.0,285.5 61.4,296.5 61.7,300.2 62.0,291.0 62.4,292.8 62.7,291.0 63.0,292.8 63.4,292.8 63.7,291.0 64.1,289.2 64.4,292.8 64.7,292.8 65.1,287.3 65.4,291.0 65.7,294.7 66.1,287.3 66.4,291.0 66.7,294.7 67.1,296.5 67.4,292.8 67.7,294.7 68.1,296.5 68.4,296.5 68.7,294.7 69.1,291.0 69.4,294.7 69.7,296.5 70.1,292.8 70.4,292.8 70.7,291.0 71.1,291.0 71.4,294.7 71.7,294.7 72.1,294.7 72.4,296.5 72.7,292.8 73.1,291.0 73.4,294.7 73.7,294.7 74.1,294.7 74.4,296.5 74.7,296.5 75.1,296.5 75.4,296.5 75.7,296.5 76.1,298.4 76.4,294.7 76.7,294.7 77.1,298.4 77.4,300.2 77.7,294.7 78.1,292.8 78.4,296.5 78.7,296.5 79.1,296.5 79.4,294.7 79.8,298.4 80.1,292.8 80.4,296.5 80.8,294.7 81.1,296.5 81.4,296.5 81.8,300.2 82.1,298.4 82.4,296.5 82.8,294.7 83.1,296.5 83.4,298.4 83.8,296.5 84.1,294.7 84.4,296.5 84.8,298.4 85.1,298.4 85.4,294.7 85.8,296.5 86.1,300.2 86.4,296.5 86.8,298.4 87.1,298.4 87.4,294.7 87.8,296.5 88.1,300.2 88.4,298.4 88.8,296.5 89.1,300.2 89.4,298.4 89.8,296.5 90.1,302.0 90.4,296.5 90.8,296.5 91.1,296.5 91.4,302.0 91.8,298.4 92.1,300.2 92.4,296.5 92.8,296.5 93.1,298.4 93.4,300.2 93.8,300.2 94.1,296.5 94.4,300.2 94.8,298.4 95.1,298.4 95.5,300.2 95.8,292.8 96.1,298.4 96.5,294.7 96.8,303.9 97.1,303.9 97.5,296.5 97.8,298.4 98.1,300.2 98.5,300.2 98.8,303.9 99.1,300.2 99.5,302.0 99.8,300.2 100.1,298.4 100.5,300.2 100.8,298.4 101.1,302.0 101.5,300.2 101.8,300.2 102.1,300.2 102.5,296.5 102.8,302.0 103.1,296.5 103.5,302.0 103.8,298.4 104.1,302.0 104.5,296.5 104.8,300.2 105.1,300.2 105.5,298.4 105.8,302.0 106.1,303.9 106.5,305.7 106.8,298.4 107.1,302.0 107.5,302.0 107.8,300.2 108.1,296.5 108.5,305.7 108.8,300.2 109.1,302.0 109.5,300.2 109.8,305.7 110.1,302.0 110.5,300.2 110.8,298.4 111.1,298.4 111.5,303.9 111.8,302.0 112.2,302.0 112.5,303.9 112.8,305.7 113.2,300.2 113.5,300.2 113.8,302.0 114.2,298.4 114.5,303.9 114.8,300.2 115.2,302.0 115.5,302.0 115.8,300.2 116.2,302.0 116.5,302.0 116.8,302.0 117.2,298.4 117.5,302.0 117.8,300.2 118.2,300.2 118.5,303.9 118.8,300.2 119.2,303.9 119.5,300.2 119.8,303.9 120.2,303.9 120.5,302.0 120.8,300.2 121.2,300.2 121.5,300.2 121.8,303.9 122.2,305.7 122.5,302.0 122.8,302.0 123.2,305.7 123.5,300.2 123.8,302.0 124.2,305.7 124.5,302.0 124.8,305.7 125.2,305.7 125.5,302.0 125.8,307.5 126.2,303.9 126.5,305.7 126.8,302.0 127.2,305.7 127.5,302.0 127.9,307.5 128.2,303.9 128.5,302.0 128.9,302.0 129.2,307.5 129.5,302.0 129.9,302.0 130.2,303.9 130.5,300.2 130.9,305.7 131.2,303.9 131.5,302.0 131.9,300.2 132.2,300.2 132.5,305.7 132.9,307.5 133.2,303.9 133.5,307.5 133.9,303.9 134.2,307.5 134.5,302.0 134.9,302.0 135.2,302.0 135.5,303.9 135.9,303.9 136.2,305.7 136.5,303.9 136.9,303.9 137.2,303.9 137.5,305.7 137.9,300.2 138.2,303.9 138.5,302.0 138.9,302.0 139.2,305.7 139.5,307.5 139.9,302.0 140.2,305.7 140.5,303.9 140.9,305.7 141.2,303.9 141.5,307.5 141.9,305.7 142.2,305.7 142.5,303.9 142.9,309.4 143.2,302.0 143.6,303.9 143.9,309.4 144.2,305.7 144.6,305.7 144.9,303.9 145.2,305.7 145.6,302.0 145.9,305.7 146.2,307.5 146.6,307.5 146.9,303.9 147.2,305.7 147.6,303.9 147.9,302.0 148.2,303.9 148.6,302.0 148.9,305.7 149.2,305.7 149.6,307.5 149.9,307.5 150.2,309.4 150.6,307.5 150.9,307.5 151.2,309.4 151.6,305.7 151.9,303.9 152.2,305.7 152.6,302.0 152.9,303.9 153.2,303.9 153.6,307.5 153.9,309.4 154.2,303.9 154.6,305.7 154.9,303.9 155.2,303.9 155.6,302.0 155.9,305.7 156.2,303.9 156.6,307.5 156.9,311.2 157.2,307.5 157.6,302.0 157.9,309.4 158.2,303.9 158.6,307.5 158.9,307.5 159.3,305.7 159.6,305.7 159.9,307.5 160.3,305.7 160.6,305.7 160.9,303.9 161.3,307.5 161.6,302.0 161.9,302.0 162.3,300.2 162.6,309.4 162.9,305.7 163.3,311.2 163.6,305.7 163.9,305.7 164.3,309.4 164.6,309.4 164.9,305.7 165.3,305.7 165.6,307.5 165.9,307.5 166.3,313.0 166.6,307.5 166.9,305.7 167.3,305.7 167.6,302.0 167.9,309.4 168.3,311.2 168.6,305.7 168.9,307.5 169.3,305.7 169.6,305.7 169.9,305.7 170.3,303.9 170.6,303.9 170.9,311.2 171.3,307.5 171.6,302.0 171.9,307.5 172.3,303.9 172.6,307.5 172.9,307.5 173.3,303.9 173.6,303.9 173.9,307.5 174.3,303.9 174.6,309.4 175.0,309.4 175.3,305.7 175.6,307.5 176.0,309.4 176.3,305.7 176.6,305.7 177.0,303.9 177.3,305.7 177.6,307.5 178.0,307.5 178.3,307.5 178.6,307.5 179.0,303.9 179.3,303.9 179.6,303.9 180.0,305.7 180.3,307.5 180.6,305.7 181.0,307.5 181.3,307.5 181.6,311.2 182.0,307.5 182.3,303.9 182.6,309.4 183.0,311.2 183.3,307.5 183.6,303.9 184.0,303.9 184.3,307.5 184.6,309.4 185.0,307.5 185.3,309.4 185.6,307.5 186.0,307.5 186.3,311.2 186.6,309.4 187.0,307.5 187.3,309.4 187.6,309.4 188.0,305.7 188.3,303.9 188.6,307.5 189.0,309.4 189.3,305.7 189.6,307.5 190.0,309.4 190.3,303.9 190.6,309.4 191.0,309.4 191.3,309.4 191.7,309.4 192.0,307.5 192.3,305.7 192.7,303.9 193.0,305.7 193.3,307.5 193.7,311.2 194.0,307.5 194.3,309.4 194.7,307.5 195.0,305.7 195.3,307.5 195.7,307.5 196.0,309.4 196.3,307.5 196.7,307.5 197.0,309.4 197.3,309.4 197.7,305.7 198.0,311.2 198.3,309.4 198.7,311.2 199.0,303.9 199.3,305.7 199.7,307.5 200.0,307.5 200.3,307.5 200.7,307.5 201.0,311.2 201.3,307.5 201.7,307.5 202.0,311.2 202.3,305.7 202.7,305.7 203.0,311.2 203.3,309.4 203.7,309.4 204.0,309.4 204.3,307.5 204.7,311.2 205.0,309.4 205.3,307.5 205.7,305.7 206.0,307.5 206.3,309.4 206.7,305.7 207.0,313.0 207.4,305.7 207.7,309.4 208.0,311.2 208.4,309.4 208.7,313.0 209.0,313.0 209.4,309.4 209.7,309.4 210.0,305.7 210.4,311.2 210.7,311.2 211.0,311.2 211.4,303.9 211.7,307.5 212.0,309.4 212.4,311.2 212.7,311.2 213.0,309.4 213.4,307.5 213.7,305.7 214.0,305.7 214.4,307.5" fill="none" stroke="#8ccbea" stroke-width="0.6" marker-start="url(#mdL)" marker-mid="url(#mdL)" marker-end="url(#mdL)"/>
<polyline points="32.5,346.1 32.5,316.7 32.5,287.3 32.5,258.0 32.5,235.9 32.5,213.9 32.5,199.2 33.0,246.2 33.4,260.9 33.7,270.8 34.0,276.3 34.4,270.8 34.7,287.3 35.1,280.0 35.4,291.0 35.7,276.3 36.1,281.8 36.4,278.2 36.7,287.3 37.1,285.5 37.4,289.2 37.7,292.8 38.1,289.2 38.4,296.5 38.7,292.8 39.1,289.2 39.4,292.8 39.7,294.7 40.1,283.7 40.4,294.7 40.7,298.4 41.1,294.7 41.4,298.4 41.7,298.4 42.1,300.2 42.4,289.2 42.7,298.4 43.1,298.4 43.4,296.5 43.7,291.0 44.1,302.0 44.4,305.7 44.7,291.0 45.1,309.4 45.4,305.7 45.7,300.2 46.1,292.8 46.4,309.4 46.7,316.7 47.1,302.0 47.4,309.4 47.7,309.4 48.1,305.7 48.4,307.5 48.7,307.5 49.1,311.2 49.4,303.9 49.7,302.0 50.1,309.4 50.4,313.0 50.8,307.5 51.1,309.4 51.4,316.7 51.8,314.9 52.1,307.5 52.4,313.0 52.8,314.9 53.1,313.0 53.4,313.0 53.8,313.0 54.1,324.1 54.4,305.7 54.8,314.9 55.1,318.6 55.4,311.2 55.8,314.9 56.1,316.7 56.4,311.2 56.8,305.7 57.1,314.9 57.4,309.4 57.8,307.5 58.1,322.2 58.4,320.4 58.8,314.9 59.1,325.9 59.4,320.4 59.8,313.0 60.1,314.9 60.4,316.7 60.8,329.6 61.1,309.4 61.4,318.6 61.8,316.7 62.1,318.6 62.4,329.6 62.8,327.7 63.1,324.1 63.4,316.7 63.8,324.1 64.1,322.2 64.4,322.2 64.8,320.4 65.1,320.4 65.4,322.2 65.8,325.9 66.1,331.4 66.4,322.2 66.8,322.2 67.1,320.4 67.5,324.1 67.8,325.9 68.1,322.2 68.5,327.7 68.8,327.7 69.1,327.7 69.5,324.1 69.8,318.6 70.1,322.2 70.5,322.2 70.8,324.1 71.1,324.1 71.5,325.9 71.8,325.9 72.1,333.2 72.5,329.6 72.8,329.6 73.1,324.1 73.5,324.1 73.8,324.1 74.1,322.2 74.5,327.7 74.8,324.1 75.1,322.2 75.5,327.7 75.8,324.1 76.1,327.7 76.5,331.4 76.8,327.7 77.1,329.6 77.5,327.7 77.8,329.6 78.1,327.7 78.5,333.2 78.8,322.2 79.1,324.1 79.5,329.6 79.8,331.4 80.1,327.7 80.5,325.9 80.8,327.7 81.1,327.7 81.5,333.2 81.8,331.4 82.1,325.9 82.5,327.7 82.8,333.2 83.2,331.4 83.5,333.2 83.8,331.4 84.2,325.9 84.5,329.6 84.8,325.9 85.2,329.6 85.5,333.2 85.8,331.4 86.2,322.2 86.5,331.4 86.8,333.2 87.2,325.9 87.5,329.6 87.8,329.6 88.2,325.9 88.5,335.1 88.8,329.6 89.2,333.2 89.5,333.2 89.8,333.2 90.2,327.7 90.5,331.4 90.8,335.1 91.2,333.2 91.5,325.9 91.8,327.7 92.2,333.2 92.5,324.1 92.8,331.4 93.2,333.2 93.5,331.4 93.8,327.7 94.2,325.9 94.5,327.7 94.8,331.4 95.2,333.2 95.5,335.1 95.8,331.4 96.2,333.2 96.5,329.6 96.8,335.1 97.2,333.2 97.5,333.2 97.8,335.1 98.2,335.1 98.5,333.2 98.9,335.1 99.2,329.6 99.5,331.4 99.9,335.1 100.2,329.6 100.5,331.4 100.9,327.7 101.2,331.4 101.5,331.4 101.9,333.2 102.2,331.4 102.5,329.6 102.9,331.4 103.2,333.2 103.5,329.6 103.9,331.4 104.2,331.4 104.5,335.1 104.9,331.4 105.2,335.1 105.5,335.1 105.9,331.4 106.2,325.9 106.5,329.6 106.9,331.4 107.2,333.2 107.5,329.6 107.9,327.7 108.2,327.7 108.5,333.2 108.9,331.4 109.2,333.2 109.5,333.2 109.9,335.1 110.2,333.2 110.5,338.8 110.9,335.1 111.2,331.4 111.5,335.1 111.9,331.4 112.2,335.1 112.5,333.2 112.9,331.4 113.2,335.1 113.5,335.1 113.9,325.9 114.2,335.1 114.6,335.1 114.9,333.2 115.2,331.4 115.6,333.2 115.9,329.6 116.2,329.6 116.6,333.2 116.9,333.2 117.2,336.9 117.6,336.9 117.9,335.1 118.2,329.6 118.6,331.4 118.9,329.6 119.2,329.6 119.6,333.2 119.9,325.9 120.2,333.2 120.6,335.1 120.9,333.2 121.2,329.6 121.6,333.2 121.9,335.1 122.2,331.4 122.6,329.6 122.9,333.2 123.2,333.2 123.6,329.6 123.9,329.6 124.2,329.6 124.6,335.1 124.9,331.4 125.2,331.4 125.6,336.9 125.9,329.6 126.2,333.2 126.6,333.2 126.9,325.9 127.2,331.4 127.6,335.1 127.9,333.2 128.2,331.4 128.6,329.6 128.9,333.2 129.2,335.1 129.6,335.1 129.9,335.1 130.3,335.1 130.6,333.2 130.9,333.2 131.3,333.2 131.6,335.1 131.9,335.1 132.3,333.2 132.6,333.2 132.9,329.6 133.3,335.1 133.6,331.4 133.9,333.2 134.3,336.9 134.6,331.4 134.9,331.4 135.3,338.8 135.6,331.4 135.9,329.6 136.3,335.1 136.6,327.7 136.9,333.2 137.3,336.9 137.6,331.4 137.9,333.2 138.3,336.9 138.6,338.8 138.9,331.4 139.3,335.1 139.6,331.4 139.9,331.4 140.3,335.1 140.6,335.1 140.9,327.7 141.3,327.7 141.6,331.4 141.9,333.2 142.3,335.1 142.6,333.2 142.9,327.7 143.3,331.4 143.6,333.2 143.9,336.9 144.3,333.2 144.6,335.1 144.9,333.2 145.3,331.4 145.6,329.6 145.9,333.2 146.3,333.2 146.6,331.4 147.0,327.7 147.3,331.4 147.6,336.9 148.0,327.7 148.3,331.4 148.6,322.2 149.0,335.1 149.3,333.2 149.6,333.2 150.0,331.4 150.3,335.1 150.6,336.9 151.0,338.8 151.3,333.2 151.6,335.1 152.0,335.1 152.3,327.7 152.6,331.4 153.0,329.6 153.3,335.1 153.6,331.4 154.0,333.2 154.3,333.2 154.6,331.4 155.0,331.4 155.3,331.4 155.6,333.2 156.0,336.9 156.3,335.1 156.6,331.4 157.0,333.2 157.3,335.1 157.6,331.4 158.0,335.1 158.3,335.1 158.6,329.6 159.0,333.2 159.3,329.6 159.6,331.4 160.0,331.4 160.3,329.6 160.6,338.8 161.0,333.2 161.3,336.9 161.6,335.1 162.0,333.2 162.3,329.6 162.7,333.2 163.0,327.7 163.3,335.1 163.7,333.2 164.0,333.2 164.3,329.6 164.7,333.2 165.0,335.1 165.3,333.2 165.7,336.9 166.0,329.6 166.3,331.4 166.7,331.4 167.0,331.4 167.3,335.1 167.7,335.1 168.0,331.4 168.3,335.1 168.7,335.1 169.0,327.7 169.3,327.7 169.7,331.4 170.0,331.4 170.3,333.2 170.7,329.6 171.0,335.1 171.3,333.2 171.7,331.4 172.0,329.6 172.3,333.2 172.7,333.2 173.0,335.1 173.3,335.1 173.7,335.1 174.0,333.2 174.3,331.4 174.7,335.1 175.0,335.1 175.3,335.1 175.7,331.4 176.0,331.4 176.3,336.9 176.7,331.4 177.0,335.1 177.3,331.4 177.7,335.1 178.0,336.9 178.4,335.1 178.7,333.2 179.0,335.1 179.4,333.2 179.7,333.2 180.0,333.2 180.4,331.4 180.7,331.4 181.0,335.1 181.4,333.2 181.7,333.2 182.0,338.8 182.4,331.4 182.7,335.1 183.0,335.1 183.4,335.1 183.7,333.2 184.0,331.4 184.4,331.4 184.7,335.1 185.0,331.4 185.4,331.4 185.7,333.2 186.0,333.2 186.4,331.4 186.7,331.4 187.0,331.4 187.4,333.2 187.7,329.6 188.0,327.7 188.4,331.4 188.7,336.9 189.0,327.7 189.4,335.1 189.7,336.9 190.0,340.6 190.4,331.4 190.7,329.6 191.0,329.6 191.4,333.2 191.7,329.6 192.0,333.2 192.4,335.1 192.7,333.2 193.0,333.2 193.4,333.2 193.7,331.4 194.1,338.8 194.4,329.6 194.7,335.1 195.1,331.4 195.4,335.1 195.7,333.2 196.1,333.2 196.4,336.9 196.7,331.4 197.1,331.4 197.4,336.9 197.7,338.8 198.1,335.1 198.4,335.1 198.7,333.2 199.1,333.2 199.4,327.7 199.7,331.4 200.1,333.2 200.4,333.2 200.7,340.6 201.1,335.1 201.4,335.1 201.7,333.2 202.1,331.4 202.4,333.2 202.7,329.6 203.1,335.1 203.4,331.4 203.7,333.2 204.1,333.2 204.4,331.4 204.7,333.2 205.1,333.2 205.4,333.2 205.7,329.6 206.1,333.2 206.4,331.4 206.7,325.9 207.1,331.4 207.4,331.4 207.7,329.6 208.1,335.1 208.4,331.4 208.7,331.4 209.1,331.4 209.4,329.6 209.8,331.4 210.1,329.6 210.4,335.1 210.8,331.4 211.1,335.1 211.4,329.6 211.8,333.2 212.1,336.9 212.4,333.2 212.8,335.1 213.1,329.6 213.4,333.2 213.8,338.8 214.1,333.2 214.4,329.6" fill="none" stroke="#4a7bc8" stroke-width="0.6" marker-start="url(#mdD)" marker-mid="url(#mdD)" marker-end="url(#mdD)"/>
<line x1="33.20" y1="346.00" x2="33.20" y2="199.50" stroke="#4f7fca" stroke-width="1.4" />
<path d="M34.02,279.92 L35.54,280.57 L37.05,281.20 L38.57,281.81 L40.09,282.42 L41.61,283.01 L43.13,283.58 L44.65,284.14 L46.16,284.70 L47.68,285.23 L49.20,285.76 L50.72,286.27 L52.24,286.78 L53.76,287.27 L55.28,287.75 L56.79,288.22 L58.31,288.68 L59.83,289.12 L61.35,289.56 L62.87,289.99 L64.39,290.41 L65.90,290.82 L67.42,291.22 L68.94,291.61 L70.46,292.00 L71.98,292.37 L73.50,292.73 L75.01,293.09 L76.53,293.44 L78.05,293.78 L79.57,294.12 L81.09,294.44 L82.61,294.76 L84.12,295.07 L85.64,295.38 L87.16,295.68 L88.68,295.97 L90.20,296.25 L91.72,296.53 L93.23,296.80 L94.75,297.07 L96.27,297.33 L97.79,297.58 L99.31,297.83 L100.82,298.08 L102.34,298.31 L103.86,298.54 L105.38,298.77 L106.90,298.99 L108.42,299.21 L109.93,299.42 L111.45,299.63 L112.97,299.83 L114.49,300.03 L116.01,300.22 L117.53,300.41 L119.05,300.60 L120.56,300.78 L122.08,300.95 L123.60,301.13 L125.12,301.30 L126.64,301.46 L128.16,301.62 L129.67,301.78 L131.19,301.93 L132.71,302.08 L134.23,302.23 L135.75,302.38 L137.26,302.52 L138.78,302.65 L140.30,302.79 L141.82,302.92 L143.34,303.05 L144.86,303.17 L146.38,303.30 L147.89,303.42 L149.41,303.54 L150.93,303.65 L152.45,303.76 L153.97,303.87 L155.48,303.98 L157.00,304.08 L158.52,304.19 L160.04,304.29 L161.56,304.38 L163.08,304.48 L164.59,304.57 L166.11,304.66 L167.63,304.75 L169.15,304.84 L170.67,304.93 L172.19,305.01 L173.70,305.09 L175.22,305.17 L176.74,305.25 L178.26,305.33 L179.78,305.40 L181.30,305.47 L182.81,305.54 L184.33,305.61 L185.85,305.68 L187.37,305.75 L188.89,305.81 L190.41,305.88 L191.92,305.94 L193.44,306.00 L194.96,306.06 L196.48,306.12 L198.00,306.17 L199.52,306.23 L201.03,306.28 L202.55,306.34 L204.07,306.39 L205.59,306.44 L207.11,306.49 L208.63,306.54 L210.15,306.58 L211.66,306.63 L213.18,306.67 L214.70,306.72" fill="none" stroke="#f2c4c4" stroke-width="1.1"/>
<path d="M32.50,199.16 L32.62,217.81 L32.74,230.47 L32.86,239.36 L33.05,248.48 L33.26,255.55 L33.56,262.33 L33.87,267.13 L34.32,272.33 L34.93,277.14 L35.54,280.53 L36.30,283.66 L37.05,286.10 L38.57,290.04 L40.09,293.38 L41.61,296.38 L43.13,299.15 L44.65,301.69 L46.16,304.04 L47.68,306.21 L49.20,308.22 L50.72,310.07 L52.24,311.78 L53.76,313.36 L55.28,314.82 L56.79,316.17 L58.31,317.41 L59.83,318.56 L61.35,319.63 L62.87,320.61 L64.39,321.51 L65.90,322.35 L67.42,323.13 L68.94,323.84 L70.46,324.50 L71.98,325.11 L73.50,325.67 L75.01,326.19 L76.53,326.67 L78.05,327.12 L79.57,327.52 L81.09,327.90 L82.60,328.25 L84.12,328.58 L85.64,328.87 L87.16,329.15 L88.68,329.40 L90.20,329.64 L91.72,329.86 L93.23,330.06 L94.75,330.24 L96.27,330.41 L97.79,330.57 L99.31,330.72 L100.82,330.85 L102.34,330.98 L103.86,331.09 L105.38,331.20 L106.90,331.30 L108.42,331.39 L109.94,331.47 L111.45,331.55 L112.97,331.62 L114.49,331.68 L116.01,331.75 L117.53,331.80 L119.05,331.85 L120.56,331.90 L122.08,331.95 L123.60,331.99 L125.12,332.02 L126.64,332.06 L128.16,332.09 L129.67,332.12 L131.19,332.15 L132.71,332.17 L134.23,332.20 L135.75,332.22 L137.26,332.24 L138.78,332.26 L140.30,332.28 L141.82,332.29 L143.34,332.31 L144.86,332.32 L146.38,332.33 L147.89,332.34 L149.41,332.35 L150.93,332.36 L152.45,332.37 L153.97,332.38 L155.49,332.39 L157.00,332.40 L158.52,332.40 L160.04,332.41 L161.56,332.41 L163.08,332.42 L164.59,332.42 L166.11,332.43 L167.63,332.43 L169.15,332.44 L170.67,332.44 L172.19,332.44 L173.70,332.45 L175.22,332.45 L176.74,332.45 L178.26,332.45 L179.78,332.46 L181.30,332.46 L182.82,332.46 L184.33,332.46 L185.85,332.46 L187.37,332.46 L188.89,332.47 L190.41,332.47 L191.93,332.47 L193.44,332.47 L194.96,332.47 L196.48,332.47 L198.00,332.47 L199.52,332.47 L201.04,332.47 L202.55,332.47 L204.07,332.47 L205.59,332.48 L207.11,332.48 L208.63,332.48 L210.15,332.48 L211.66,332.48 L213.18,332.48 L214.70,332.48" fill="none" stroke="#e35d5d" stroke-width="1.1"/>
<rect x="32.50" y="199.20" width="182.20" height="146.90" fill="none" stroke="#222" stroke-width="1"/>
<line x1="32.50" y1="346.10" x2="32.50" y2="343.40" stroke="#222" stroke-width="1" />
<line x1="62.87" y1="346.10" x2="62.87" y2="343.40" stroke="#222" stroke-width="1" />
<line x1="93.23" y1="346.10" x2="93.23" y2="343.40" stroke="#222" stroke-width="1" />
<line x1="123.60" y1="346.10" x2="123.60" y2="343.40" stroke="#222" stroke-width="1" />
<line x1="153.97" y1="346.10" x2="153.97" y2="343.40" stroke="#222" stroke-width="1" />
<line x1="184.33" y1="346.10" x2="184.33" y2="343.40" stroke="#222" stroke-width="1" />
<line x1="214.70" y1="346.10" x2="214.70" y2="343.40" stroke="#222" stroke-width="1" />
<line x1="47.68" y1="346.10" x2="47.68" y2="344.60" stroke="#222" stroke-width="1" />
<line x1="78.05" y1="346.10" x2="78.05" y2="344.60" stroke="#222" stroke-width="1" />
<line x1="108.42" y1="346.10" x2="108.42" y2="344.60" stroke="#222" stroke-width="1" />
<line x1="138.78" y1="346.10" x2="138.78" y2="344.60" stroke="#222" stroke-width="1" />
<line x1="169.15" y1="346.10" x2="169.15" y2="344.60" stroke="#222" stroke-width="1" />
<line x1="199.52" y1="346.10" x2="199.52" y2="344.60" stroke="#222" stroke-width="1" />
<text x="32.50" y="356.60" text-anchor="middle" style="font-size:9.5px;font-weight:bold;fill:#111;" >0</text>
<text x="62.87" y="356.60" text-anchor="middle" style="font-size:9.5px;font-weight:bold;fill:#111;" >1</text>
<text x="93.23" y="356.60" text-anchor="middle" style="font-size:9.5px;font-weight:bold;fill:#111;" >2</text>
<text x="123.60" y="356.60" text-anchor="middle" style="font-size:9.5px;font-weight:bold;fill:#111;" >3</text>
<text x="153.97" y="356.60" text-anchor="middle" style="font-size:9.5px;font-weight:bold;fill:#111;" >4</text>
<text x="184.33" y="356.60" text-anchor="middle" style="font-size:9.5px;font-weight:bold;fill:#111;" >5</text>
<text x="214.70" y="356.60" text-anchor="middle" style="font-size:9.5px;font-weight:bold;fill:#111;" >6</text>
<line x1="32.50" y1="346.10" x2="35.20" y2="346.10" stroke="#222" stroke-width="1" />
<line x1="32.50" y1="316.72" x2="35.20" y2="316.72" stroke="#222" stroke-width="1" />
<line x1="32.50" y1="287.34" x2="35.20" y2="287.34" stroke="#222" stroke-width="1" />
<line x1="32.50" y1="257.96" x2="35.20" y2="257.96" stroke="#222" stroke-width="1" />
<line x1="32.50" y1="228.58" x2="35.20" y2="228.58" stroke="#222" stroke-width="1" />
<line x1="32.50" y1="199.20" x2="35.20" y2="199.20" stroke="#222" stroke-width="1" />
<line x1="32.50" y1="331.41" x2="34.00" y2="331.41" stroke="#222" stroke-width="1" />
<line x1="32.50" y1="302.03" x2="34.00" y2="302.03" stroke="#222" stroke-width="1" />
<line x1="32.50" y1="272.65" x2="34.00" y2="272.65" stroke="#222" stroke-width="1" />
<line x1="32.50" y1="243.27" x2="34.00" y2="243.27" stroke="#222" stroke-width="1" />
<line x1="32.50" y1="213.89" x2="34.00" y2="213.89" stroke="#222" stroke-width="1" />
<text x="29.50" y="349.05" text-anchor="end" style="font-size:9.5px;font-weight:bold;fill:#111;" >0.0</text>
<text x="29.50" y="319.67" text-anchor="end" style="font-size:9.5px;font-weight:bold;fill:#111;" >0.2</text>
<text x="29.50" y="290.29" text-anchor="end" style="font-size:9.5px;font-weight:bold;fill:#111;" >0.4</text>
<text x="29.50" y="260.91" text-anchor="end" style="font-size:9.5px;font-weight:bold;fill:#111;" >0.6</text>
<text x="29.50" y="231.53" text-anchor="end" style="font-size:9.5px;font-weight:bold;fill:#111;" >0.8</text>
<text x="29.50" y="202.15" text-anchor="end" style="font-size:9.5px;font-weight:bold;fill:#111;" >1.0</text>
<text x="0.10" y="195.30" text-anchor="start" style="font-size:17.5px;font-weight:bold;fill:#111;" >d</text>
<text x="123.80" y="369.50" text-anchor="middle" style="font-size:10.9px;font-weight:bold;fill:#111;" >Time (ms)</text>
<text transform="translate(12.20,272.60) rotate(-90)" text-anchor="middle" style="font-size:11.0px;font-weight:bold;fill:#111;" >Normalized photocurrent</text>
<line x1="140.20" y1="207.50" x2="161.20" y2="207.50" stroke="#8ccbea" stroke-width="1.0" />
<circle cx="150.70" cy="207.50" r="1.3" fill="#d6effa" stroke="#8ccbea" stroke-width="0.7"/>
<line x1="140.20" y1="219.20" x2="161.20" y2="219.20" stroke="#4f7fca" stroke-width="1.0" />
<circle cx="150.70" cy="219.20" r="1.3" fill="#7ea6e0" stroke="#4f7fca" stroke-width="0.7"/>
<line x1="140.20" y1="233.00" x2="161.20" y2="233.00" stroke="#f8d6d6" stroke-width="1.1" />
<line x1="140.20" y1="244.70" x2="161.20" y2="244.70" stroke="#e35d5d" stroke-width="1.3" />
<text x="164.20" y="210.60" text-anchor="start" style="font-size:9.3px;font-weight:bold;fill:#111;" >Control</text>
<text x="164.20" y="222.30" text-anchor="start" style="font-size:9.3px;font-weight:bold;fill:#111;" >With Ta<tspan dy="3.07" font-size="6.32">2</tspan><tspan dy="-3.07">O</tspan><tspan dy="3.07" font-size="6.32">5</tspan></text>
<text x="164.20" y="236.60" text-anchor="start" style="font-size:9.3px;font-weight:bold;fill:#111;" >Fitting line</text>
<text x="164.20" y="248.10" text-anchor="start" style="font-size:9.3px;font-weight:bold;fill:#111;" >Fitting line</text>
<text x="84" y="262" style="font-size:9.3px;font-weight:bold;fill:#8ccbea"><tspan font-weight="normal">τ</tspan><tspan dy="2.4" font-size="6.5">TPC</tspan><tspan dy="-2.4">=323 μs</tspan></text>
<text x="84" y="276" style="font-size:9.3px;font-weight:bold;fill:#4f7fca"><tspan font-weight="normal">τ</tspan><tspan dy="2.4" font-size="6.5">TPC</tspan><tspan dy="-2.4">=251 μs</tspan></text>
<defs><marker id="meL" markerUnits="userSpaceOnUse" markerWidth="4" markerHeight="4" refX="2" refY="2" overflow="visible"><circle cx="2" cy="2" r="1.45" fill="#dff2fb" stroke="#8ccbea" stroke-width="0.75"/></marker><marker id="meD" markerUnits="userSpaceOnUse" markerWidth="4" markerHeight="4" refX="2" refY="2" overflow="visible"><circle cx="2" cy="2" r="1.45" fill="#b9cff0" stroke="#4a7bc8" stroke-width="0.75"/></marker></defs>
<polyline points="260.2,199.6 261.1,203.2 262.0,209.7 262.9,217.2 263.8,223.9 264.7,229.1 265.7,234.3 266.6,239.3 267.5,245.7 268.4,250.5 269.3,253.8 270.2,258.2 271.1,261.6 272.0,265.8 272.9,270.1 273.8,273.6 274.7,275.2 275.7,280.0 276.6,283.3 277.5,286.2 278.4,288.2 279.3,290.6 280.2,293.3 281.1,295.4 282.0,297.3 282.9,299.1 283.8,300.8 284.7,303.2 285.7,306.1 286.6,306.2 287.5,309.1 288.4,309.8 289.3,312.0 290.2,312.4 291.1,314.2 292.0,314.8 292.9,314.1 293.8,317.2 294.7,317.7 295.7,319.9 296.6,320.2 297.5,320.6 298.4,321.9 299.3,322.4 300.2,323.3 301.1,324.7 302.0,324.4 302.9,325.9 303.8,324.9 304.7,326.9 305.7,326.8 306.6,327.7 307.5,327.7 308.4,329.1 309.3,328.6 310.2,329.7 311.1,329.3 312.0,330.1 312.9,330.7 313.8,331.7 314.7,331.1 315.6,331.6 316.6,331.2 317.5,332.7 318.4,332.5 319.3,332.8 320.2,333.2 321.1,333.5 322.0,333.7 322.9,334.4 323.8,334.9 324.7,334.7 325.6,334.3 326.6,334.0 327.5,334.5 328.4,334.6 329.3,335.0 330.2,335.2 331.1,335.7 332.0,335.5 332.9,335.0 333.8,336.4 334.7,336.7 335.6,335.3 336.6,336.5 337.5,336.2 338.4,336.3 339.3,337.6 340.2,335.6 341.1,336.1 342.0,337.2 342.9,336.9 343.8,337.4 344.7,338.1 345.6,337.7 346.6,337.5 347.5,337.2 348.4,337.5 349.3,338.0 350.2,337.3 351.1,338.6 352.0,337.8 352.9,337.7 353.8,338.5 354.7,339.5 355.6,339.0 356.6,338.4 357.5,338.3 358.4,337.8 359.3,339.4 360.2,338.8 361.1,338.5 362.0,339.0 362.9,340.4 363.8,338.6 364.7,337.8 365.6,338.6 366.6,339.8 367.5,339.5 368.4,339.2 369.3,337.9 370.2,339.1 371.1,339.4 372.0,338.6 372.9,339.6 373.8,338.5 374.7,340.1 375.6,340.0 376.6,339.3 377.5,338.9 378.4,339.4 379.3,339.7 380.2,341.0 381.1,340.4 382.0,340.3 382.9,340.3 383.8,339.7 384.7,340.3 385.6,339.7 386.6,340.1 387.5,340.4 388.4,340.2 389.3,340.0 390.2,339.8 391.1,340.6 392.0,340.5 392.9,341.2 393.8,339.5 394.7,339.6 395.6,340.6 396.5,340.8 397.5,341.3 398.4,340.5 399.3,340.5 400.2,339.4 401.1,340.6 402.0,341.2 402.9,342.2 403.8,340.0 404.7,340.7 405.6,341.8 406.5,340.8 407.5,341.9 408.4,338.9 409.3,340.3 410.2,340.7 411.1,341.2 412.0,342.3 412.9,341.2 413.8,342.1 414.7,340.8 415.6,342.5 416.5,341.8 417.5,340.5 418.4,340.3 419.3,342.0 420.2,342.2 421.1,340.8 422.0,340.9 422.9,342.0 423.8,341.8 424.7,341.9 425.6,342.2 426.5,341.9 427.5,340.8 428.4,341.2 429.3,340.4 430.2,341.7 431.1,341.7 432.0,342.2 432.9,341.8 433.8,342.5 434.7,342.8 435.6,341.3 436.5,340.9 437.5,341.3 438.4,341.0 439.3,341.7 440.2,342.3 441.1,341.8" fill="none" stroke="#8ccbea" stroke-width="1.2" marker-start="url(#meL)" marker-mid="url(#meL)" marker-end="url(#meL)"/>
<polyline points="260.2,199.6 261.1,205.8 262.0,213.1 262.9,219.5 263.8,224.9 264.7,230.7 265.7,236.7 266.6,240.8 267.5,246.6 268.4,251.1 269.3,255.3 270.2,260.7 271.1,265.5 272.0,267.7 272.9,272.2 273.8,274.5 274.7,278.3 275.7,281.0 276.6,284.1 277.5,288.6 278.4,289.6 279.3,292.9 280.2,295.3 281.1,297.4 282.0,298.8 282.9,300.8 283.8,302.6 284.7,306.0 285.7,307.1 286.6,309.8 287.5,310.0 288.4,311.1 289.3,313.3 290.2,314.1 291.1,315.3 292.0,316.1 292.9,318.3 293.8,319.4 294.7,320.4 295.7,319.9 296.6,321.2 297.5,322.8 298.4,323.4 299.3,324.3 300.2,325.0 301.1,326.0 302.0,326.7 302.9,327.9 303.8,328.2 304.7,327.4 305.7,328.6 306.6,329.4 307.5,330.1 308.4,330.4 309.3,330.7 310.2,331.8 311.1,331.7 312.0,332.1 312.9,333.0 313.8,333.4 314.7,333.9 315.6,334.3 316.6,333.4 317.5,335.6 318.4,334.7 319.3,335.2 320.2,335.5 321.1,335.3 322.0,334.9 322.9,335.8 323.8,336.1 324.7,336.6 325.6,336.5 326.6,336.1 327.5,337.1 328.4,337.7 329.3,337.9 330.2,338.0 331.1,338.3 332.0,337.0 332.9,337.6 333.8,338.1 334.7,337.2 335.6,338.6 336.6,337.9 337.5,338.0 338.4,339.5 339.3,339.6 340.2,339.4 341.1,338.4 342.0,338.3 342.9,339.9 343.8,338.6 344.7,339.6 345.6,339.7 346.6,339.8 347.5,339.8 348.4,340.7 349.3,340.4 350.2,340.6 351.1,339.6 352.0,338.8 352.9,338.5 353.8,340.3 354.7,341.2 355.6,340.5 356.6,340.9 357.5,339.2 358.4,340.1 359.3,341.0 360.2,340.0 361.1,340.3 362.0,341.7 362.9,341.1 363.8,341.0 364.7,340.9 365.6,340.8 366.6,341.2 367.5,340.9 368.4,341.4 369.3,341.7 370.2,340.3 371.1,341.0 372.0,341.0 372.9,342.3 373.8,341.5 374.7,340.9 375.6,342.2 376.6,340.9 377.5,341.8 378.4,341.3 379.3,341.7 380.2,341.5 381.1,341.0 382.0,342.0 382.9,340.9 383.8,342.3 384.7,342.4 385.6,341.5 386.6,342.6 387.5,342.2 388.4,341.5 389.3,341.3 390.2,343.1 391.1,341.8 392.0,341.0 392.9,341.5 393.8,342.4 394.7,342.6 395.6,342.5 396.5,343.0 397.5,342.5 398.4,342.5 399.3,342.5 400.2,341.8 401.1,342.6 402.0,343.4 402.9,341.9 403.8,343.2 404.7,342.9 405.6,342.7 406.5,342.9 407.5,343.3 408.4,342.9 409.3,341.5 410.2,343.1 411.1,342.9 412.0,342.2 412.9,342.4 413.8,342.5 414.7,342.4 415.6,344.1 416.5,343.5 417.5,342.9 418.4,342.7 419.3,342.3 420.2,342.8 421.1,343.3 422.0,343.1 422.9,343.3 423.8,343.1 424.7,342.8 425.6,343.5 426.5,343.8 427.5,343.8 428.4,342.7 429.3,342.6 430.2,342.8 431.1,342.9 432.0,342.9 432.9,343.4 433.8,343.1 434.7,344.1 435.6,343.6 436.5,344.0 437.5,343.1 438.4,343.9 439.3,343.7 440.2,343.4 441.1,342.9" fill="none" stroke="#8ccbea" stroke-width="1.2" marker-start="url(#meL)" marker-mid="url(#meL)" marker-end="url(#meL)"/>
<polyline points="260.2,200.7 261.1,204.2 262.0,209.3 262.9,213.9 263.8,216.7 264.7,221.3 265.7,225.3 266.6,226.8 267.5,232.1 268.4,235.8 269.3,238.7 270.2,240.6 271.1,242.1 272.0,244.3 272.9,246.3 273.8,247.9 274.7,250.0 275.7,252.8 276.6,254.0 277.5,256.4 278.4,259.1 279.3,259.4 280.2,261.6 281.1,263.2 282.0,262.6 282.9,265.0 283.8,267.4 284.7,268.2 285.7,267.2 286.6,270.6 287.5,270.8 288.4,271.9 289.3,272.9 290.2,273.8 291.1,275.7 292.0,276.5 292.9,277.1 293.8,278.1 294.7,277.9 295.7,278.0 296.6,280.9 297.5,280.4 298.4,282.5 299.3,282.9 300.2,283.2 301.1,283.5 302.0,284.7 302.9,287.2 303.8,284.3 304.7,286.4 305.7,287.3 306.6,286.7 307.5,288.4 308.4,289.7 309.3,288.6 310.2,289.2 311.1,290.8 312.0,289.9 312.9,290.8 313.8,292.7 314.7,290.6 315.6,292.4 316.6,294.2 317.5,293.3 318.4,294.0 319.3,293.8 320.2,296.3 321.1,294.6 322.0,295.2 322.9,295.8 323.8,296.4 324.7,296.2 325.6,297.2 326.6,298.1 327.5,299.4 328.4,298.1 329.3,298.6 330.2,299.7 331.1,300.2 332.0,300.1 332.9,303.4 333.8,301.3 334.7,304.2 335.6,302.2 336.6,301.8 337.5,301.5 338.4,304.0 339.3,303.6 340.2,304.4 341.1,306.7 342.0,304.4 342.9,305.5 343.8,305.8 344.7,307.0 345.6,306.6 346.6,306.8 347.5,306.1 348.4,307.4 349.3,304.9 350.2,308.7 351.1,308.9 352.0,309.1 352.9,310.1 353.8,308.4 354.7,309.5 355.6,311.5 356.6,310.6 357.5,310.0 358.4,312.7 359.3,311.6 360.2,312.3 361.1,310.3 362.0,312.3 362.9,313.4 363.8,313.8 364.7,312.0 365.6,314.4 366.6,312.2 367.5,316.0 368.4,315.0 369.3,315.4 370.2,316.1 371.1,316.0 372.0,315.5 372.9,317.0 373.8,317.9 374.7,315.8 375.6,315.9 376.6,318.1 377.5,317.5 378.4,320.4 379.3,317.5 380.2,319.9 381.1,319.4 382.0,317.3 382.9,320.6 383.8,319.7 384.7,321.0 385.6,322.0 386.6,321.6 387.5,320.6 388.4,322.3 389.3,321.9 390.2,321.0 391.1,322.0 392.0,323.3 392.9,321.1 393.8,322.5 394.7,321.6 395.6,324.1 396.5,321.9 397.5,324.8 398.4,325.4 399.3,324.5 400.2,324.7 401.1,324.4 402.0,325.3 402.9,324.5 403.8,324.1 404.7,326.1 405.6,327.0 406.5,326.4 407.5,325.5 408.4,325.7 409.3,327.0 410.2,327.8 411.1,327.2 412.0,326.5 412.9,328.2 413.8,326.6 414.7,327.8 415.6,328.0 416.5,329.0 417.5,327.4 418.4,328.8 419.3,330.4 420.2,328.6 421.1,329.9 422.0,328.7 422.9,329.8 423.8,330.7 424.7,330.2 425.6,330.9 426.5,331.4 427.5,330.9 428.4,330.4 429.3,331.2 430.2,331.6 431.1,332.2 432.0,331.4 432.9,331.8 433.8,331.4 434.7,332.1 435.6,330.7 436.5,334.2 437.5,333.0 438.4,332.7 439.3,332.5 440.2,334.9 441.1,334.8" fill="none" stroke="#4a7bc8" stroke-width="1.2" marker-start="url(#meD)" marker-mid="url(#meD)" marker-end="url(#meD)"/>
<polyline points="260.2,201.7 261.1,205.7 262.0,210.4 262.9,217.1 263.8,219.7 264.7,222.7 265.7,227.3 266.6,231.7 267.5,234.6 268.4,238.2 269.3,238.7 270.2,242.7 271.1,245.4 272.0,248.2 272.9,249.8 273.8,252.6 274.7,254.7 275.7,255.8 276.6,257.8 277.5,258.9 278.4,260.8 279.3,261.4 280.2,264.0 281.1,265.2 282.0,266.6 282.9,268.8 283.8,268.2 284.7,271.0 285.7,273.0 286.6,271.6 287.5,273.2 288.4,275.3 289.3,274.9 290.2,275.8 291.1,277.0 292.0,279.5 292.9,279.2 293.8,281.1 294.7,281.5 295.7,282.2 296.6,283.3 297.5,282.8 298.4,284.7 299.3,284.1 300.2,285.2 301.1,286.5 302.0,286.5 302.9,286.7 303.8,286.9 304.7,288.7 305.7,287.6 306.6,289.2 307.5,289.2 308.4,292.0 309.3,292.3 310.2,290.9 311.1,292.7 312.0,292.6 312.9,292.5 313.8,295.3 314.7,294.1 315.6,293.3 316.6,294.8 317.5,295.9 318.4,296.0 319.3,297.0 320.2,296.8 321.1,296.8 322.0,298.6 322.9,298.3 323.8,299.0 324.7,299.1 325.6,299.4 326.6,301.5 327.5,300.0 328.4,300.7 329.3,302.8 330.2,302.5 331.1,304.0 332.0,303.4 332.9,303.2 333.8,305.0 334.7,305.0 335.6,305.5 336.6,305.7 337.5,306.2 338.4,306.9 339.3,305.8 340.2,306.9 341.1,307.8 342.0,306.6 342.9,308.3 343.8,307.4 344.7,309.6 345.6,307.7 346.6,309.7 347.5,310.5 348.4,309.6 349.3,311.5 350.2,311.7 351.1,310.8 352.0,311.8 352.9,311.4 353.8,311.9 354.7,312.2 355.6,312.6 356.6,312.5 357.5,313.4 358.4,312.8 359.3,313.2 360.2,316.1 361.1,316.3 362.0,313.7 362.9,315.8 363.8,315.5 364.7,316.1 365.6,316.1 366.6,314.7 367.5,317.5 368.4,317.2 369.3,317.5 370.2,318.8 371.1,318.9 372.0,318.7 372.9,318.7 373.8,318.7 374.7,321.0 375.6,321.0 376.6,318.4 377.5,320.3 378.4,319.7 379.3,321.1 380.2,321.6 381.1,319.4 382.0,322.7 382.9,322.7 383.8,321.5 384.7,322.4 385.6,324.1 386.6,322.8 387.5,322.5 388.4,324.8 389.3,324.2 390.2,323.3 391.1,322.5 392.0,326.5 392.9,325.4 393.8,325.0 394.7,326.1 395.6,326.3 396.5,326.2 397.5,325.5 398.4,327.2 399.3,325.7 400.2,326.0 401.1,326.2 402.0,325.8 402.9,327.9 403.8,327.7 404.7,327.0 405.6,327.0 406.5,327.5 407.5,329.0 408.4,329.3 409.3,330.2 410.2,329.7 411.1,330.3 412.0,330.1 412.9,330.3 413.8,329.4 414.7,329.6 415.6,330.6 416.5,331.8 417.5,331.1 418.4,330.8 419.3,330.7 420.2,331.5 421.1,331.1 422.0,332.6 422.9,331.7 423.8,331.8 424.7,333.0 425.6,333.5 426.5,332.0 427.5,334.1 428.4,332.8 429.3,333.9 430.2,334.1 431.1,334.3 432.0,334.6 432.9,334.4 433.8,333.0 434.7,333.5 435.6,335.1 436.5,334.7 437.5,334.5 438.4,335.9 439.3,334.1 440.2,335.9 441.1,335.5" fill="none" stroke="#4a7bc8" stroke-width="1.2" marker-start="url(#meD)" marker-mid="url(#meD)" marker-end="url(#meD)"/>
<path d="M260.20,196.95 L261.11,204.27 L262.02,211.21 L262.93,217.78 L263.84,224.01 L264.75,229.91 L265.65,235.51 L266.56,240.80 L267.47,245.83 L268.38,250.59 L269.29,255.10 L270.20,259.37 L271.11,263.42 L272.02,267.27 L272.93,270.91 L273.83,274.36 L274.74,277.63 L275.65,280.73 L276.56,283.67 L277.47,286.46 L278.38,289.11 L279.29,291.61 L280.20,293.99 L281.11,296.25 L282.02,298.39 L282.93,300.41 L283.83,302.34 L284.74,304.17 L285.65,305.90 L286.56,307.54 L287.47,309.10 L288.38,310.58 L289.29,311.99 L290.20,313.32 L291.11,314.59 L292.01,315.79 L292.92,316.93 L293.83,318.02 L294.74,319.05 L295.65,320.03 L296.56,320.96 L297.47,321.84 L298.38,322.68 L299.29,323.48 L300.20,324.24 L301.11,324.96 L302.01,325.64 L302.92,326.30 L303.83,326.92 L304.74,327.51 L305.65,328.07 L306.56,328.61 L307.47,329.12 L308.38,329.60 L309.29,330.06 L310.19,330.51 L311.10,330.93 L312.01,331.33 L312.92,331.71 L313.83,332.07 L314.74,332.42 L315.65,332.76 L316.56,333.07 L317.47,333.38 L318.38,333.67 L319.28,333.94 L320.19,334.21 L321.10,334.46 L322.01,334.70 L322.92,334.94 L323.83,335.16 L324.74,335.37 L325.65,335.58 L326.56,335.77 L327.47,335.96 L328.38,336.14 L329.28,336.31 L330.19,336.48 L331.10,336.64 L332.01,336.79 L332.92,336.94 L333.83,337.08 L334.74,337.22 L335.65,337.35 L336.56,337.48 L337.46,337.60 L338.37,337.72 L339.28,337.84 L340.19,337.95 L341.10,338.06 L342.01,338.16 L342.92,338.26 L343.83,338.36 L344.74,338.45 L345.65,338.54 L346.56,338.63 L347.46,338.72 L348.37,338.80 L349.28,338.88 L350.19,338.96 L351.10,339.04 L352.01,339.11 L352.92,339.19 L353.83,339.26 L354.74,339.33 L355.64,339.40 L356.55,339.46 L357.46,339.53 L358.37,339.59 L359.28,339.65 L360.19,339.71 L361.10,339.77 L362.01,339.83 L362.92,339.88 L363.83,339.94 L364.74,339.99 L365.64,340.05 L366.55,340.10 L367.46,340.15 L368.37,340.20 L369.28,340.25 L370.19,340.30 L371.10,340.35 L372.01,340.39 L372.92,340.44 L373.82,340.48 L374.73,340.53 L375.64,340.57 L376.55,340.62 L377.46,340.66 L378.37,340.70 L379.28,340.74 L380.19,340.78 L381.10,340.83 L382.01,340.87 L382.91,340.90 L383.82,340.94 L384.73,340.98 L385.64,341.02 L386.55,341.06 L387.46,341.10 L388.37,341.13 L389.28,341.17 L390.19,341.20 L391.10,341.24 L392.00,341.27 L392.91,341.31 L393.82,341.34 L394.73,341.38 L395.64,341.41 L396.55,341.45 L397.46,341.48 L398.37,341.51 L399.28,341.54 L400.19,341.58 L401.09,341.61 L402.00,341.64 L402.91,341.67 L403.82,341.70 L404.73,341.73 L405.64,341.76 L406.55,341.79 L407.46,341.82 L408.37,341.85 L409.28,341.88 L410.19,341.91 L411.09,341.94 L412.00,341.97 L412.91,342.00 L413.82,342.02 L414.73,342.05 L415.64,342.08 L416.55,342.11 L417.46,342.13 L418.37,342.16 L419.27,342.19 L420.18,342.22 L421.09,342.24 L422.00,342.27 L422.91,342.29 L423.82,342.32 L424.73,342.35 L425.64,342.37 L426.55,342.40 L427.46,342.42 L428.37,342.45 L429.27,342.47 L430.18,342.50 L431.09,342.52 L432.00,342.54 L432.91,342.57 L433.82,342.59 L434.73,342.62 L435.64,342.64 L436.55,342.66 L437.45,342.68 L438.36,342.71 L439.27,342.73 L440.18,342.75 L441.09,342.78 L442.00,342.80" fill="none" stroke="#e6d2d6" stroke-width="1.1"/>
<path d="M260.20,200.56 L261.11,205.55 L262.02,210.22 L262.93,214.60 L263.84,218.71 L264.75,222.57 L265.65,226.20 L266.56,229.60 L267.47,232.81 L268.38,235.83 L269.29,238.67 L270.20,241.35 L271.11,243.88 L272.02,246.27 L272.93,248.52 L273.83,250.66 L274.74,252.68 L275.65,254.60 L276.56,256.42 L277.47,258.14 L278.38,259.79 L279.29,261.35 L280.20,262.84 L281.11,264.26 L282.02,265.62 L282.93,266.91 L283.83,268.15 L284.74,269.34 L285.65,270.48 L286.56,271.58 L287.47,272.63 L288.38,273.65 L289.29,274.62 L290.20,275.56 L291.11,276.47 L292.01,277.35 L292.92,278.21 L293.83,279.03 L294.74,279.83 L295.65,280.61 L296.56,281.36 L297.47,282.10 L298.38,282.81 L299.29,283.51 L300.20,284.19 L301.11,284.86 L302.01,285.51 L302.92,286.14 L303.83,286.76 L304.74,287.37 L305.65,287.97 L306.56,288.56 L307.47,289.13 L308.38,289.70 L309.29,290.25 L310.19,290.80 L311.10,291.33 L312.01,291.86 L312.92,292.38 L313.83,292.90 L314.74,293.41 L315.65,293.90 L316.56,294.40 L317.47,294.88 L318.38,295.37 L319.28,295.84 L320.19,296.31 L321.10,296.77 L322.01,297.23 L322.92,297.69 L323.83,298.14 L324.74,298.58 L325.65,299.02 L326.56,299.46 L327.47,299.89 L328.38,300.31 L329.28,300.74 L330.19,301.16 L331.10,301.57 L332.01,301.98 L332.92,302.39 L333.83,302.80 L334.74,303.20 L335.65,303.60 L336.56,303.99 L337.46,304.38 L338.37,304.77 L339.28,305.16 L340.19,305.54 L341.10,305.92 L342.01,306.29 L342.92,306.67 L343.83,307.04 L344.74,307.41 L345.65,307.77 L346.56,308.13 L347.46,308.49 L348.37,308.85 L349.28,309.20 L350.19,309.55 L351.10,309.90 L352.01,310.25 L352.92,310.59 L353.83,310.94 L354.74,311.28 L355.64,311.61 L356.55,311.95 L357.46,312.28 L358.37,312.61 L359.28,312.94 L360.19,313.26 L361.10,313.59 L362.01,313.91 L362.92,314.22 L363.83,314.54 L364.74,314.85 L365.64,315.17 L366.55,315.48 L367.46,315.78 L368.37,316.09 L369.28,316.39 L370.19,316.70 L371.10,316.99 L372.01,317.29 L372.92,317.59 L373.82,317.88 L374.73,318.17 L375.64,318.46 L376.55,318.75 L377.46,319.03 L378.37,319.32 L379.28,319.60 L380.19,319.88 L381.10,320.16 L382.01,320.43 L382.91,320.71 L383.82,320.98 L384.73,321.25 L385.64,321.52 L386.55,321.79 L387.46,322.05 L388.37,322.31 L389.28,322.58 L390.19,322.84 L391.10,323.09 L392.00,323.35 L392.91,323.60 L393.82,323.86 L394.73,324.11 L395.64,324.36 L396.55,324.61 L397.46,324.85 L398.37,325.10 L399.28,325.34 L400.19,325.58 L401.09,325.82 L402.00,326.06 L402.91,326.29 L403.82,326.53 L404.73,326.76 L405.64,326.99 L406.55,327.22 L407.46,327.45 L408.37,327.68 L409.28,327.91 L410.19,328.13 L411.09,328.35 L412.00,328.57 L412.91,328.79 L413.82,329.01 L414.73,329.23 L415.64,329.44 L416.55,329.66 L417.46,329.87 L418.37,330.08 L419.27,330.29 L420.18,330.50 L421.09,330.70 L422.00,330.91 L422.91,331.11 L423.82,331.32 L424.73,331.52 L425.64,331.72 L426.55,331.92 L427.46,332.11 L428.37,332.31 L429.27,332.50 L430.18,332.70 L431.09,332.89 L432.00,333.08 L432.91,333.27 L433.82,333.46 L434.73,333.65 L435.64,333.83 L436.55,334.02 L437.45,334.20 L438.36,334.38 L439.27,334.56 L440.18,334.74 L441.09,334.92 L442.00,335.10" fill="none" stroke="#d9535b" stroke-width="1.1"/>
<rect x="260.20" y="199.30" width="181.80" height="146.70" fill="none" stroke="#222" stroke-width="1"/>
<line x1="260.20" y1="346.00" x2="260.20" y2="343.30" stroke="#222" stroke-width="1" />
<line x1="290.50" y1="346.00" x2="290.50" y2="343.30" stroke="#222" stroke-width="1" />
<line x1="320.80" y1="346.00" x2="320.80" y2="343.30" stroke="#222" stroke-width="1" />
<line x1="351.10" y1="346.00" x2="351.10" y2="343.30" stroke="#222" stroke-width="1" />
<line x1="381.40" y1="346.00" x2="381.40" y2="343.30" stroke="#222" stroke-width="1" />
<line x1="411.70" y1="346.00" x2="411.70" y2="343.30" stroke="#222" stroke-width="1" />
<line x1="442.00" y1="346.00" x2="442.00" y2="343.30" stroke="#222" stroke-width="1" />
<line x1="275.35" y1="346.00" x2="275.35" y2="344.50" stroke="#222" stroke-width="1" />
<line x1="305.65" y1="346.00" x2="305.65" y2="344.50" stroke="#222" stroke-width="1" />
<line x1="335.95" y1="346.00" x2="335.95" y2="344.50" stroke="#222" stroke-width="1" />
<line x1="366.25" y1="346.00" x2="366.25" y2="344.50" stroke="#222" stroke-width="1" />
<line x1="396.55" y1="346.00" x2="396.55" y2="344.50" stroke="#222" stroke-width="1" />
<line x1="426.85" y1="346.00" x2="426.85" y2="344.50" stroke="#222" stroke-width="1" />
<text x="260.20" y="356.50" text-anchor="middle" style="font-size:9.5px;font-weight:bold;fill:#111;" >0</text>
<text x="290.50" y="356.50" text-anchor="middle" style="font-size:9.5px;font-weight:bold;fill:#111;" >1</text>
<text x="320.80" y="356.50" text-anchor="middle" style="font-size:9.5px;font-weight:bold;fill:#111;" >2</text>
<text x="351.10" y="356.50" text-anchor="middle" style="font-size:9.5px;font-weight:bold;fill:#111;" >3</text>
<text x="381.40" y="356.50" text-anchor="middle" style="font-size:9.5px;font-weight:bold;fill:#111;" >4</text>
<text x="411.70" y="356.50" text-anchor="middle" style="font-size:9.5px;font-weight:bold;fill:#111;" >5</text>
<text x="442.00" y="356.50" text-anchor="middle" style="font-size:9.5px;font-weight:bold;fill:#111;" >6</text>
<line x1="260.20" y1="346.00" x2="262.90" y2="346.00" stroke="#222" stroke-width="1" />
<line x1="260.20" y1="316.66" x2="262.90" y2="316.66" stroke="#222" stroke-width="1" />
<line x1="260.20" y1="287.32" x2="262.90" y2="287.32" stroke="#222" stroke-width="1" />
<line x1="260.20" y1="257.98" x2="262.90" y2="257.98" stroke="#222" stroke-width="1" />
<line x1="260.20" y1="228.64" x2="262.90" y2="228.64" stroke="#222" stroke-width="1" />
<line x1="260.20" y1="199.30" x2="262.90" y2="199.30" stroke="#222" stroke-width="1" />
<line x1="260.20" y1="331.33" x2="261.70" y2="331.33" stroke="#222" stroke-width="1" />
<line x1="260.20" y1="301.99" x2="261.70" y2="301.99" stroke="#222" stroke-width="1" />
<line x1="260.20" y1="272.65" x2="261.70" y2="272.65" stroke="#222" stroke-width="1" />
<line x1="260.20" y1="243.31" x2="261.70" y2="243.31" stroke="#222" stroke-width="1" />
<line x1="260.20" y1="213.97" x2="261.70" y2="213.97" stroke="#222" stroke-width="1" />
<text x="257.20" y="348.95" text-anchor="end" style="font-size:9.5px;font-weight:bold;fill:#111;" >0.0</text>
<text x="257.20" y="319.61" text-anchor="end" style="font-size:9.5px;font-weight:bold;fill:#111;" >0.2</text>
<text x="257.20" y="290.27" text-anchor="end" style="font-size:9.5px;font-weight:bold;fill:#111;" >0.4</text>
<text x="257.20" y="260.93" text-anchor="end" style="font-size:9.5px;font-weight:bold;fill:#111;" >0.6</text>
<text x="257.20" y="231.59" text-anchor="end" style="font-size:9.5px;font-weight:bold;fill:#111;" >0.8</text>
<text x="257.20" y="202.25" text-anchor="end" style="font-size:9.5px;font-weight:bold;fill:#111;" >1.0</text>
<text x="230.00" y="197.00" text-anchor="start" style="font-size:17.5px;font-weight:bold;fill:#111;" >e</text>
<text x="351.10" y="369.50" text-anchor="middle" style="font-size:10.9px;font-weight:bold;fill:#111;" >Time (ms)</text>
<text transform="translate(240.20,272.60) rotate(-90)" text-anchor="middle" style="font-size:11.0px;font-weight:bold;fill:#111;" >Normalized photovoltage</text>
<line x1="368.50" y1="207.50" x2="389.50" y2="207.50" stroke="#8ccbea" stroke-width="1.0" />
<circle cx="379.00" cy="207.50" r="1.3" fill="#d6effa" stroke="#8ccbea" stroke-width="0.7"/>
<line x1="368.50" y1="219.20" x2="389.50" y2="219.20" stroke="#4f7fca" stroke-width="1.0" />
<circle cx="379.00" cy="219.20" r="1.3" fill="#7ea6e0" stroke="#4f7fca" stroke-width="0.7"/>
<line x1="368.50" y1="233.00" x2="389.50" y2="233.00" stroke="#f8d6d6" stroke-width="1.1" />
<line x1="368.50" y1="244.70" x2="389.50" y2="244.70" stroke="#e35d5d" stroke-width="1.3" />
<text x="392.00" y="210.60" text-anchor="start" style="font-size:9.3px;font-weight:bold;fill:#111;" >Control</text>
<text x="392.00" y="222.30" text-anchor="start" style="font-size:9.3px;font-weight:bold;fill:#111;" >With Ta<tspan dy="3.07" font-size="6.32">2</tspan><tspan dy="-3.07">O</tspan><tspan dy="3.07" font-size="6.32">5</tspan></text>
<text x="392.00" y="236.60" text-anchor="start" style="font-size:9.3px;font-weight:bold;fill:#111;" >Fitting line</text>
<text x="392.00" y="248.10" text-anchor="start" style="font-size:9.3px;font-weight:bold;fill:#111;" >Fitting line</text>
<text x="320.3" y="269.4" style="font-size:9.3px;font-weight:bold;fill:#8ccbea"><tspan font-weight="normal">τ</tspan><tspan dy="2.4" font-size="6.5">TPV</tspan><tspan dy="-2.4">=953 μs</tspan></text>
<text x="320.3" y="284.3" style="font-size:9.3px;font-weight:bold;fill:#4f7fca"><tspan font-weight="normal">τ</tspan><tspan dy="2.4" font-size="6.5">TPV</tspan><tspan dy="-2.4">=3238 μs</tspan></text>
<defs><clipPath id="clipF"><rect x="487.5" y="199.7" width="186.5" height="146.2"/></clipPath></defs>
<g clip-path="url(#clipF)">
<polyline points="487.50,308.25 493.24,307.89 498.98,307.52 504.72,307.52 510.45,307.16 516.19,307.16 521.93,306.79 527.67,306.79 533.41,306.79 539.15,306.43 544.88,306.06 550.62,305.69 556.36,305.33 562.10,304.60 567.84,303.87 573.58,301.31 579.32,299.85 585.05,298.75 590.79,297.29 596.53,294.73 602.27,291.81 608.01,287.79 613.75,282.67 619.48,274.26 625.22,261.83 630.96,246.12 636.70,220.53 641.00,196.05" fill="none" stroke="#86c6e6" stroke-width="1.0" stroke-linejoin="round" />
<polyline points="487.50,337.13 493.24,336.76 498.98,336.40 504.72,336.03 510.45,336.03 516.19,335.67 521.93,335.67 527.67,335.30 533.41,334.93 539.15,334.57 544.88,334.20 550.62,333.47 556.36,333.11 562.10,332.74 567.84,332.01 573.58,330.55 579.32,329.45 585.05,327.99 590.79,326.53 596.53,324.34 602.27,321.41 608.01,318.49 613.75,314.47 619.48,309.35 625.22,302.41 630.96,290.34 636.70,277.92 642.44,256.35 648.18,230.40 653.92,201.53" fill="none" stroke="#4a7bc8" stroke-width="1.0" stroke-linejoin="round" />
<circle cx="487.50" cy="308.25" r="1.75" fill="url(#gL)"/>
<circle cx="493.24" cy="307.89" r="1.75" fill="url(#gL)"/>
<circle cx="498.98" cy="307.52" r="1.75" fill="url(#gL)"/>
<circle cx="504.72" cy="307.52" r="1.75" fill="url(#gL)"/>
<circle cx="510.45" cy="307.16" r="1.75" fill="url(#gL)"/>
<circle cx="516.19" cy="307.16" r="1.75" fill="url(#gL)"/>
<circle cx="521.93" cy="306.79" r="1.75" fill="url(#gL)"/>
<circle cx="527.67" cy="306.79" r="1.75" fill="url(#gL)"/>
<circle cx="533.41" cy="306.79" r="1.75" fill="url(#gL)"/>
<circle cx="539.15" cy="306.43" r="1.75" fill="url(#gL)"/>
<circle cx="544.88" cy="306.06" r="1.75" fill="url(#gL)"/>
<circle cx="550.62" cy="305.69" r="1.75" fill="url(#gL)"/>
<circle cx="556.36" cy="305.33" r="1.75" fill="url(#gL)"/>
<circle cx="562.10" cy="304.60" r="1.75" fill="url(#gL)"/>
<circle cx="567.84" cy="303.87" r="1.75" fill="url(#gL)"/>
<circle cx="573.58" cy="301.31" r="1.75" fill="url(#gL)"/>
<circle cx="579.32" cy="299.85" r="1.75" fill="url(#gL)"/>
<circle cx="585.05" cy="298.75" r="1.75" fill="url(#gL)"/>
<circle cx="590.79" cy="297.29" r="1.75" fill="url(#gL)"/>
<circle cx="596.53" cy="294.73" r="1.75" fill="url(#gL)"/>
<circle cx="602.27" cy="291.81" r="1.75" fill="url(#gL)"/>
<circle cx="608.01" cy="287.79" r="1.75" fill="url(#gL)"/>
<circle cx="613.75" cy="282.67" r="1.75" fill="url(#gL)"/>
<circle cx="619.48" cy="274.26" r="1.75" fill="url(#gL)"/>
<circle cx="625.22" cy="261.83" r="1.75" fill="url(#gL)"/>
<circle cx="630.96" cy="246.12" r="1.75" fill="url(#gL)"/>
<circle cx="636.70" cy="220.53" r="1.75" fill="url(#gL)"/>
<circle cx="487.50" cy="337.13" r="1.75" fill="url(#gD)"/>
<circle cx="493.24" cy="336.76" r="1.75" fill="url(#gD)"/>
<circle cx="498.98" cy="336.40" r="1.75" fill="url(#gD)"/>
<circle cx="504.72" cy="336.03" r="1.75" fill="url(#gD)"/>
<circle cx="510.45" cy="336.03" r="1.75" fill="url(#gD)"/>
<circle cx="516.19" cy="335.67" r="1.75" fill="url(#gD)"/>
<circle cx="521.93" cy="335.67" r="1.75" fill="url(#gD)"/>
<circle cx="527.67" cy="335.30" r="1.75" fill="url(#gD)"/>
<circle cx="533.41" cy="334.93" r="1.75" fill="url(#gD)"/>
<circle cx="539.15" cy="334.57" r="1.75" fill="url(#gD)"/>
<circle cx="544.88" cy="334.20" r="1.75" fill="url(#gD)"/>
<circle cx="550.62" cy="333.47" r="1.75" fill="url(#gD)"/>
<circle cx="556.36" cy="333.11" r="1.75" fill="url(#gD)"/>
<circle cx="562.10" cy="332.74" r="1.75" fill="url(#gD)"/>
<circle cx="567.84" cy="332.01" r="1.75" fill="url(#gD)"/>
<circle cx="573.58" cy="330.55" r="1.75" fill="url(#gD)"/>
<circle cx="579.32" cy="329.45" r="1.75" fill="url(#gD)"/>
<circle cx="585.05" cy="327.99" r="1.75" fill="url(#gD)"/>
<circle cx="590.79" cy="326.53" r="1.75" fill="url(#gD)"/>
<circle cx="596.53" cy="324.34" r="1.75" fill="url(#gD)"/>
<circle cx="602.27" cy="321.41" r="1.75" fill="url(#gD)"/>
<circle cx="608.01" cy="318.49" r="1.75" fill="url(#gD)"/>
<circle cx="613.75" cy="314.47" r="1.75" fill="url(#gD)"/>
<circle cx="619.48" cy="309.35" r="1.75" fill="url(#gD)"/>
<circle cx="625.22" cy="302.41" r="1.75" fill="url(#gD)"/>
<circle cx="630.96" cy="290.34" r="1.75" fill="url(#gD)"/>
<circle cx="636.70" cy="277.92" r="1.75" fill="url(#gD)"/>
<circle cx="642.44" cy="256.35" r="1.75" fill="url(#gD)"/>
<circle cx="648.18" cy="230.40" r="1.75" fill="url(#gD)"/>
<circle cx="653.92" cy="201.53" r="1.75" fill="url(#gD)"/>
</g>
<rect x="487.50" y="199.70" width="186.50" height="146.20" fill="none" stroke="#222" stroke-width="1"/>
<line x1="487.50" y1="345.90" x2="487.50" y2="343.20" stroke="#222" stroke-width="1" />
<line x1="516.19" y1="345.90" x2="516.19" y2="343.20" stroke="#222" stroke-width="1" />
<line x1="544.88" y1="345.90" x2="544.88" y2="343.20" stroke="#222" stroke-width="1" />
<line x1="573.58" y1="345.90" x2="573.58" y2="343.20" stroke="#222" stroke-width="1" />
<line x1="602.27" y1="345.90" x2="602.27" y2="343.20" stroke="#222" stroke-width="1" />
<line x1="630.96" y1="345.90" x2="630.96" y2="343.20" stroke="#222" stroke-width="1" />
<line x1="659.65" y1="345.90" x2="659.65" y2="343.20" stroke="#222" stroke-width="1" />
<line x1="501.85" y1="345.90" x2="501.85" y2="344.40" stroke="#222" stroke-width="1" />
<line x1="530.54" y1="345.90" x2="530.54" y2="344.40" stroke="#222" stroke-width="1" />
<line x1="559.23" y1="345.90" x2="559.23" y2="344.40" stroke="#222" stroke-width="1" />
<line x1="587.92" y1="345.90" x2="587.92" y2="344.40" stroke="#222" stroke-width="1" />
<line x1="616.62" y1="345.90" x2="616.62" y2="344.40" stroke="#222" stroke-width="1" />
<line x1="645.31" y1="345.90" x2="645.31" y2="344.40" stroke="#222" stroke-width="1" />
<text x="487.50" y="356.40" text-anchor="middle" style="font-size:9.5px;font-weight:bold;fill:#111;" >0.0</text>
<text x="516.19" y="356.40" text-anchor="middle" style="font-size:9.5px;font-weight:bold;fill:#111;" >0.1</text>
<text x="544.88" y="356.40" text-anchor="middle" style="font-size:9.5px;font-weight:bold;fill:#111;" >0.2</text>
<text x="573.58" y="356.40" text-anchor="middle" style="font-size:9.5px;font-weight:bold;fill:#111;" >0.3</text>
<text x="602.27" y="356.40" text-anchor="middle" style="font-size:9.5px;font-weight:bold;fill:#111;" >0.4</text>
<text x="630.96" y="356.40" text-anchor="middle" style="font-size:9.5px;font-weight:bold;fill:#111;" >0.5</text>
<text x="659.65" y="356.40" text-anchor="middle" style="font-size:9.5px;font-weight:bold;fill:#111;" >0.6</text>
<line x1="487.50" y1="345.90" x2="490.20" y2="345.90" stroke="#222" stroke-width="1" />
<line x1="487.50" y1="309.35" x2="490.20" y2="309.35" stroke="#222" stroke-width="1" />
<line x1="487.50" y1="272.80" x2="490.20" y2="272.80" stroke="#222" stroke-width="1" />
<line x1="487.50" y1="236.25" x2="490.20" y2="236.25" stroke="#222" stroke-width="1" />
<line x1="487.50" y1="199.70" x2="490.20" y2="199.70" stroke="#222" stroke-width="1" />
<line x1="487.50" y1="327.62" x2="489.00" y2="327.62" stroke="#222" stroke-width="1" />
<line x1="487.50" y1="291.07" x2="489.00" y2="291.07" stroke="#222" stroke-width="1" />
<line x1="487.50" y1="254.52" x2="489.00" y2="254.52" stroke="#222" stroke-width="1" />
<line x1="487.50" y1="217.97" x2="489.00" y2="217.97" stroke="#222" stroke-width="1" />
<text x="484.50" y="348.85" text-anchor="end" style="font-size:9.5px;font-weight:bold;fill:#111;" >8</text>
<text x="484.50" y="312.30" text-anchor="end" style="font-size:9.5px;font-weight:bold;fill:#111;" >9</text>
<text x="484.50" y="275.75" text-anchor="end" style="font-size:9.5px;font-weight:bold;fill:#111;" >10</text>
<text x="484.50" y="239.20" text-anchor="end" style="font-size:9.5px;font-weight:bold;fill:#111;" >11</text>
<text x="484.50" y="202.65" text-anchor="end" style="font-size:9.5px;font-weight:bold;fill:#111;" >12</text>
<text x="461.50" y="197.50" text-anchor="start" style="font-size:17.5px;font-weight:bold;fill:#111;" >f</text>
<text x="580.80" y="369.50" text-anchor="middle" style="font-size:10.9px;font-weight:bold;fill:#111;" >Potential (V)</text>
<text transform="translate(469.00,273.60) rotate(-90)" text-anchor="middle" style="font-size:11.0px;font-weight:bold;fill:#111;" >Capacitance (nF)</text>
<line x1="496.00" y1="208.70" x2="517.50" y2="208.70" stroke="#86c6e6" stroke-width="1.0" />
<circle cx="506.7" cy="208.7" r="1.6" fill="url(#gL)"/>
<line x1="496.00" y1="221.00" x2="517.50" y2="221.00" stroke="#4a7bc8" stroke-width="1.0" />
<circle cx="506.7" cy="221.0" r="1.6" fill="url(#gD)"/>
<text x="520.00" y="212.30" text-anchor="start" style="font-size:9.3px;font-weight:bold;fill:#111;" >Control</text>
<text x="520.00" y="224.60" text-anchor="start" style="font-size:9.3px;font-weight:bold;fill:#111;" >With Ta<tspan dy="3.07" font-size="6.32">2</tspan><tspan dy="-3.07">O</tspan><tspan dy="3.07" font-size="6.32">5</tspan></text>
<line x1="175.30" y1="452.50" x2="175.30" y2="530.00" stroke="#f07070" stroke-width="0.8" stroke-dasharray="2,1.3"/>
<line x1="112.50" y1="493.50" x2="174.00" y2="528.60" stroke="#f07a7a" stroke-width="0.9" />
<path d="M174.00,528.60 L169.46,528.08 L171.24,524.95 Z" fill="#f07a7a"/>
<polyline points="124.50,507.10 128.80,505.30 132.20,502.80 135.60,500.30 138.90,497.80 141.40,495.80 144.40,493.80 147.20,490.70 149.70,488.70 152.20,487.00 154.70,485.20 157.80,488.70 161.00,478.90 163.30,454.30 165.30,466.80 167.80,475.60 170.30,455.50 172.10,443.70 174.90,453.00 177.10,432.90 177.90,388.30 179.40,405.20 180.70,398.90 181.70,416.50" fill="none" stroke="#86c6e6" stroke-width="0.8" stroke-linejoin="round" />
<path d="M123.2,505.8h2.7v2.7h-2.7zM127.5,503.9h2.7v2.7h-2.7zM130.8,501.4h2.7v2.7h-2.7zM134.2,498.9h2.7v2.7h-2.7zM137.6,496.4h2.7v2.7h-2.7zM140.1,494.4h2.7v2.7h-2.7zM143.1,492.4h2.7v2.7h-2.7zM145.8,489.3h2.7v2.7h-2.7zM148.3,487.3h2.7v2.7h-2.7zM150.8,485.6h2.7v2.7h-2.7zM153.3,483.8h2.7v2.7h-2.7zM156.5,487.3h2.7v2.7h-2.7zM159.7,477.5h2.7v2.7h-2.7zM162.0,452.9h2.7v2.7h-2.7zM164.0,465.4h2.7v2.7h-2.7zM166.5,474.2h2.7v2.7h-2.7zM169.0,454.1h2.7v2.7h-2.7zM170.8,442.3h2.7v2.7h-2.7zM173.6,451.6h2.7v2.7h-2.7zM175.8,431.5h2.7v2.7h-2.7zM176.6,386.9h2.7v2.7h-2.7zM178.1,403.8h2.7v2.7h-2.7zM179.3,397.5h2.7v2.7h-2.7zM180.3,415.1h2.7v2.7h-2.7z" fill="#fff" stroke="#86c6e6" stroke-width="0.7"/>
<polyline points="55.70,521.80 102.40,515.40 132.60,508.40 151.90,501.90 165.60,489.70 174.50,484.80 182.30,460.20 186.30,459.00 187.80,469.70" fill="none" stroke="#86c6e6" stroke-width="1.0" stroke-linejoin="round" />
<circle cx="55.7" cy="521.8" r="1.8" fill="#a9dbf1" stroke="#86c6e6" stroke-width="0.8"/>
<circle cx="102.4" cy="515.4" r="1.8" fill="#a9dbf1" stroke="#86c6e6" stroke-width="0.8"/>
<circle cx="132.6" cy="508.4" r="1.8" fill="#a9dbf1" stroke="#86c6e6" stroke-width="0.8"/>
<circle cx="151.9" cy="501.9" r="1.8" fill="#a9dbf1" stroke="#86c6e6" stroke-width="0.8"/>
<circle cx="165.6" cy="489.7" r="1.8" fill="#a9dbf1" stroke="#86c6e6" stroke-width="0.8"/>
<circle cx="174.5" cy="484.8" r="1.8" fill="#a9dbf1" stroke="#86c6e6" stroke-width="0.8"/>
<circle cx="182.3" cy="460.2" r="1.8" fill="#a9dbf1" stroke="#86c6e6" stroke-width="0.8"/>
<circle cx="186.3" cy="459.0" r="1.8" fill="#a9dbf1" stroke="#86c6e6" stroke-width="0.8"/>
<circle cx="187.8" cy="469.7" r="1.8" fill="#a9dbf1" stroke="#86c6e6" stroke-width="0.8"/>
<rect x="31.60" y="378.30" width="188.70" height="151.90" fill="none" stroke="#222" stroke-width="1"/>
<line x1="55.19" y1="530.20" x2="55.19" y2="527.20" stroke="#222" stroke-width="1" />
<line x1="102.36" y1="530.20" x2="102.36" y2="527.20" stroke="#222" stroke-width="1" />
<line x1="149.54" y1="530.20" x2="149.54" y2="527.20" stroke="#222" stroke-width="1" />
<line x1="196.71" y1="530.20" x2="196.71" y2="527.20" stroke="#222" stroke-width="1" />
<line x1="78.78" y1="530.20" x2="78.78" y2="528.70" stroke="#222" stroke-width="1" />
<line x1="125.95" y1="530.20" x2="125.95" y2="528.70" stroke="#222" stroke-width="1" />
<line x1="173.12" y1="530.20" x2="173.12" y2="528.70" stroke="#222" stroke-width="1" />
<text x="55.19" y="541.20" text-anchor="middle" style="font-size:9.5px;font-weight:bold;fill:#111;" >122.5</text>
<text x="102.36" y="541.20" text-anchor="middle" style="font-size:9.5px;font-weight:bold;fill:#111;" >123.0</text>
<text x="149.54" y="541.20" text-anchor="middle" style="font-size:9.5px;font-weight:bold;fill:#111;" >123.5</text>
<text x="196.71" y="541.20" text-anchor="middle" style="font-size:9.5px;font-weight:bold;fill:#111;" >124.0</text>
<line x1="31.60" y1="530.20" x2="34.80" y2="530.20" stroke="#222" stroke-width="1" />
<line x1="31.60" y1="512.33" x2="34.80" y2="512.33" stroke="#222" stroke-width="1" />
<line x1="31.60" y1="494.46" x2="34.80" y2="494.46" stroke="#222" stroke-width="1" />
<line x1="31.60" y1="476.59" x2="34.80" y2="476.59" stroke="#222" stroke-width="1" />
<line x1="31.60" y1="458.72" x2="34.80" y2="458.72" stroke="#222" stroke-width="1" />
<line x1="31.60" y1="440.85" x2="34.80" y2="440.85" stroke="#222" stroke-width="1" />
<line x1="31.60" y1="422.98" x2="34.80" y2="422.98" stroke="#222" stroke-width="1" />
<line x1="31.60" y1="405.11" x2="34.80" y2="405.11" stroke="#222" stroke-width="1" />
<line x1="31.60" y1="387.24" x2="34.80" y2="387.24" stroke="#222" stroke-width="1" />
<line x1="31.60" y1="521.26" x2="33.10" y2="521.26" stroke="#222" stroke-width="1" />
<line x1="31.60" y1="503.39" x2="33.10" y2="503.39" stroke="#222" stroke-width="1" />
<line x1="31.60" y1="485.52" x2="33.10" y2="485.52" stroke="#222" stroke-width="1" />
<line x1="31.60" y1="467.65" x2="33.10" y2="467.65" stroke="#222" stroke-width="1" />
<line x1="31.60" y1="449.78" x2="33.10" y2="449.78" stroke="#222" stroke-width="1" />
<line x1="31.60" y1="431.91" x2="33.10" y2="431.91" stroke="#222" stroke-width="1" />
<line x1="31.60" y1="414.04" x2="33.10" y2="414.04" stroke="#222" stroke-width="1" />
<line x1="31.60" y1="396.17" x2="33.10" y2="396.17" stroke="#222" stroke-width="1" />
<text x="28.60" y="533.15" text-anchor="end" style="font-size:9.5px;font-weight:bold;fill:#111;" >0</text>
<text x="28.60" y="515.28" text-anchor="end" style="font-size:9.5px;font-weight:bold;fill:#111;" >10</text>
<text x="28.60" y="497.41" text-anchor="end" style="font-size:9.5px;font-weight:bold;fill:#111;" >20</text>
<text x="28.60" y="479.54" text-anchor="end" style="font-size:9.5px;font-weight:bold;fill:#111;" >30</text>
<text x="28.60" y="461.67" text-anchor="end" style="font-size:9.5px;font-weight:bold;fill:#111;" >40</text>
<text x="28.60" y="443.80" text-anchor="end" style="font-size:9.5px;font-weight:bold;fill:#111;" >50</text>
<text x="28.60" y="425.93" text-anchor="end" style="font-size:9.5px;font-weight:bold;fill:#111;" >60</text>
<text x="28.60" y="408.06" text-anchor="end" style="font-size:9.5px;font-weight:bold;fill:#111;" >70</text>
<text x="28.60" y="390.19" text-anchor="end" style="font-size:9.5px;font-weight:bold;fill:#111;" >80</text>
<text x="1.50" y="370.00" text-anchor="start" style="font-size:17.5px;font-weight:bold;fill:#111;" >g</text>
<text x="125.60" y="554.50" text-anchor="middle" style="font-size:11.4px;font-weight:bold;fill:#111;" >Depth (nm)</text>
<text transform="translate(13.6,454.0) rotate(-90)" text-anchor="middle" style="font-size:11.4px;font-weight:bold;fill:#111">Doping Density (x10<tspan dy="-4.3" font-size="7.8">17</tspan><tspan dy="4.3"> cm</tspan><tspan dy="-4.3" font-size="7.8">-3</tspan><tspan dy="4.3">)</tspan></text>
<line x1="39.20" y1="385.90" x2="60.00" y2="385.90" stroke="#86c6e6" stroke-width="1.0" />
<circle cx="49.4" cy="385.9" r="1.7" fill="#fff" stroke="#86c6e6" stroke-width="0.8"/>
<line x1="39.20" y1="397.40" x2="60.00" y2="397.40" stroke="#86c6e6" stroke-width="1.0" />
<circle cx="49.4" cy="397.4" r="1.7" fill="#a9dbf1" stroke="#86c6e6" stroke-width="0.8"/>
<text x="62.60" y="388.60" text-anchor="start" style="font-size:9.0px;font-weight:bold;fill:#111;" >Control CV</text>
<text x="62.60" y="400.10" text-anchor="start" style="font-size:9.0px;font-weight:bold;fill:#111;" >Control DLCP</text>
<text x="76.80" y="479.80" text-anchor="start" style="font-size:9.0px;font-weight:bold;fill:#8ccbea;" >V=0</text>
<text x="76.80" y="491.30" text-anchor="start" style="font-size:9.0px;font-weight:bold;fill:#8ccbea;" >W<tspan dy="2.97" font-size="6.12">d</tspan><tspan dy="-2.97">=123.78 nm</tspan></text>
<line x1="406.70" y1="499.00" x2="406.70" y2="530.00" stroke="#f04040" stroke-width="0.8" stroke-dasharray="2,1.3"/>
<line x1="349.70" y1="493.30" x2="405.30" y2="528.40" stroke="#f03434" stroke-width="1.0" />
<path d="M405.30,528.40 L400.43,527.69 L402.56,524.31 Z" fill="#f03434"/>
<polyline points="325.60,521.40 333.70,521.10 341.70,520.60 348.90,519.00 356.10,518.20 362.60,517.70 368.20,516.90 373.00,516.20 377.80,515.30 382.60,514.20 386.60,513.00 390.70,511.40 393.90,510.10 397.10,508.50 400.30,506.60 403.50,504.00 406.70,501.30 409.10,498.90 410.70,496.50 413.10,493.80 414.70,490.90 416.00,488.00" fill="none" stroke="#4a7bc8" stroke-width="0.6" stroke-linejoin="round" />
<path d="M324.2,520.0h2.8v2.8h-2.8zM332.3,519.7h2.8v2.8h-2.8zM340.3,519.2h2.8v2.8h-2.8zM347.5,517.6h2.8v2.8h-2.8zM354.7,516.8h2.8v2.8h-2.8zM361.2,516.3h2.8v2.8h-2.8zM366.8,515.5h2.8v2.8h-2.8zM371.6,514.8h2.8v2.8h-2.8zM376.4,513.9h2.8v2.8h-2.8zM381.2,512.8h2.8v2.8h-2.8zM385.2,511.6h2.8v2.8h-2.8zM389.3,510.0h2.8v2.8h-2.8zM392.5,508.7h2.8v2.8h-2.8zM395.7,507.1h2.8v2.8h-2.8zM398.9,505.2h2.8v2.8h-2.8zM402.1,502.6h2.8v2.8h-2.8zM405.3,499.9h2.8v2.8h-2.8zM407.7,497.5h2.8v2.8h-2.8zM409.3,495.1h2.8v2.8h-2.8zM411.7,492.4h2.8v2.8h-2.8zM413.3,489.5h2.8v2.8h-2.8zM414.6,486.6h2.8v2.8h-2.8z" fill="#fff" stroke="#7ea6e0" stroke-width="0.6"/>
<polyline points="268.60,525.50 312.90,524.00 348.80,521.00 376.30,516.50 396.70,507.80 410.10,492.90 418.50,472.50 423.80,444.90 427.70,403.50" fill="none" stroke="#4a7bc8" stroke-width="1.0" stroke-linejoin="round" />
<circle cx="268.6" cy="525.5" r="1.6" fill="#a9c4ec" stroke="#4a7bc8" stroke-width="0.8"/>
<circle cx="312.9" cy="524.0" r="1.6" fill="#a9c4ec" stroke="#4a7bc8" stroke-width="0.8"/>
<circle cx="348.8" cy="521.0" r="1.6" fill="#a9c4ec" stroke="#4a7bc8" stroke-width="0.8"/>
<circle cx="376.3" cy="516.5" r="1.6" fill="#a9c4ec" stroke="#4a7bc8" stroke-width="0.8"/>
<circle cx="396.7" cy="507.8" r="1.6" fill="#a9c4ec" stroke="#4a7bc8" stroke-width="0.8"/>
<circle cx="410.1" cy="492.9" r="1.6" fill="#a9c4ec" stroke="#4a7bc8" stroke-width="0.8"/>
<circle cx="418.5" cy="472.5" r="1.6" fill="#a9c4ec" stroke="#4a7bc8" stroke-width="0.8"/>
<circle cx="423.8" cy="444.9" r="1.6" fill="#a9c4ec" stroke="#4a7bc8" stroke-width="0.8"/>
<circle cx="427.7" cy="403.5" r="1.6" fill="#a9c4ec" stroke="#4a7bc8" stroke-width="0.8"/>
<rect x="257.50" y="378.50" width="188.00" height="151.70" fill="none" stroke="#222" stroke-width="1"/>
<line x1="257.50" y1="530.20" x2="257.50" y2="527.20" stroke="#222" stroke-width="1" />
<line x1="300.42" y1="530.20" x2="300.42" y2="527.20" stroke="#222" stroke-width="1" />
<line x1="343.34" y1="530.20" x2="343.34" y2="527.20" stroke="#222" stroke-width="1" />
<line x1="386.27" y1="530.20" x2="386.27" y2="527.20" stroke="#222" stroke-width="1" />
<line x1="429.19" y1="530.20" x2="429.19" y2="527.20" stroke="#222" stroke-width="1" />
<line x1="278.96" y1="530.20" x2="278.96" y2="528.70" stroke="#222" stroke-width="1" />
<line x1="321.88" y1="530.20" x2="321.88" y2="528.70" stroke="#222" stroke-width="1" />
<line x1="364.81" y1="530.20" x2="364.81" y2="528.70" stroke="#222" stroke-width="1" />
<line x1="407.73" y1="530.20" x2="407.73" y2="528.70" stroke="#222" stroke-width="1" />
<text x="257.50" y="541.20" text-anchor="middle" style="font-size:9.5px;font-weight:bold;fill:#111;" >135</text>
<text x="300.42" y="541.20" text-anchor="middle" style="font-size:9.5px;font-weight:bold;fill:#111;" >140</text>
<text x="343.34" y="541.20" text-anchor="middle" style="font-size:9.5px;font-weight:bold;fill:#111;" >145</text>
<text x="386.27" y="541.20" text-anchor="middle" style="font-size:9.5px;font-weight:bold;fill:#111;" >150</text>
<text x="429.19" y="541.20" text-anchor="middle" style="font-size:9.5px;font-weight:bold;fill:#111;" >155</text>
<line x1="257.50" y1="530.20" x2="260.70" y2="530.20" stroke="#222" stroke-width="1" />
<line x1="257.50" y1="506.68" x2="260.70" y2="506.68" stroke="#222" stroke-width="1" />
<line x1="257.50" y1="483.16" x2="260.70" y2="483.16" stroke="#222" stroke-width="1" />
<line x1="257.50" y1="459.64" x2="260.70" y2="459.64" stroke="#222" stroke-width="1" />
<line x1="257.50" y1="436.12" x2="260.70" y2="436.12" stroke="#222" stroke-width="1" />
<line x1="257.50" y1="412.60" x2="260.70" y2="412.60" stroke="#222" stroke-width="1" />
<line x1="257.50" y1="389.08" x2="260.70" y2="389.08" stroke="#222" stroke-width="1" />
<line x1="257.50" y1="518.44" x2="259.00" y2="518.44" stroke="#222" stroke-width="1" />
<line x1="257.50" y1="494.92" x2="259.00" y2="494.92" stroke="#222" stroke-width="1" />
<line x1="257.50" y1="471.40" x2="259.00" y2="471.40" stroke="#222" stroke-width="1" />
<line x1="257.50" y1="447.88" x2="259.00" y2="447.88" stroke="#222" stroke-width="1" />
<line x1="257.50" y1="424.36" x2="259.00" y2="424.36" stroke="#222" stroke-width="1" />
<line x1="257.50" y1="400.84" x2="259.00" y2="400.84" stroke="#222" stroke-width="1" />
<text x="254.50" y="533.15" text-anchor="end" style="font-size:9.5px;font-weight:bold;fill:#111;" >0</text>
<text x="254.50" y="509.63" text-anchor="end" style="font-size:9.5px;font-weight:bold;fill:#111;" >2</text>
<text x="254.50" y="486.11" text-anchor="end" style="font-size:9.5px;font-weight:bold;fill:#111;" >4</text>
<text x="254.50" y="462.59" text-anchor="end" style="font-size:9.5px;font-weight:bold;fill:#111;" >6</text>
<text x="254.50" y="439.07" text-anchor="end" style="font-size:9.5px;font-weight:bold;fill:#111;" >8</text>
<text x="254.50" y="415.55" text-anchor="end" style="font-size:9.5px;font-weight:bold;fill:#111;" >10</text>
<text x="254.50" y="392.03" text-anchor="end" style="font-size:9.5px;font-weight:bold;fill:#111;" >12</text>
<text x="230.20" y="374.40" text-anchor="start" style="font-size:17.5px;font-weight:bold;fill:#111;" >h</text>
<text x="352.00" y="554.50" text-anchor="middle" style="font-size:11.4px;font-weight:bold;fill:#111;" >Depth (nm)</text>
<text transform="translate(240.0,454.0) rotate(-90)" text-anchor="middle" style="font-size:11.4px;font-weight:bold;fill:#111">Doping Density (x10<tspan dy="-4.3" font-size="7.8">17</tspan><tspan dy="4.3"> cm</tspan><tspan dy="-4.3" font-size="7.8">-3</tspan><tspan dy="4.3">)</tspan></text>
<line x1="262.30" y1="386.40" x2="282.90" y2="386.40" stroke="#4a7bc8" stroke-width="1.0" />
<circle cx="272.8" cy="386.4" r="1.7" fill="#fff" stroke="#4a7bc8" stroke-width="0.8"/>
<line x1="262.30" y1="400.00" x2="282.90" y2="400.00" stroke="#a9c3ea" stroke-width="1.6" />
<circle cx="272.8" cy="400.0" r="1.8" fill="#7ea6e0" stroke="#4a7bc8" stroke-width="0.8"/>
<text x="285.80" y="389.20" text-anchor="start" style="font-size:9.0px;font-weight:bold;fill:#111;" >With Ta<tspan dy="2.97" font-size="6.12">2</tspan><tspan dy="-2.97">O</tspan><tspan dy="2.97" font-size="6.12">5</tspan><tspan dy="-2.97"> CV</tspan></text>
<text x="285.80" y="402.60" text-anchor="start" style="font-size:9.0px;font-weight:bold;fill:#111;" >With Ta<tspan dy="2.97" font-size="6.12">2</tspan><tspan dy="-2.97">O</tspan><tspan dy="2.97" font-size="6.12">5</tspan><tspan dy="-2.97"> DLCP</tspan></text>
<text x="312.70" y="478.60" text-anchor="start" style="font-size:9.0px;font-weight:bold;fill:#4f7fca;" >V=0</text>
<text x="312.70" y="490.40" text-anchor="start" style="font-size:9.0px;font-weight:bold;fill:#4f7fca;" >W<tspan dy="2.97" font-size="6.12">d</tspan><tspan dy="-2.97">=152.42 nm</tspan></text>
<defs><clipPath id="clipI"><rect x="486.8" y="378.3" width="187.8" height="151.2"/></clipPath><marker id="miL" markerUnits="userSpaceOnUse" markerWidth="4" markerHeight="4" refX="2" refY="2" overflow="visible"><circle cx="2" cy="2" r="1.75" fill="url(#gL)"/></marker><marker id="miD" markerUnits="userSpaceOnUse" markerWidth="4" markerHeight="4" refX="2" refY="2" overflow="visible"><circle cx="2" cy="2" r="1.75" fill="url(#gD)"/></marker></defs>
<g clip-path="url(#clipI)">
<line x1="499.20" y1="477.60" x2="628.00" y2="424.00" stroke="#f5a0a0" stroke-width="0.9" />
<line x1="616.50" y1="434.50" x2="640.00" y2="405.00" stroke="#f5a0a0" stroke-width="0.9" />
<line x1="499.20" y1="496.20" x2="620.00" y2="446.00" stroke="#f04545" stroke-width="0.9" />
<line x1="607.50" y1="456.00" x2="628.00" y2="425.50" stroke="#f04545" stroke-width="0.9" />
<polyline points="499.2,476.7 525.4,466.2 540.8,460.0 551.7,455.6 560.2,452.2 567.1,449.5 572.9,447.2 577.9,445.2 582.4,443.4 586.4,441.8 590.0,440.4 593.3,439.1 596.3,437.9 599.1,436.8 601.8,435.7 604.2,434.7 606.5,433.8 608.7,432.9 610.7,432.1 612.6,431.3 614.5,430.5 616.3,429.8 617.9,429.1 619.6,428.4 621.1,427.5 622.6,426.3 624.0,424.8 625.4,422.9 626.7,420.9 628.0,419.0 629.2,417.2 630.4,415.6 631.6,414.1 632.7,412.7 633.8,411.3 634.9,410.0 635.9,408.8 637.0,407.7 637.9,406.8 638.9,405.9 639.8,405.1 640.7,404.4 641.6,403.8 642.5,403.2 643.4,402.6 644.2,402.1 645.0,401.6 645.8,401.1 646.6,400.6 647.4,400.2 648.1,399.8 648.8,399.4 649.6,399.0 650.3,398.6 651.0,398.3 651.6,398.0 652.3,397.6 653.0,397.3 653.6,396.9 654.3,396.6 654.9,396.3 655.5,395.9 656.1,395.6 656.7,395.2 657.3,394.9 657.9,394.6 658.4,394.2 659.0,393.9 659.5,393.6 660.1,393.3 660.6,392.9 661.2,392.6 661.7,392.3 662.2,392.0 662.7,391.7 663.2,391.5 663.7,391.2 664.2,390.9 664.7,390.6 665.1,390.3 665.6,390.1 666.1,389.8 666.5,389.6 667.0,389.3 667.4,389.0 667.9,388.8 668.3,388.6 668.8,388.3 669.2,388.1 669.6,387.8 670.0,387.6 670.4,387.4 670.9,387.1 671.3,386.9 671.7,386.7 672.1,386.5 672.4,386.2 672.8,386.0 673.2,385.8 673.6,385.6" fill="none" stroke="#86c6e6" stroke-width="0.8" marker-start="url(#miL)" marker-mid="url(#miL)" marker-end="url(#miL)"/>
<polyline points="499.2,495.5 525.4,484.3 540.8,477.7 551.7,473.1 560.2,469.5 567.1,466.7 572.9,464.3 577.9,462.3 582.4,460.5 586.4,458.9 590.0,457.4 593.3,456.1 596.3,454.9 599.1,453.8 601.8,452.7 604.2,451.7 606.5,450.8 608.7,449.9 610.7,449.0 612.6,448.2 614.5,447.6 616.3,445.3 617.9,441.9 619.6,438.4 621.1,435.4 622.6,433.1 624.0,431.1 625.4,429.2 626.7,427.5 628.0,425.9 629.2,424.4 630.4,423.0 631.6,421.6 632.7,420.4 633.8,419.3 634.9,418.2 635.9,417.2 637.0,416.4 637.9,415.6 638.9,414.8 639.8,414.1 640.7,413.5 641.6,412.9 642.5,412.3 643.4,411.8 644.2,411.4 645.0,410.9 645.8,410.5 646.6,410.1 647.4,409.7 648.1,409.2 648.8,408.8 649.6,408.4 650.3,408.0 651.0,407.6 651.6,407.2 652.3,406.8 653.0,406.4 653.6,406.0 654.3,405.6 654.9,405.2 655.5,404.9 656.1,404.5 656.7,404.2 657.3,403.8 657.9,403.5 658.4,403.2 659.0,402.9 659.5,402.6 660.1,402.2 660.6,402.0 661.2,401.7 661.7,401.4 662.2,401.1 662.7,400.8 663.2,400.6 663.7,400.3 664.2,400.0 664.7,399.8 665.1,399.5 665.6,399.3 666.1,399.0 666.5,398.8 667.0,398.6 667.4,398.3 667.9,398.1 668.3,397.9 668.8,397.6 669.2,397.4 669.6,397.2 670.0,397.0 670.4,396.8 670.9,396.6 671.3,396.4 671.7,396.1 672.1,395.9 672.4,395.7 672.8,395.5 673.2,395.3 673.6,395.1" fill="none" stroke="#4a7bc8" stroke-width="0.8" marker-start="url(#miD)" marker-mid="url(#miD)" marker-end="url(#miD)"/>
<path d="M630.00,416.22 L631.50,414.28 L633.00,412.36 L634.50,410.52 L636.00,408.78 L637.50,407.19 L639.00,405.80 L640.50,404.59 L642.00,403.52 L643.50,402.54 L645.00,401.62 L646.50,400.69 L648.00,399.84 L649.50,399.04 L651.00,398.27 L652.50,397.52 L654.00,396.74 L655.50,395.91 L657.00,395.06 L658.50,394.19 L660.00,393.32 L661.50,392.44 L663.00,391.57 L664.50,390.72 L666.00,389.87 L667.50,389.02 L669.00,388.17 L670.50,387.33 L672.00,386.49 L673.50,385.64 L675.00,384.80" fill="none" stroke="#f2a8b0" stroke-width="0.9"/>
<path d="M622.00,434.00 L623.50,431.78 L625.00,429.74 L626.50,427.81 L628.00,425.92 L629.50,424.08 L631.00,422.32 L632.50,420.66 L634.00,419.10 L635.50,417.65 L637.00,416.33 L638.50,415.12 L640.00,414.00 L641.50,412.96 L643.00,412.04 L644.50,411.20 L646.00,410.40 L647.50,409.59 L649.00,408.72 L650.50,407.84 L652.00,406.95 L653.50,406.06 L655.00,405.17 L656.50,404.29 L658.00,403.42 L659.50,402.58 L661.00,401.75 L662.50,400.94 L664.00,400.14 L665.50,399.35 L667.00,398.56 L668.50,397.78 L670.00,397.01 L671.50,396.23 L673.00,395.45 L674.50,394.66" fill="none" stroke="#d8505a" stroke-width="0.9"/>
<line x1="612.00" y1="431.00" x2="631.00" y2="420.00" stroke="#f5a0a0" stroke-width="0.8" />
<line x1="604.00" y1="452.00" x2="624.00" y2="441.00" stroke="#f04545" stroke-width="0.8" />
</g>
<path d="M588.8,494.0 L644.2,502.6 L644.2,504.6 L588.8,497.6 Z" fill="#d9c9ee" stroke="none" stroke-width="0.4"/>
<path d="M644.2,502.6 L668.3,486.0 L668.3,487.6 L644.2,504.6 Z" fill="#d9c9ee" stroke="none" stroke-width="0.4"/>
<path d="M588.8,497.6 L644.2,504.6 L644.2,513.2 L588.8,506.6 Z" fill="#a9c8e8" stroke="none" stroke-width="0.4"/>
<path d="M644.2,504.6 L668.3,487.6 L668.3,498.0 L644.2,513.2 Z" fill="#a9c8e8" stroke="none" stroke-width="0.4"/>
<path d="M588.8,506.6 L644.2,513.2 L644.2,516.8 L588.8,510.3 Z" fill="#f6cd4a" stroke="none" stroke-width="0.4"/>
<path d="M644.2,513.2 L668.3,498.0 L668.3,503.5 L644.2,516.8 Z" fill="#f6cd4a" stroke="none" stroke-width="0.4"/>
<path d="M588.8,510.3 L644.2,516.8 L644.2,525.0 L588.8,517.8 Z" fill="#e2e2e2" stroke="none" stroke-width="0.4"/>
<path d="M644.2,516.8 L668.3,503.5 L668.3,511.5 L644.2,525.0 Z" fill="#e2e2e2" stroke="none" stroke-width="0.4"/>
<path d="M644.2,502.6 L668.3,486 L668.3,511.5 L644.2,525 Z" fill="#000" opacity="0.13"/>
<path d="M588.8,493.0 L614.3,477.8 L668.3,485.0 L644.2,501.8 Z" fill="#e7a9c7" stroke="none" stroke-width="0.4"/>
<g stroke="#d6d6c4" stroke-width="1.7" stroke-linecap="round" fill="none"><path d="M598,491.5 L619,480.6 L662,486"/><path d="M603,493 L622,482.5"/><path d="M610,494.5 L629,483.5"/><path d="M617,496 L636,484.5"/><path d="M624,497.5 L643,485.5"/><path d="M631,499 L650,486.5"/></g>
<text x="617.5" y="493.8" text-anchor="middle" style="font-size:5px;font-weight:bold;fill:#222">Ag</text>
<text x="616.5" y="501.6" text-anchor="middle" style="font-size:5px;font-weight:bold;fill:#222" transform="rotate(6,616.5,501.6)">PCBM</text>
<text x="615.5" y="506.8" text-anchor="middle" style="font-size:5px;font-weight:bold;fill:#222" transform="rotate(6,615.5,506.8)">Sb<tspan dy="1" font-size="3.4">2</tspan><tspan dy="-1">(S,Se)</tspan><tspan dy="1" font-size="3.4">3</tspan></text>
<text x="614" y="514.3" text-anchor="middle" style="font-size:5px;font-weight:bold;fill:#222" transform="rotate(6,614,514.3)">CdS</text>
<text x="614.5" y="521.6" text-anchor="middle" style="font-size:5px;font-weight:bold;fill:#222" transform="rotate(6,614.5,521.6)">FTO/Glass</text>
<rect x="486.80" y="378.30" width="187.80" height="151.20" fill="none" stroke="#222" stroke-width="1"/>
<line x1="486.80" y1="529.50" x2="489.80" y2="529.50" stroke="#222" stroke-width="1" />
<text x="483.30" y="533.20" text-anchor="end" style="font-size:10px;font-weight:bold;fill:#111">10<tspan dy="-4.1" font-size="7">−3</tspan></text>
<line x1="486.80" y1="518.95" x2="488.30" y2="518.95" stroke="#222" stroke-width="1" />
<line x1="486.80" y1="512.78" x2="488.30" y2="512.78" stroke="#222" stroke-width="1" />
<line x1="486.80" y1="508.40" x2="488.30" y2="508.40" stroke="#222" stroke-width="1" />
<line x1="486.80" y1="505.00" x2="488.30" y2="505.00" stroke="#222" stroke-width="1" />
<line x1="486.80" y1="502.23" x2="488.30" y2="502.23" stroke="#222" stroke-width="1" />
<line x1="486.80" y1="499.88" x2="488.30" y2="499.88" stroke="#222" stroke-width="1" />
<line x1="486.80" y1="497.85" x2="488.30" y2="497.85" stroke="#222" stroke-width="1" />
<line x1="486.80" y1="496.06" x2="488.30" y2="496.06" stroke="#222" stroke-width="1" />
<line x1="486.80" y1="494.45" x2="489.80" y2="494.45" stroke="#222" stroke-width="1" />
<text x="483.30" y="498.15" text-anchor="end" style="font-size:10px;font-weight:bold;fill:#111">10<tspan dy="-4.1" font-size="7">−2</tspan></text>
<line x1="486.80" y1="483.90" x2="488.30" y2="483.90" stroke="#222" stroke-width="1" />
<line x1="486.80" y1="477.73" x2="488.30" y2="477.73" stroke="#222" stroke-width="1" />
<line x1="486.80" y1="473.35" x2="488.30" y2="473.35" stroke="#222" stroke-width="1" />
<line x1="486.80" y1="469.95" x2="488.30" y2="469.95" stroke="#222" stroke-width="1" />
<line x1="486.80" y1="467.18" x2="488.30" y2="467.18" stroke="#222" stroke-width="1" />
<line x1="486.80" y1="464.83" x2="488.30" y2="464.83" stroke="#222" stroke-width="1" />
<line x1="486.80" y1="462.80" x2="488.30" y2="462.80" stroke="#222" stroke-width="1" />
<line x1="486.80" y1="461.01" x2="488.30" y2="461.01" stroke="#222" stroke-width="1" />
<line x1="486.80" y1="459.40" x2="489.80" y2="459.40" stroke="#222" stroke-width="1" />
<text x="483.30" y="463.10" text-anchor="end" style="font-size:10px;font-weight:bold;fill:#111">10<tspan dy="-4.1" font-size="7">−1</tspan></text>
<line x1="486.80" y1="448.85" x2="488.30" y2="448.85" stroke="#222" stroke-width="1" />
<line x1="486.80" y1="442.68" x2="488.30" y2="442.68" stroke="#222" stroke-width="1" />
<line x1="486.80" y1="438.30" x2="488.30" y2="438.30" stroke="#222" stroke-width="1" />
<line x1="486.80" y1="434.90" x2="488.30" y2="434.90" stroke="#222" stroke-width="1" />
<line x1="486.80" y1="432.13" x2="488.30" y2="432.13" stroke="#222" stroke-width="1" />
<line x1="486.80" y1="429.78" x2="488.30" y2="429.78" stroke="#222" stroke-width="1" />
<line x1="486.80" y1="427.75" x2="488.30" y2="427.75" stroke="#222" stroke-width="1" />
<line x1="486.80" y1="425.96" x2="488.30" y2="425.96" stroke="#222" stroke-width="1" />
<line x1="486.80" y1="424.35" x2="489.80" y2="424.35" stroke="#222" stroke-width="1" />
<text x="483.30" y="428.05" text-anchor="end" style="font-size:10px;font-weight:bold;fill:#111">10<tspan dy="-4.1" font-size="7">0</tspan></text>
<line x1="486.80" y1="413.80" x2="488.30" y2="413.80" stroke="#222" stroke-width="1" />
<line x1="486.80" y1="407.63" x2="488.30" y2="407.63" stroke="#222" stroke-width="1" />
<line x1="486.80" y1="403.25" x2="488.30" y2="403.25" stroke="#222" stroke-width="1" />
<line x1="486.80" y1="399.86" x2="488.30" y2="399.86" stroke="#222" stroke-width="1" />
<line x1="486.80" y1="397.08" x2="488.30" y2="397.08" stroke="#222" stroke-width="1" />
<line x1="486.80" y1="394.73" x2="488.30" y2="394.73" stroke="#222" stroke-width="1" />
<line x1="486.80" y1="392.70" x2="488.30" y2="392.70" stroke="#222" stroke-width="1" />
<line x1="486.80" y1="390.91" x2="488.30" y2="390.91" stroke="#222" stroke-width="1" />
<line x1="486.80" y1="389.31" x2="489.80" y2="389.31" stroke="#222" stroke-width="1" />
<text x="483.30" y="393.01" text-anchor="end" style="font-size:10px;font-weight:bold;fill:#111">10<tspan dy="-4.1" font-size="7">1</tspan></text>
<line x1="486.80" y1="378.75" x2="488.30" y2="378.75" stroke="#222" stroke-width="1" />
<line x1="499.19" y1="529.50" x2="499.19" y2="526.50" stroke="#222" stroke-width="1" />
<text x="499.19" y="540.30" text-anchor="middle" style="font-size:9.5px;font-weight:bold;fill:#111;" >0.01</text>
<line x1="525.44" y1="529.50" x2="525.44" y2="528.00" stroke="#222" stroke-width="1" />
<line x1="540.80" y1="529.50" x2="540.80" y2="528.00" stroke="#222" stroke-width="1" />
<line x1="551.70" y1="529.50" x2="551.70" y2="528.00" stroke="#222" stroke-width="1" />
<line x1="560.16" y1="529.50" x2="560.16" y2="528.00" stroke="#222" stroke-width="1" />
<line x1="567.06" y1="529.50" x2="567.06" y2="528.00" stroke="#222" stroke-width="1" />
<line x1="572.90" y1="529.50" x2="572.90" y2="528.00" stroke="#222" stroke-width="1" />
<line x1="577.96" y1="529.50" x2="577.96" y2="528.00" stroke="#222" stroke-width="1" />
<line x1="582.42" y1="529.50" x2="582.42" y2="528.00" stroke="#222" stroke-width="1" />
<line x1="586.41" y1="529.50" x2="586.41" y2="526.50" stroke="#222" stroke-width="1" />
<text x="586.41" y="540.30" text-anchor="middle" style="font-size:9.5px;font-weight:bold;fill:#111;" >0.1</text>
<line x1="612.67" y1="529.50" x2="612.67" y2="528.00" stroke="#222" stroke-width="1" />
<line x1="628.03" y1="529.50" x2="628.03" y2="528.00" stroke="#222" stroke-width="1" />
<line x1="638.93" y1="529.50" x2="638.93" y2="528.00" stroke="#222" stroke-width="1" />
<line x1="647.38" y1="529.50" x2="647.38" y2="528.00" stroke="#222" stroke-width="1" />
<line x1="654.29" y1="529.50" x2="654.29" y2="528.00" stroke="#222" stroke-width="1" />
<line x1="660.13" y1="529.50" x2="660.13" y2="528.00" stroke="#222" stroke-width="1" />
<line x1="665.19" y1="529.50" x2="665.19" y2="528.00" stroke="#222" stroke-width="1" />
<line x1="669.65" y1="529.50" x2="669.65" y2="528.00" stroke="#222" stroke-width="1" />
<line x1="673.64" y1="529.50" x2="673.64" y2="526.50" stroke="#222" stroke-width="1" />
<text x="673.64" y="540.30" text-anchor="middle" style="font-size:9.5px;font-weight:bold;fill:#111;" >1</text>
<text x="463.50" y="374.40" text-anchor="start" style="font-size:17.5px;font-weight:bold;fill:#111;" >i</text>
<text x="580.70" y="554.50" text-anchor="middle" style="font-size:11.4px;font-weight:bold;fill:#111;" >Voltage (V)</text>
<text transform="translate(459.8,454.2) rotate(-90)" text-anchor="middle" style="font-size:11.4px;font-weight:bold;fill:#111"><tspan font-style="italic">J</tspan><tspan dy="2.8" font-size="7.8">sc</tspan><tspan dy="-2.8"> (mA cm</tspan><tspan dy="-4.3" font-size="7.8">-2</tspan><tspan dy="4.3">)</tspan></text>
<circle cx="500.8" cy="386.0" r="1.75" fill="url(#gL)"/>
<circle cx="500.8" cy="398.0" r="1.75" fill="url(#gD)"/>
<text x="514.80" y="389.30" text-anchor="start" style="font-size:9.3px;font-weight:bold;fill:#111;" >Control</text>
<text x="514.80" y="401.30" text-anchor="start" style="font-size:9.3px;font-weight:bold;fill:#111;" >With Ta<tspan dy="3.07" font-size="6.32">2</tspan><tspan dy="-3.07">O</tspan><tspan dy="3.07" font-size="6.32">5</tspan></text>
<text x="564" y="424.4" style="font-size:9.5px;font-weight:bold;fill:#8ccbea">V<tspan dy="2.4" font-size="6.6">TFL</tspan><tspan dy="-2.4">=0.26 V</tspan></text>
<text x="613" y="461.5" style="font-size:9.5px;font-weight:bold;fill:#4f7fca">V<tspan dy="2.4" font-size="6.6">TFL</tspan><tspan dy="-2.4">=0.19 V</tspan></text>
</svg></body></html>
